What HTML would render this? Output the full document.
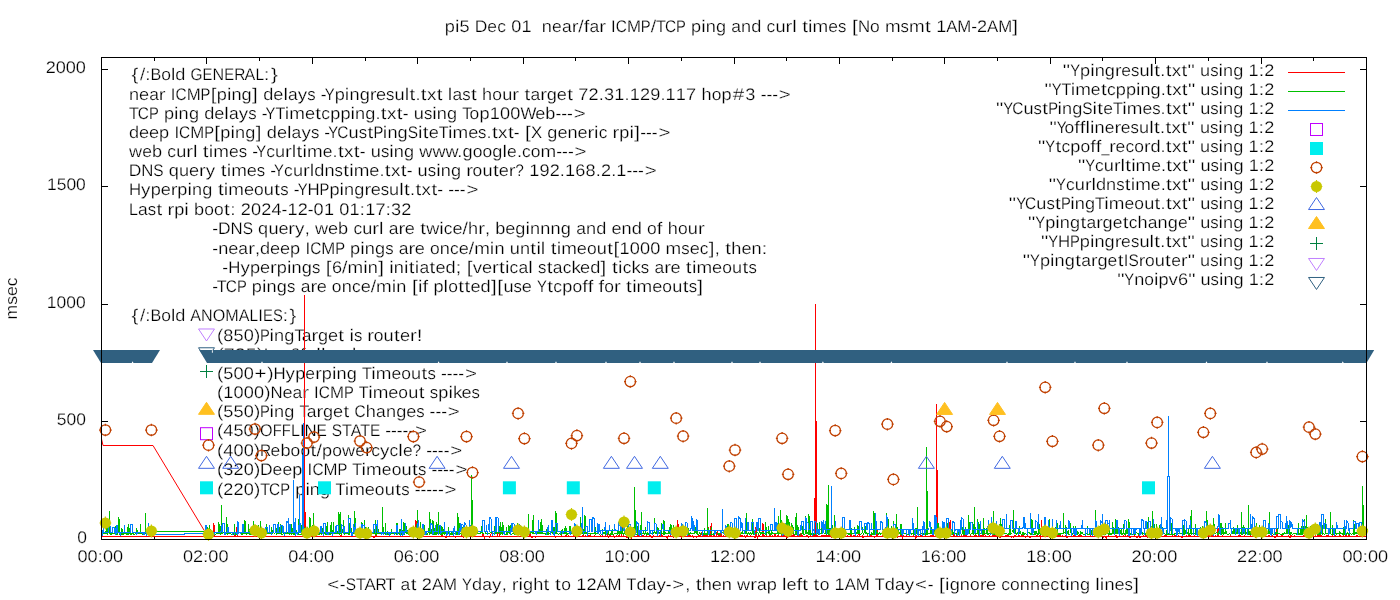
<!DOCTYPE html>
<html><head><meta charset="utf-8"><title>plot</title><style>
html,body{margin:0;padding:0;background:#fff;overflow:hidden}svg{display:block}
text{font-family:"Liberation Sans",sans-serif;font-size:16.8px;fill:#000;stroke:#fff;stroke-width:.24px;paint-order:fill stroke;text-rendering:geometricPrecision}
</style></head><body><div style="will-change:transform;width:1400px;height:600px">
<svg width="1400" height="600" viewBox="0 0 1400 600">
<rect width="1400" height="600" fill="#fff"/>
<text transform="scale(1.08,1)" x="411.9" y="32.0">p</text>
<text transform="scale(1.2,1)" x="379.2" y="32.0">i</text>
<text transform="scale(1.08,1)" x="425.5" y="32.0">5</text>
<text transform="scale(1.04,1)" x="456.5 468.6 478.1" y="32.0">Dec</text>
<text transform="scale(1.08,1)" x="473.3 482.8" y="32.0">01</text>
<text transform="scale(1.08,1)" x="501.7" y="32.0">n</text>
<text transform="scale(1.04,1)" x="530.8 540.3" y="32.0">ea</text>
<text transform="scale(1.2,1)" x="476.4" y="32.0">r</text>
<text transform="scale(1.16,1)" x="498.6" y="32.0">/</text>
<text transform="scale(1.2,1)" x="486.5" y="32.0">f</text>
<text transform="scale(1.04,1)" x="566.8" y="32.0">a</text>
<text transform="scale(1.2,1)" x="499.4" y="32.0">r</text>
<text transform="scale(1.0,1)" x="611.1" y="32.0">I</text>
<text transform="scale(0.92,1)" x="669.4" y="32.0">C</text>
<text transform="scale(1.0,1)" x="627.0" y="32.0">M</text>
<text transform="scale(0.88,1)" x="728.2" y="32.0">P</text>
<text transform="scale(1.16,1)" x="560.9" y="32.0">/</text>
<text transform="scale(0.96,1)" x="683.3" y="32.0">T</text>
<text transform="scale(0.92,1)" x="722.8" y="32.0">C</text>
<text transform="scale(0.88,1)" x="768.2" y="32.0">P</text>
<text transform="scale(1.08,1)" x="639.8" y="32.0">p</text>
<text transform="scale(1.2,1)" x="584.3" y="32.0">i</text>
<text transform="scale(1.08,1)" x="653.4 662.9" y="32.0">ng</text>
<text transform="scale(1.04,1)" x="703.1" y="32.0">a</text>
<text transform="scale(1.08,1)" x="686.2 695.6" y="32.0">nd</text>
<text transform="scale(1.04,1)" x="737.1" y="32.0">c</text>
<text transform="scale(1.08,1)" x="718.0" y="32.0">u</text>
<text transform="scale(1.2,1)" x="654.6 660.2" y="32.0">rl</text>
<text transform="scale(1.22,1)" x="657.5" y="32.0">t</text>
<text transform="scale(1.2,1)" x="673.4" y="32.0">i</text>
<text transform="scale(1.12,1)" x="725.5" y="32.0">m</text>
<text transform="scale(1.04,1)" x="796.5" y="32.0">e</text>
<text transform="scale(1.0,1)" x="838.1" y="32.0">s</text>
<text transform="scale(1.22,1)" x="698.3" y="32.0">[</text>
<text transform="scale(1.0,1)" x="857.9" y="32.0">N</text>
<text transform="scale(1.04,1)" x="836.6" y="32.0">o</text>
<text transform="scale(1.12,1)" x="790.1" y="32.0">m</text>
<text transform="scale(1.0,1)" x="900.6" y="32.0">s</text>
<text transform="scale(1.12,1)" x="811.6" y="32.0">m</text>
<text transform="scale(1.22,1)" x="758.2" y="32.0">t</text>
<text transform="scale(1.08,1)" x="866.8" y="32.0">1</text>
<text transform="scale(1.0,1)" x="946.2 957.3" y="32.0">AM</text>
<text transform="scale(1.04,1)" x="933.8" y="32.0">-</text>
<text transform="scale(1.08,1)" x="904.7" y="32.0">2</text>
<text transform="scale(1.0,1)" x="987.1 998.2" y="32.0">AM</text>
<text transform="scale(1.22,1)" x="829.8" y="32.0">]</text>
<text transform="scale(1.22,1)" x="268.2" y="590.0">&lt;</text>
<text transform="scale(1.04,1)" x="326.8" y="590.0">-</text>
<text transform="scale(0.92,1)" x="375.7" y="590.0">S</text>
<text transform="scale(0.96,1)" x="370.8" y="590.0">T</text>
<text transform="scale(1.0,1)" x="364.4" y="590.0">A</text>
<text transform="scale(0.92,1)" x="408.2" y="590.0">R</text>
<text transform="scale(0.96,1)" x="401.6" y="590.0">T</text>
<text transform="scale(1.04,1)" x="385.2" y="590.0">a</text>
<text transform="scale(1.22,1)" x="336.6" y="590.0">t</text>
<text transform="scale(1.08,1)" x="390.6" y="590.0">2</text>
<text transform="scale(1.0,1)" x="432.0 443.0" y="590.0">AM</text>
<text transform="scale(0.88,1)" x="525.1" y="590.0">Y</text>
<text transform="scale(1.08,1)" x="437.0" y="590.0">d</text>
<text transform="scale(1.04,1)" x="463.7" y="590.0">a</text>
<text transform="scale(1.12,1)" x="439.4" y="590.0">y</text>
<text transform="scale(1.08,1)" x="464.5" y="590.0">,</text>
<text transform="scale(1.2,1)" x="426.5 432.0" y="590.0">ri</text>
<text transform="scale(1.08,1)" x="484.2 493.7" y="590.0">gh</text>
<text transform="scale(1.22,1)" x="445.6" y="590.0">t</text>
<text transform="scale(1.22,1)" x="455.0" y="590.0">t</text>
<text transform="scale(1.04,1)" x="539.6" y="590.0">o</text>
<text transform="scale(1.08,1)" x="533.5 543.0" y="590.0">12</text>
<text transform="scale(1.0,1)" x="596.5 607.5" y="590.0">AM</text>
<text transform="scale(0.96,1)" x="652.7" y="590.0">T</text>
<text transform="scale(1.08,1)" x="589.4" y="590.0">d</text>
<text transform="scale(1.04,1)" x="621.9" y="590.0">a</text>
<text transform="scale(1.12,1)" x="586.2" y="590.0">y</text>
<text transform="scale(1.04,1)" x="640.2" y="590.0">-</text>
<text transform="scale(1.22,1)" x="551.1" y="590.0">&gt;</text>
<text transform="scale(1.08,1)" x="634.4" y="590.0">,</text>
<text transform="scale(1.22,1)" x="570.2" y="590.0">t</text>
<text transform="scale(1.08,1)" x="649.7 659.0 668.4" y="590.0">hen</text>
<text transform="scale(1.08,1)" x="682.5" y="590.0">w</text>
<text transform="scale(1.2,1)" x="625.2" y="590.0">r</text>
<text transform="scale(1.04,1)" x="727.8" y="590.0">a</text>
<text transform="scale(1.08,1)" x="710.0" y="590.0">p</text>
<text transform="scale(1.2,1)" x="651.7" y="590.0">l</text>
<text transform="scale(1.08,1)" x="728.2" y="590.0">e</text>
<text transform="scale(1.2,1)" x="663.8" y="590.0">f</text>
<text transform="scale(1.22,1)" x="657.5" y="590.0">t</text>
<text transform="scale(1.22,1)" x="666.9" y="590.0">t</text>
<text transform="scale(1.04,1)" x="788.2" y="590.0">o</text>
<text transform="scale(1.08,1)" x="772.8" y="590.0">1</text>
<text transform="scale(1.0,1)" x="844.8 855.8" y="590.0">AM</text>
<text transform="scale(0.96,1)" x="911.3" y="590.0">T</text>
<text transform="scale(1.08,1)" x="819.2" y="590.0">d</text>
<text transform="scale(1.04,1)" x="860.6" y="590.0">a</text>
<text transform="scale(1.12,1)" x="807.9" y="590.0">y</text>
<text transform="scale(1.22,1)" x="750.1" y="590.0">&lt;</text>
<text transform="scale(1.04,1)" x="892.2" y="590.0">-</text>
<text transform="scale(1.22,1)" x="769.7" y="590.0">[</text>
<text transform="scale(1.2,1)" x="787.5" y="590.0">i</text>
<text transform="scale(1.08,1)" x="879.3 888.7" y="590.0">gn</text>
<text transform="scale(1.04,1)" x="932.7" y="590.0">o</text>
<text transform="scale(1.2,1)" x="816.5" y="590.0">r</text>
<text transform="scale(1.08,1)" x="913.0" y="590.0">e</text>
<text transform="scale(1.04,1)" x="962.7 971.2" y="590.0">co</text>
<text transform="scale(1.08,1)" x="944.3 953.8 963.1" y="590.0">nne</text>
<text transform="scale(1.04,1)" x="1009.8" y="590.0">c</text>
<text transform="scale(1.22,1)" x="868.3" y="590.0">t</text>
<text transform="scale(1.2,1)" x="887.8" y="590.0">i</text>
<text transform="scale(1.08,1)" x="990.6 1000.1" y="590.0">ng</text>
<text transform="scale(1.2,1)" x="912.8 916.5" y="590.0">li</text>
<text transform="scale(1.08,1)" x="1022.6 1031.9" y="590.0">ne</text>
<text transform="scale(1.0,1)" x="1124.4" y="590.0">s</text>
<text transform="scale(1.22,1)" x="928.8" y="590.0">]</text>
<text transform="translate(16.7,319.4) rotate(-90)" x="0" y="0" textLength="42" lengthAdjust="spacingAndGlyphs">msec</text>
<text transform="scale(1.08,1)" x="42.4 51.7 60.9 70.2" y="72.8">2000</text>
<text transform="scale(1.04,1)" x="45.2 54.5 63.9 73.2" y="190.3">1500</text>
<text transform="scale(1.04,1)" x="45.0 54.4 63.8 73.2" y="307.8">1000</text>
<text transform="scale(1.04,1)" x="54.7 64.0 73.3" y="425.3">500</text>
<text transform="scale(1.04,1)" x="74.4" y="542.8">0</text>
<text transform="scale(1.08,1)" x="71.7 81.1" y="561.5">00</text>
<text transform="scale(1.16,1)" x="84.1" y="561.5">:</text>
<text transform="scale(1.08,1)" x="95.3 104.6" y="561.5">00</text>
<text transform="scale(1.08,1)" x="169.4 178.7" y="561.5">02</text>
<text transform="scale(1.16,1)" x="175.0" y="561.5">:</text>
<text transform="scale(1.08,1)" x="192.9 202.3" y="561.5">00</text>
<text transform="scale(1.08,1)" x="267.0 276.3" y="561.5">04</text>
<text transform="scale(1.16,1)" x="265.9" y="561.5">:</text>
<text transform="scale(1.08,1)" x="290.5 299.9" y="561.5">00</text>
<text transform="scale(1.08,1)" x="364.6 373.9" y="561.5">06</text>
<text transform="scale(1.16,1)" x="356.8" y="561.5">:</text>
<text transform="scale(1.08,1)" x="388.2 397.5" y="561.5">00</text>
<text transform="scale(1.08,1)" x="462.2 471.5" y="561.5">08</text>
<text transform="scale(1.16,1)" x="447.6" y="561.5">:</text>
<text transform="scale(1.08,1)" x="485.8 495.1" y="561.5">00</text>
<text transform="scale(1.08,1)" x="559.8 569.1" y="561.5">10</text>
<text transform="scale(1.16,1)" x="538.5" y="561.5">:</text>
<text transform="scale(1.08,1)" x="583.4 592.7" y="561.5">00</text>
<text transform="scale(1.08,1)" x="657.4 666.7" y="561.5">12</text>
<text transform="scale(1.16,1)" x="629.4" y="561.5">:</text>
<text transform="scale(1.08,1)" x="681.0 690.3" y="561.5">00</text>
<text transform="scale(1.08,1)" x="755.0 764.3" y="561.5">14</text>
<text transform="scale(1.16,1)" x="720.3" y="561.5">:</text>
<text transform="scale(1.08,1)" x="778.6 787.9" y="561.5">00</text>
<text transform="scale(1.08,1)" x="852.6 861.9" y="561.5">16</text>
<text transform="scale(1.16,1)" x="811.1" y="561.5">:</text>
<text transform="scale(1.08,1)" x="876.2 885.5" y="561.5">00</text>
<text transform="scale(1.08,1)" x="950.2 959.5" y="561.5">18</text>
<text transform="scale(1.16,1)" x="902.0" y="561.5">:</text>
<text transform="scale(1.08,1)" x="973.8 983.1" y="561.5">00</text>
<text transform="scale(1.08,1)" x="1047.8 1057.1" y="561.5">20</text>
<text transform="scale(1.16,1)" x="992.9" y="561.5">:</text>
<text transform="scale(1.08,1)" x="1071.4 1080.7" y="561.5">00</text>
<text transform="scale(1.08,1)" x="1145.4 1154.8" y="561.5">22</text>
<text transform="scale(1.16,1)" x="1083.8" y="561.5">:</text>
<text transform="scale(1.08,1)" x="1169.0 1178.3" y="561.5">00</text>
<text transform="scale(1.08,1)" x="1243.0 1252.4" y="561.5">00</text>
<text transform="scale(1.16,1)" x="1174.6" y="561.5">:</text>
<text transform="scale(1.08,1)" x="1266.6 1275.9" y="561.5">00</text>
<text transform="scale(1.22,1)" x="107.8" y="80.0">{</text>
<text transform="scale(1.12,1)" x="125.0 129.7" y="80.0">/:</text>
<text transform="scale(0.96,1)" x="156.8" y="80.0">B</text>
<text transform="scale(1.04,1)" x="155.1" y="80.0">o</text>
<text transform="scale(1.16,1)" x="147.4" y="80.0">l</text>
<text transform="scale(1.08,1)" x="162.3" y="80.0">d</text>
<text transform="scale(0.92,1)" x="207.0" y="80.0">G</text>
<text transform="scale(0.88,1)" x="230.2" y="80.0">E</text>
<text transform="scale(0.96,1)" x="221.4" y="80.0">N</text>
<text transform="scale(0.88,1)" x="254.9" y="80.0">E</text>
<text transform="scale(0.92,1)" x="254.5" y="80.0">R</text>
<text transform="scale(0.96,1)" x="254.7" y="80.0">A</text>
<text transform="scale(0.92,1)" x="277.6" y="80.0">L</text>
<text transform="scale(1.12,1)" x="235.8" y="80.0">:</text>
<text transform="scale(1.22,1)" x="222.1" y="80.0">}</text>
<text transform="scale(1.08,1)" x="119.4 128.7" y="99.5">ne</text>
<text transform="scale(1.04,1)" x="143.4" y="99.5">a</text>
<text transform="scale(1.2,1)" x="132.4" y="99.5">r</text>
<text transform="scale(1.0,1)" x="170.7" y="99.5">I</text>
<text transform="scale(0.92,1)" x="190.8" y="99.5">C</text>
<text transform="scale(1.0,1)" x="186.7" y="99.5">M</text>
<text transform="scale(0.88,1)" x="227.9" y="99.5">P</text>
<text transform="scale(1.22,1)" x="172.7" y="99.5">[</text>
<text transform="scale(1.08,1)" x="200.7" y="99.5">p</text>
<text transform="scale(1.2,1)" x="189.1" y="99.5">i</text>
<text transform="scale(1.08,1)" x="214.3 223.7" y="99.5">ng</text>
<text transform="scale(1.22,1)" x="206.6" y="99.5">]</text>
<text transform="scale(1.08,1)" x="243.8 253.1" y="99.5">de</text>
<text transform="scale(1.2,1)" x="236.2" y="99.5">l</text>
<text transform="scale(1.04,1)" x="276.9" y="99.5">a</text>
<text transform="scale(1.12,1)" x="265.9" y="99.5">y</text>
<text transform="scale(1.0,1)" x="307.3" y="99.5">s</text>
<text transform="scale(1.04,1)" x="308.5" y="99.5">-</text>
<text transform="scale(0.88,1)" x="369.0" y="99.5">Y</text>
<text transform="scale(1.08,1)" x="309.9" y="99.5">p</text>
<text transform="scale(1.2,1)" x="287.4" y="99.5">i</text>
<text transform="scale(1.08,1)" x="323.5 333.0" y="99.5">ng</text>
<text transform="scale(1.2,1)" x="308.1" y="99.5">r</text>
<text transform="scale(1.08,1)" x="348.1" y="99.5">e</text>
<text transform="scale(1.0,1)" x="386.0" y="99.5">s</text>
<text transform="scale(1.08,1)" x="365.2" y="99.5">u</text>
<text transform="scale(1.2,1)" x="337.2" y="99.5">l</text>
<text transform="scale(1.22,1)" x="335.6" y="99.5">t</text>
<text transform="scale(1.08,1)" x="384.7" y="99.5">.</text>
<text transform="scale(1.22,1)" x="344.9" y="99.5">t</text>
<text transform="scale(1.12,1)" x="381.2" y="99.5">x</text>
<text transform="scale(1.22,1)" x="358.0" y="99.5">t</text>
<text transform="scale(1.2,1)" x="373.2" y="99.5">l</text>
<text transform="scale(1.04,1)" x="435.0" y="99.5">a</text>
<text transform="scale(1.0,1)" x="462.2" y="99.5">s</text>
<text transform="scale(1.22,1)" x="386.0" y="99.5">t</text>
<text transform="scale(1.08,1)" x="446.4" y="99.5">h</text>
<text transform="scale(1.04,1)" x="473.4" y="99.5">o</text>
<text transform="scale(1.08,1)" x="465.0" y="99.5">u</text>
<text transform="scale(1.2,1)" x="426.9" y="99.5">r</text>
<text transform="scale(1.22,1)" x="429.9" y="99.5">t</text>
<text transform="scale(1.04,1)" x="510.1" y="99.5">a</text>
<text transform="scale(1.2,1)" x="450.2" y="99.5">r</text>
<text transform="scale(1.08,1)" x="506.2 515.6" y="99.5">ge</text>
<text transform="scale(1.22,1)" x="464.9" y="99.5">t</text>
<text transform="scale(1.08,1)" x="535.5 545.0 554.5 559.3 568.8 578.2 583.0 592.5 602.0 611.5 616.3 625.8 635.3" y="99.5">72.31.129.117</text>
<text transform="scale(1.08,1)" x="649.5" y="99.5">h</text>
<text transform="scale(1.04,1)" x="684.3" y="99.5">o</text>
<text transform="scale(1.08,1)" x="668.1" y="99.5">p</text>
<text transform="scale(1.22,1)" x="600.6" y="99.5">#</text>
<text transform="scale(1.08,1)" x="690.1" y="99.5">3</text>
<text transform="scale(1.04,1)" x="731.4 737.0 742.6" y="99.5">---</text>
<text transform="scale(1.22,1)" x="638.4" y="99.5">&gt;</text>
<text transform="scale(0.96,1)" x="134.3" y="118.7">T</text>
<text transform="scale(0.92,1)" x="149.8" y="118.7">C</text>
<text transform="scale(0.88,1)" x="169.3" y="118.7">P</text>
<text transform="scale(1.08,1)" x="151.8" y="118.7">p</text>
<text transform="scale(1.2,1)" x="145.1" y="118.7">i</text>
<text transform="scale(1.08,1)" x="165.4 174.9" y="118.7">ng</text>
<text transform="scale(1.08,1)" x="189.1 198.4" y="118.7">de</text>
<text transform="scale(1.2,1)" x="186.9" y="118.7">l</text>
<text transform="scale(1.04,1)" x="220.1" y="118.7">a</text>
<text transform="scale(1.12,1)" x="213.2" y="118.7">y</text>
<text transform="scale(1.0,1)" x="248.2" y="118.7">s</text>
<text transform="scale(1.04,1)" x="251.7" y="118.7">-</text>
<text transform="scale(0.88,1)" x="301.8" y="118.7">Y</text>
<text transform="scale(0.96,1)" x="286.9" y="118.7">T</text>
<text transform="scale(1.2,1)" x="237.3" y="118.7">i</text>
<text transform="scale(1.12,1)" x="258.3" y="118.7">m</text>
<text transform="scale(1.08,1)" x="282.3" y="118.7">e</text>
<text transform="scale(1.22,1)" x="258.4" y="118.7">t</text>
<text transform="scale(1.04,1)" x="308.9" y="118.7">c</text>
<text transform="scale(1.08,1)" x="305.7 315.2" y="118.7">pp</text>
<text transform="scale(1.2,1)" x="292.1" y="118.7">i</text>
<text transform="scale(1.08,1)" x="328.8 338.2 347.7" y="118.7">ng.</text>
<text transform="scale(1.22,1)" x="312.2" y="118.7">t</text>
<text transform="scale(1.12,1)" x="345.5" y="118.7">x</text>
<text transform="scale(1.22,1)" x="325.2" y="118.7">t</text>
<text transform="scale(1.04,1)" x="387.3" y="118.7">-</text>
<text transform="scale(1.08,1)" x="383.1" y="118.7">u</text>
<text transform="scale(1.0,1)" x="423.9" y="118.7">s</text>
<text transform="scale(1.2,1)" x="360.3" y="118.7">i</text>
<text transform="scale(1.08,1)" x="404.5 414.0" y="118.7">ng</text>
<text transform="scale(0.96,1)" x="481.6" y="118.7">T</text>
<text transform="scale(1.04,1)" x="451.5" y="118.7">o</text>
<text transform="scale(1.08,1)" x="443.9 453.4 462.9 472.4" y="118.7">p100</text>
<text transform="scale(1.0,1)" x="520.4" y="118.7">W</text>
<text transform="scale(1.08,1)" x="495.6 504.9" y="118.7">eb</text>
<text transform="scale(1.04,1)" x="534.1 539.7 545.3" y="118.7">---</text>
<text transform="scale(1.22,1)" x="470.2" y="118.7">&gt;</text>
<text transform="scale(1.08,1)" x="119.4 128.7 137.9 147.3" y="138.0">deep</text>
<text transform="scale(1.0,1)" x="174.4" y="138.0">I</text>
<text transform="scale(0.92,1)" x="194.7" y="138.0">C</text>
<text transform="scale(1.0,1)" x="190.3" y="138.0">M</text>
<text transform="scale(0.88,1)" x="232.0" y="138.0">P</text>
<text transform="scale(1.22,1)" x="175.6" y="138.0">[</text>
<text transform="scale(1.08,1)" x="204.0" y="138.0">p</text>
<text transform="scale(1.2,1)" x="192.1" y="138.0">i</text>
<text transform="scale(1.08,1)" x="217.6 227.1" y="138.0">ng</text>
<text transform="scale(1.22,1)" x="209.6" y="138.0">]</text>
<text transform="scale(1.08,1)" x="247.1 256.5" y="138.0">de</text>
<text transform="scale(1.2,1)" x="239.1" y="138.0">l</text>
<text transform="scale(1.04,1)" x="280.3" y="138.0">a</text>
<text transform="scale(1.12,1)" x="269.1" y="138.0">y</text>
<text transform="scale(1.0,1)" x="310.9" y="138.0">s</text>
<text transform="scale(1.04,1)" x="311.9" y="138.0">-</text>
<text transform="scale(0.88,1)" x="373.1" y="138.0">Y</text>
<text transform="scale(0.92,1)" x="366.6" y="138.0">C</text>
<text transform="scale(1.08,1)" x="322.8" y="138.0">u</text>
<text transform="scale(1.0,1)" x="358.7" y="138.0">s</text>
<text transform="scale(1.22,1)" x="301.2" y="138.0">t</text>
<text transform="scale(0.88,1)" x="424.3" y="138.0">P</text>
<text transform="scale(1.2,1)" x="319.0" y="138.0">i</text>
<text transform="scale(1.08,1)" x="358.7 368.1" y="138.0">ng</text>
<text transform="scale(0.92,1)" x="443.2" y="138.0">S</text>
<text transform="scale(1.2,1)" x="348.3" y="138.0">i</text>
<text transform="scale(1.22,1)" x="346.5" y="138.0">t</text>
<text transform="scale(1.08,1)" x="396.9" y="138.0">e</text>
<text transform="scale(0.96,1)" x="457.0" y="138.0">T</text>
<text transform="scale(1.2,1)" x="373.4" y="138.0">i</text>
<text transform="scale(1.12,1)" x="404.0" y="138.0">m</text>
<text transform="scale(1.08,1)" x="433.5" y="138.0">e</text>
<text transform="scale(1.0,1)" x="478.1" y="138.0">s</text>
<text transform="scale(1.08,1)" x="450.5" y="138.0">.</text>
<text transform="scale(1.22,1)" x="403.3" y="138.0">t</text>
<text transform="scale(1.12,1)" x="444.7" y="138.0">x</text>
<text transform="scale(1.22,1)" x="416.3" y="138.0">t</text>
<text transform="scale(1.04,1)" x="494.1" y="138.0">-</text>
<text transform="scale(1.22,1)" x="430.4" y="138.0">[</text>
<text transform="scale(1.0,1)" x="531.0" y="138.0">X</text>
<text transform="scale(1.08,1)" x="506.8 516.1 525.4 534.7" y="138.0">gene</text>
<text transform="scale(1.2,1)" x="489.6 495.1" y="138.0">ri</text>
<text transform="scale(1.04,1)" x="575.7" y="138.0">c</text>
<text transform="scale(1.2,1)" x="510.5" y="138.0">r</text>
<text transform="scale(1.08,1)" x="573.4" y="138.0">p</text>
<text transform="scale(1.2,1)" x="524.6" y="138.0">i</text>
<text transform="scale(1.22,1)" x="519.9" y="138.0">]</text>
<text transform="scale(1.04,1)" x="615.6 621.2 626.8" y="138.0">---</text>
<text transform="scale(1.22,1)" x="539.7" y="138.0">&gt;</text>
<text transform="scale(1.08,1)" x="119.4" y="157.0">w</text>
<text transform="scale(1.04,1)" x="136.7" y="157.0">e</text>
<text transform="scale(1.08,1)" x="140.8" y="157.0">b</text>
<text transform="scale(1.04,1)" x="160.9" y="157.0">c</text>
<text transform="scale(1.08,1)" x="163.1" y="157.0">u</text>
<text transform="scale(1.2,1)" x="155.2 160.8" y="157.0">rl</text>
<text transform="scale(1.22,1)" x="166.2" y="157.0">t</text>
<text transform="scale(1.2,1)" x="174.0" y="157.0">i</text>
<text transform="scale(1.12,1)" x="190.4" y="157.0">m</text>
<text transform="scale(1.04,1)" x="220.2" y="157.0">e</text>
<text transform="scale(1.0,1)" x="238.8" y="157.0">s</text>
<text transform="scale(1.04,1)" x="242.6" y="157.0">-</text>
<text transform="scale(0.88,1)" x="291.2" y="157.0">Y</text>
<text transform="scale(1.04,1)" x="255.9" y="157.0">c</text>
<text transform="scale(1.08,1)" x="254.6" y="157.0">u</text>
<text transform="scale(1.2,1)" x="237.5 243.1" y="157.0">rl</text>
<text transform="scale(1.22,1)" x="243.0" y="157.0">t</text>
<text transform="scale(1.2,1)" x="252.1" y="157.0">i</text>
<text transform="scale(1.12,1)" x="274.1" y="157.0">m</text>
<text transform="scale(1.04,1)" x="310.3" y="157.0">e</text>
<text transform="scale(1.08,1)" x="307.9" y="157.0">.</text>
<text transform="scale(1.22,1)" x="277.0" y="157.0">t</text>
<text transform="scale(1.12,1)" x="307.2" y="157.0">x</text>
<text transform="scale(1.22,1)" x="290.0" y="157.0">t</text>
<text transform="scale(1.04,1)" x="345.9" y="157.0">-</text>
<text transform="scale(1.08,1)" x="343.3" y="157.0">u</text>
<text transform="scale(1.0,1)" x="380.9" y="157.0">s</text>
<text transform="scale(1.2,1)" x="324.4" y="157.0">i</text>
<text transform="scale(1.08,1)" x="364.6 374.1" y="157.0">ng</text>
<text transform="scale(1.08,1)" x="388.2 400.4 412.6 423.4 428.2" y="157.0">www.g</text>
<text transform="scale(1.04,1)" x="454.5 463.9" y="157.0">oo</text>
<text transform="scale(1.08,1)" x="455.9" y="157.0">g</text>
<text transform="scale(1.2,1)" x="418.7" y="157.0">l</text>
<text transform="scale(1.04,1)" x="487.5" y="157.0">e</text>
<text transform="scale(1.08,1)" x="478.6" y="157.0">.</text>
<text transform="scale(1.04,1)" x="501.9 510.4" y="157.0">co</text>
<text transform="scale(1.12,1)" x="482.7" y="157.0">m</text>
<text transform="scale(1.04,1)" x="534.9 540.5 546.1" y="157.0">---</text>
<text transform="scale(1.22,1)" x="470.9" y="157.0">&gt;</text>
<text transform="scale(1.04,1)" x="123.8" y="176.2">D</text>
<text transform="scale(1.0,1)" x="141.3" y="176.2">N</text>
<text transform="scale(0.92,1)" x="166.6" y="176.2">S</text>
<text transform="scale(1.08,1)" x="156.3 165.7 175.0" y="176.2">que</text>
<text transform="scale(1.2,1)" x="165.8" y="176.2">r</text>
<text transform="scale(1.12,1)" x="183.7" y="176.2">y</text>
<text transform="scale(1.22,1)" x="180.9" y="176.2">t</text>
<text transform="scale(1.2,1)" x="188.9" y="176.2">i</text>
<text transform="scale(1.12,1)" x="206.4" y="176.2">m</text>
<text transform="scale(1.08,1)" x="228.5" y="176.2">e</text>
<text transform="scale(1.0,1)" x="256.7" y="176.2">s</text>
<text transform="scale(1.04,1)" x="259.8" y="176.2">-</text>
<text transform="scale(0.88,1)" x="311.5" y="176.2">Y</text>
<text transform="scale(1.04,1)" x="273.1" y="176.2">c</text>
<text transform="scale(1.08,1)" x="271.2" y="176.2">u</text>
<text transform="scale(1.2,1)" x="252.5 258.1" y="176.2">rl</text>
<text transform="scale(1.08,1)" x="290.9 300.4" y="176.2">dn</text>
<text transform="scale(1.0,1)" x="334.6" y="176.2">s</text>
<text transform="scale(1.22,1)" x="281.4" y="176.2">t</text>
<text transform="scale(1.2,1)" x="291.1" y="176.2">i</text>
<text transform="scale(1.12,1)" x="315.9" y="176.2">m</text>
<text transform="scale(1.08,1)" x="342.0 351.3" y="176.2">e.</text>
<text transform="scale(1.22,1)" x="315.4" y="176.2">t</text>
<text transform="scale(1.12,1)" x="349.0" y="176.2">x</text>
<text transform="scale(1.22,1)" x="328.4" y="176.2">t</text>
<text transform="scale(1.04,1)" x="391.0" y="176.2">-</text>
<text transform="scale(1.08,1)" x="386.7" y="176.2">u</text>
<text transform="scale(1.0,1)" x="427.8" y="176.2">s</text>
<text transform="scale(1.2,1)" x="363.5" y="176.2">i</text>
<text transform="scale(1.08,1)" x="408.1 417.6" y="176.2">ng</text>
<text transform="scale(1.2,1)" x="388.5" y="176.2">r</text>
<text transform="scale(1.04,1)" x="454.4" y="176.2">o</text>
<text transform="scale(1.08,1)" x="446.7" y="176.2">u</text>
<text transform="scale(1.22,1)" x="404.0" y="176.2">t</text>
<text transform="scale(1.08,1)" x="461.9" y="176.2">e</text>
<text transform="scale(1.2,1)" x="424.0" y="176.2">r</text>
<text transform="scale(0.92,1)" x="560.2" y="176.2">?</text>
<text transform="scale(1.08,1)" x="490.0 499.5 509.0 518.4 523.2 532.7 542.2 551.6 556.4 565.9 570.6" y="176.2">192.168.2.1</text>
<text transform="scale(1.04,1)" x="602.4 608.0 613.5" y="176.2">---</text>
<text transform="scale(1.22,1)" x="528.4" y="176.2">&gt;</text>
<text transform="scale(1.0,1)" x="128.9" y="195.3">H</text>
<text transform="scale(1.12,1)" x="126.0" y="195.3">y</text>
<text transform="scale(1.08,1)" x="139.5 148.8" y="195.3">pe</text>
<text transform="scale(1.2,1)" x="142.2" y="195.3">r</text>
<text transform="scale(1.08,1)" x="164.2" y="195.3">p</text>
<text transform="scale(1.2,1)" x="156.3" y="195.3">i</text>
<text transform="scale(1.08,1)" x="177.8 187.3" y="195.3">ng</text>
<text transform="scale(1.22,1)" x="178.6" y="195.3">t</text>
<text transform="scale(1.2,1)" x="186.5" y="195.3">i</text>
<text transform="scale(1.12,1)" x="203.9" y="195.3">m</text>
<text transform="scale(1.08,1)" x="225.9" y="195.3">e</text>
<text transform="scale(1.04,1)" x="244.2" y="195.3">o</text>
<text transform="scale(1.08,1)" x="244.3" y="195.3">u</text>
<text transform="scale(1.22,1)" x="224.8" y="195.3">t</text>
<text transform="scale(1.0,1)" x="280.3" y="195.3">s</text>
<text transform="scale(1.04,1)" x="282.5" y="195.3">-</text>
<text transform="scale(0.88,1)" x="338.3" y="195.3">Y</text>
<text transform="scale(1.0,1)" x="307.5" y="195.3">H</text>
<text transform="scale(0.88,1)" x="363.2" y="195.3">P</text>
<text transform="scale(1.08,1)" x="305.0" y="195.3">p</text>
<text transform="scale(1.2,1)" x="283.0" y="195.3">i</text>
<text transform="scale(1.08,1)" x="318.6 328.1" y="195.3">ng</text>
<text transform="scale(1.2,1)" x="303.7" y="195.3">r</text>
<text transform="scale(1.08,1)" x="343.2" y="195.3">e</text>
<text transform="scale(1.0,1)" x="380.7" y="195.3">s</text>
<text transform="scale(1.08,1)" x="360.3" y="195.3">u</text>
<text transform="scale(1.2,1)" x="332.7" y="195.3">l</text>
<text transform="scale(1.22,1)" x="331.2" y="195.3">t</text>
<text transform="scale(1.08,1)" x="379.7" y="195.3">.</text>
<text transform="scale(1.22,1)" x="340.6" y="195.3">t</text>
<text transform="scale(1.12,1)" x="376.4" y="195.3">x</text>
<text transform="scale(1.22,1)" x="353.6" y="195.3">t</text>
<text transform="scale(1.04,1)" x="420.5" y="195.3">-</text>
<text transform="scale(1.04,1)" x="431.0 436.6 442.2" y="195.3">---</text>
<text transform="scale(1.22,1)" x="382.4" y="195.3">&gt;</text>
<text transform="scale(0.96,1)" x="134.3" y="214.5">L</text>
<text transform="scale(1.04,1)" x="132.6" y="214.5">a</text>
<text transform="scale(1.0,1)" x="147.7" y="214.5">s</text>
<text transform="scale(1.22,1)" x="128.2" y="214.5">t</text>
<text transform="scale(1.2,1)" x="139.5" y="214.5">r</text>
<text transform="scale(1.08,1)" x="161.3" y="214.5">p</text>
<text transform="scale(1.2,1)" x="153.6" y="214.5">i</text>
<text transform="scale(1.08,1)" x="179.6" y="214.5">b</text>
<text transform="scale(1.04,1)" x="196.3 205.8" y="214.5">oo</text>
<text transform="scale(1.22,1)" x="183.7" y="214.5">t</text>
<text transform="scale(1.16,1)" x="198.4" y="214.5">:</text>
<text transform="scale(1.08,1)" x="222.9 232.3 241.8 251.3" y="214.5">2024</text>
<text transform="scale(1.04,1)" x="270.7" y="214.5">-</text>
<text transform="scale(1.08,1)" x="266.1 275.6" y="214.5">12</text>
<text transform="scale(1.04,1)" x="296.0" y="214.5">-</text>
<text transform="scale(1.08,1)" x="290.4 299.9" y="214.5">01</text>
<text transform="scale(1.08,1)" x="314.1 323.6" y="214.5">01</text>
<text transform="scale(1.16,1)" x="310.0" y="214.5">:</text>
<text transform="scale(1.08,1)" x="338.1 347.6" y="214.5">17</text>
<text transform="scale(1.16,1)" x="332.3" y="214.5">:</text>
<text transform="scale(1.08,1)" x="362.0 371.5" y="214.5">32</text>
<text transform="scale(1.04,1)" x="204.2 209.7" y="234.2">-D</text>
<text transform="scale(1.0,1)" x="230.6" y="234.2">N</text>
<text transform="scale(0.92,1)" x="263.8" y="234.2">S</text>
<text transform="scale(1.08,1)" x="239.0 248.5 257.8" y="234.2">que</text>
<text transform="scale(1.2,1)" x="240.3" y="234.2">r</text>
<text transform="scale(1.12,1)" x="263.5" y="234.2">y</text>
<text transform="scale(1.08,1)" x="282.1" y="234.2">,</text>
<text transform="scale(1.08,1)" x="291.6 303.7 313.0" y="234.2">web</text>
<text transform="scale(1.04,1)" x="339.8" y="234.2">c</text>
<text transform="scale(1.08,1)" x="335.4" y="234.2">u</text>
<text transform="scale(1.2,1)" x="310.3 315.9" y="234.2">rl</text>
<text transform="scale(1.04,1)" x="373.8" y="234.2">a</text>
<text transform="scale(1.2,1)" x="332.1" y="234.2">r</text>
<text transform="scale(1.08,1)" x="374.7" y="234.2">e</text>
<text transform="scale(1.22,1)" x="344.4" y="234.2">t</text>
<text transform="scale(1.08,1)" x="394.6" y="234.2">w</text>
<text transform="scale(1.2,1)" x="366.1" y="234.2">i</text>
<text transform="scale(1.04,1)" x="426.8" y="234.2">c</text>
<text transform="scale(1.08,1)" x="419.1" y="234.2">e</text>
<text transform="scale(1.16,1)" x="398.8" y="234.2">/</text>
<text transform="scale(1.08,1)" x="433.4" y="234.2">h</text>
<text transform="scale(1.2,1)" x="398.5" y="234.2">r</text>
<text transform="scale(1.08,1)" x="449.0" y="234.2">,</text>
<text transform="scale(1.08,1)" x="458.5 467.9 477.2" y="234.2">beg</text>
<text transform="scale(1.2,1)" x="438.0" y="234.2">i</text>
<text transform="scale(1.08,1)" x="490.8 500.3 509.7 519.2" y="234.2">nnng</text>
<text transform="scale(1.04,1)" x="554.0" y="234.2">a</text>
<text transform="scale(1.08,1)" x="542.6 552.0" y="234.2">nd</text>
<text transform="scale(1.08,1)" x="566.1 575.4 584.9" y="234.2">end</text>
<text transform="scale(1.04,1)" x="622.2" y="234.2">o</text>
<text transform="scale(1.2,1)" x="547.4" y="234.2">f</text>
<text transform="scale(1.08,1)" x="618.3" y="234.2">h</text>
<text transform="scale(1.04,1)" x="651.9" y="234.2">o</text>
<text transform="scale(1.08,1)" x="636.9" y="234.2">u</text>
<text transform="scale(1.2,1)" x="581.6" y="234.2">r</text>
<text transform="scale(1.04,1)" x="204.2" y="253.5">-</text>
<text transform="scale(1.08,1)" x="202.1 211.4" y="253.5">ne</text>
<text transform="scale(1.04,1)" x="229.2" y="253.5">a</text>
<text transform="scale(1.2,1)" x="206.8" y="253.5">r</text>
<text transform="scale(1.08,1)" x="236.0 240.8 250.1 259.3 268.6" y="253.5">,deep</text>
<text transform="scale(1.0,1)" x="305.4" y="253.5">I</text>
<text transform="scale(0.92,1)" x="337.1" y="253.5">C</text>
<text transform="scale(1.0,1)" x="321.3" y="253.5">M</text>
<text transform="scale(0.88,1)" x="380.9" y="253.5">P</text>
<text transform="scale(1.08,1)" x="324.2" y="253.5">p</text>
<text transform="scale(1.2,1)" x="300.2" y="253.5">i</text>
<text transform="scale(1.08,1)" x="337.8 347.3" y="253.5">ng</text>
<text transform="scale(1.0,1)" x="385.2" y="253.5">s</text>
<text transform="scale(1.04,1)" x="383.5" y="253.5">a</text>
<text transform="scale(1.2,1)" x="340.5" y="253.5">r</text>
<text transform="scale(1.08,1)" x="384.1" y="253.5">e</text>
<text transform="scale(1.04,1)" x="413.4" y="253.5">o</text>
<text transform="scale(1.08,1)" x="407.2" y="253.5">n</text>
<text transform="scale(1.04,1)" x="432.7" y="253.5">c</text>
<text transform="scale(1.08,1)" x="424.8" y="253.5">e</text>
<text transform="scale(1.16,1)" x="404.1" y="253.5">/</text>
<text transform="scale(1.12,1)" x="423.4" y="253.5">m</text>
<text transform="scale(1.2,1)" x="408.2" y="253.5">i</text>
<text transform="scale(1.08,1)" x="457.8" y="253.5">n</text>
<text transform="scale(1.08,1)" x="472.0 481.4" y="253.5">un</text>
<text transform="scale(1.22,1)" x="434.7" y="253.5">t</text>
<text transform="scale(1.2,1)" x="447.0 450.7" y="253.5">il</text>
<text transform="scale(1.22,1)" x="451.5" y="253.5">t</text>
<text transform="scale(1.2,1)" x="464.0" y="253.5">i</text>
<text transform="scale(1.12,1)" x="501.1" y="253.5">m</text>
<text transform="scale(1.08,1)" x="534.1" y="253.5">e</text>
<text transform="scale(1.04,1)" x="564.4" y="253.5">o</text>
<text transform="scale(1.08,1)" x="552.6" y="253.5">u</text>
<text transform="scale(1.22,1)" x="497.7 502.9" y="253.5">t[</text>
<text transform="scale(1.08,1)" x="573.7 583.2 592.7 602.2" y="253.5">1000</text>
<text transform="scale(1.12,1)" x="594.3" y="253.5">m</text>
<text transform="scale(1.0,1)" x="681.3" y="253.5">s</text>
<text transform="scale(1.08,1)" x="638.6" y="253.5">e</text>
<text transform="scale(1.04,1)" x="672.8" y="253.5">c</text>
<text transform="scale(1.22,1)" x="581.0" y="253.5">]</text>
<text transform="scale(1.08,1)" x="661.9" y="253.5">,</text>
<text transform="scale(1.22,1)" x="594.5" y="253.5">t</text>
<text transform="scale(1.08,1)" x="677.2 686.5 695.9" y="253.5">hen</text>
<text transform="scale(1.16,1)" x="656.6" y="253.5">:</text>
<text transform="scale(1.04,1)" x="213.8" y="272.8">-</text>
<text transform="scale(1.0,1)" x="228.2" y="272.8">H</text>
<text transform="scale(1.12,1)" x="214.7" y="272.8">y</text>
<text transform="scale(1.08,1)" x="231.5 240.8" y="272.8">pe</text>
<text transform="scale(1.2,1)" x="225.0" y="272.8">r</text>
<text transform="scale(1.08,1)" x="256.3" y="272.8">p</text>
<text transform="scale(1.2,1)" x="239.1" y="272.8">i</text>
<text transform="scale(1.08,1)" x="269.9 279.4" y="272.8">ng</text>
<text transform="scale(1.0,1)" x="311.9" y="272.8">s</text>
<text transform="scale(1.22,1)" x="267.0" y="272.8">[</text>
<text transform="scale(1.08,1)" x="307.3" y="272.8">6</text>
<text transform="scale(1.16,1)" x="294.9" y="272.8">/</text>
<text transform="scale(1.12,1)" x="310.3" y="272.8">m</text>
<text transform="scale(1.2,1)" x="302.7" y="272.8">i</text>
<text transform="scale(1.08,1)" x="340.5" y="272.8">n</text>
<text transform="scale(1.22,1)" x="310.0" y="272.8">]</text>
<text transform="scale(1.2,1)" x="324.4" y="272.8">i</text>
<text transform="scale(1.08,1)" x="364.7" y="272.8">n</text>
<text transform="scale(1.2,1)" x="336.7" y="272.8">i</text>
<text transform="scale(1.22,1)" x="335.1" y="272.8">t</text>
<text transform="scale(1.2,1)" x="345.7" y="272.8">i</text>
<text transform="scale(1.04,1)" x="403.3" y="272.8">a</text>
<text transform="scale(1.22,1)" x="352.1" y="272.8">t</text>
<text transform="scale(1.08,1)" x="403.2 412.6" y="272.8">ed</text>
<text transform="scale(1.16,1)" x="392.9" y="272.8">;</text>
<text transform="scale(1.22,1)" x="382.5" y="272.8">[</text>
<text transform="scale(1.12,1)" x="422.0" y="272.8">v</text>
<text transform="scale(1.08,1)" x="446.4" y="272.8">e</text>
<text transform="scale(1.2,1)" x="410.0" y="272.8">r</text>
<text transform="scale(1.22,1)" x="409.0" y="272.8">t</text>
<text transform="scale(1.2,1)" x="420.9" y="272.8">i</text>
<text transform="scale(1.04,1)" x="490.0 498.6" y="272.8">ca</text>
<text transform="scale(1.2,1)" x="440.3" y="272.8">l</text>
<text transform="scale(1.0,1)" x="537.9" y="272.8">s</text>
<text transform="scale(1.22,1)" x="448.1" y="272.8">t</text>
<text transform="scale(1.04,1)" x="531.5 541.0" y="272.8">ac</text>
<text transform="scale(1.12,1)" x="510.2" y="272.8">k</text>
<text transform="scale(1.08,1)" x="537.1 546.5" y="272.8">ed</text>
<text transform="scale(1.22,1)" x="492.3" y="272.8">]</text>
<text transform="scale(1.22,1)" x="501.7" y="272.8">t</text>
<text transform="scale(1.2,1)" x="515.1" y="272.8">i</text>
<text transform="scale(1.04,1)" x="598.7" y="272.8">c</text>
<text transform="scale(1.12,1)" x="563.8" y="272.8">k</text>
<text transform="scale(1.0,1)" x="640.8" y="272.8">s</text>
<text transform="scale(1.04,1)" x="629.3" y="272.8">a</text>
<text transform="scale(1.2,1)" x="553.5" y="272.8">r</text>
<text transform="scale(1.08,1)" x="620.8" y="272.8">e</text>
<text transform="scale(1.22,1)" x="562.2" y="272.8">t</text>
<text transform="scale(1.2,1)" x="576.6" y="272.8">i</text>
<text transform="scale(1.12,1)" x="621.8" y="272.8">m</text>
<text transform="scale(1.08,1)" x="659.3" y="272.8">e</text>
<text transform="scale(1.04,1)" x="694.4" y="272.8">o</text>
<text transform="scale(1.08,1)" x="677.8" y="272.8">u</text>
<text transform="scale(1.22,1)" x="608.6" y="272.8">t</text>
<text transform="scale(1.0,1)" x="748.5" y="272.8">s</text>
<text transform="scale(1.04,1)" x="204.2" y="292.0">-</text>
<text transform="scale(0.96,1)" x="225.8" y="292.0">T</text>
<text transform="scale(0.92,1)" x="245.3" y="292.0">C</text>
<text transform="scale(0.88,1)" x="269.2" y="292.0">P</text>
<text transform="scale(1.08,1)" x="233.2" y="292.0">p</text>
<text transform="scale(1.2,1)" x="218.4" y="292.0">i</text>
<text transform="scale(1.08,1)" x="246.8 256.3" y="292.0">ng</text>
<text transform="scale(1.0,1)" x="287.0" y="292.0">s</text>
<text transform="scale(1.04,1)" x="289.1" y="292.0">a</text>
<text transform="scale(1.2,1)" x="258.7" y="292.0">r</text>
<text transform="scale(1.08,1)" x="293.2" y="292.0">e</text>
<text transform="scale(1.04,1)" x="319.1" y="292.0">o</text>
<text transform="scale(1.08,1)" x="316.4" y="292.0">n</text>
<text transform="scale(1.04,1)" x="338.4" y="292.0">c</text>
<text transform="scale(1.08,1)" x="334.0" y="292.0">e</text>
<text transform="scale(1.16,1)" x="319.6" y="292.0">/</text>
<text transform="scale(1.12,1)" x="335.8" y="292.0">m</text>
<text transform="scale(1.2,1)" x="326.5" y="292.0">i</text>
<text transform="scale(1.08,1)" x="367.0" y="292.0">n</text>
<text transform="scale(1.22,1)" x="337.7" y="292.0">[</text>
<text transform="scale(1.2,1)" x="348.3 352.1" y="292.0">if</text>
<text transform="scale(1.08,1)" x="401.3" y="292.0">p</text>
<text transform="scale(1.2,1)" x="369.6" y="292.0">l</text>
<text transform="scale(1.04,1)" x="430.9" y="292.0">o</text>
<text transform="scale(1.22,1)" x="375.6 380.8" y="292.0">tt</text>
<text transform="scale(1.08,1)" x="435.6 445.0" y="292.0">ed</text>
<text transform="scale(1.22,1)" x="402.5 407.6" y="292.0">][</text>
<text transform="scale(1.08,1)" x="466.1" y="292.0">u</text>
<text transform="scale(1.0,1)" x="513.6" y="292.0">s</text>
<text transform="scale(1.08,1)" x="483.2" y="292.0">e</text>
<text transform="scale(0.88,1)" x="610.3" y="292.0">Y</text>
<text transform="scale(1.22,1)" x="448.5" y="292.0">t</text>
<text transform="scale(1.04,1)" x="532.0" y="292.0">c</text>
<text transform="scale(1.08,1)" x="520.5" y="292.0">p</text>
<text transform="scale(1.04,1)" x="550.4" y="292.0">o</text>
<text transform="scale(1.2,1)" x="485.2 489.7" y="292.0">ff</text>
<text transform="scale(1.2,1)" x="498.8" y="292.0">f</text>
<text transform="scale(1.04,1)" x="581.0" y="292.0">o</text>
<text transform="scale(1.2,1)" x="511.7" y="292.0">r</text>
<text transform="scale(1.22,1)" x="513.2" y="292.0">t</text>
<text transform="scale(1.2,1)" x="526.8" y="292.0">i</text>
<text transform="scale(1.12,1)" x="568.4" y="292.0">m</text>
<text transform="scale(1.08,1)" x="603.9" y="292.0">e</text>
<text transform="scale(1.04,1)" x="636.9" y="292.0">o</text>
<text transform="scale(1.08,1)" x="622.4" y="292.0">u</text>
<text transform="scale(1.22,1)" x="559.6" y="292.0">t</text>
<text transform="scale(1.0,1)" x="688.7" y="292.0">s</text>
<text transform="scale(1.22,1)" x="571.6" y="292.0">]</text>
<text transform="scale(1.22,1)" x="107.8" y="320.5">{</text>
<text transform="scale(1.12,1)" x="124.9 129.7" y="320.5">/:</text>
<text transform="scale(0.96,1)" x="156.8" y="320.5">B</text>
<text transform="scale(1.04,1)" x="155.0" y="320.5">o</text>
<text transform="scale(1.16,1)" x="147.4" y="320.5">l</text>
<text transform="scale(1.08,1)" x="162.2" y="320.5">d</text>
<text transform="scale(0.96,1)" x="198.2 209.5 221.6 234.6 248.7" y="320.5">ANOMA</text>
<text transform="scale(0.92,1)" x="271.3" y="320.5">L</text>
<text transform="scale(1.0,1)" x="258.2" y="320.5">I</text>
<text transform="scale(0.88,1)" x="298.8 310.1" y="320.5">ES</text>
<text transform="scale(1.12,1)" x="252.5" y="320.5">:</text>
<text transform="scale(1.22,1)" x="237.4" y="320.5">}</text>
<text transform="scale(1.12,1)" x="193.7" y="340.8">(</text>
<text transform="scale(1.08,1)" x="206.7 216.2 225.7" y="340.8">850</text>
<text transform="scale(1.12,1)" x="226.7" y="340.8">)</text>
<text transform="scale(0.88,1)" x="295.6" y="340.8">P</text>
<text transform="scale(1.2,1)" x="224.6" y="340.8">i</text>
<text transform="scale(1.08,1)" x="253.8 263.2" y="340.8">ng</text>
<text transform="scale(0.96,1)" x="306.7" y="340.8">T</text>
<text transform="scale(1.04,1)" x="290.1" y="340.8">a</text>
<text transform="scale(1.2,1)" x="259.5" y="340.8">r</text>
<text transform="scale(1.08,1)" x="294.4 303.7" y="340.8">ge</text>
<text transform="scale(1.22,1)" x="277.3" y="340.8">t</text>
<text transform="scale(1.2,1)" x="291.2" y="340.8">i</text>
<text transform="scale(1.0,1)" x="353.9" y="340.8">s</text>
<text transform="scale(1.2,1)" x="306.1" y="340.8">r</text>
<text transform="scale(1.04,1)" x="359.3" y="340.8">o</text>
<text transform="scale(1.08,1)" x="355.1" y="340.8">u</text>
<text transform="scale(1.22,1)" x="323.0" y="340.8">t</text>
<text transform="scale(1.08,1)" x="370.3" y="340.8">e</text>
<text transform="scale(1.2,1)" x="341.6" y="340.8">r</text>
<text transform="scale(1.22,1)" x="341.7" y="340.8">!</text>
<text transform="scale(1.12,1)" x="193.7" y="378.8">(</text>
<text transform="scale(1.08,1)" x="206.7 216.2 225.6" y="378.8">500</text>
<text transform="scale(1.22,1)" x="208.7" y="378.8">+</text>
<text transform="scale(1.12,1)" x="238.6" y="378.8">)</text>
<text transform="scale(1.0,1)" x="273.5" y="378.8">H</text>
<text transform="scale(1.12,1)" x="255.0" y="378.8">y</text>
<text transform="scale(1.08,1)" x="273.3" y="378.8">p</text>
<text transform="scale(1.04,1)" x="293.6" y="378.8">e</text>
<text transform="scale(1.16,1)" x="271.8" y="378.8">r</text>
<text transform="scale(1.08,1)" x="298.0" y="378.8">p</text>
<text transform="scale(1.2,1)" x="276.6" y="378.8">i</text>
<text transform="scale(1.08,1)" x="311.6 321.0" y="378.8">ng</text>
<text transform="scale(0.96,1)" x="377.0" y="378.8">T</text>
<text transform="scale(1.2,1)" x="309.3" y="378.8">i</text>
<text transform="scale(1.12,1)" x="335.4" y="378.8">m</text>
<text transform="scale(1.04,1)" x="376.4 385.8" y="378.8">eo</text>
<text transform="scale(1.08,1)" x="380.6" y="378.8">u</text>
<text transform="scale(1.22,1)" x="345.5" y="378.8">t</text>
<text transform="scale(1.0,1)" x="427.5" y="378.8">s</text>
<text transform="scale(1.04,1)" x="424.0 429.6 435.1 440.7" y="378.8">----</text>
<text transform="scale(1.22,1)" x="381.1" y="378.8">&gt;</text>
<text transform="scale(1.12,1)" x="193.7" y="398.0">(</text>
<text transform="scale(1.08,1)" x="206.7 216.2 225.7 235.2" y="398.0">1000</text>
<text transform="scale(1.12,1)" x="235.9" y="398.0">)</text>
<text transform="scale(1.0,1)" x="270.5" y="398.0">N</text>
<text transform="scale(1.08,1)" x="261.5" y="398.0">e</text>
<text transform="scale(1.04,1)" x="281.3" y="398.0">a</text>
<text transform="scale(1.2,1)" x="251.9" y="398.0">r</text>
<text transform="scale(1.0,1)" x="314.1" y="398.0">I</text>
<text transform="scale(0.92,1)" x="346.6" y="398.0">C</text>
<text transform="scale(1.0,1)" x="330.1" y="398.0">M</text>
<text transform="scale(0.88,1)" x="390.8" y="398.0">P</text>
<text transform="scale(0.96,1)" x="373.8" y="398.0">T</text>
<text transform="scale(1.2,1)" x="306.8" y="398.0">i</text>
<text transform="scale(1.12,1)" x="332.8" y="398.0">m</text>
<text transform="scale(1.08,1)" x="359.5" y="398.0">e</text>
<text transform="scale(1.04,1)" x="383.0" y="398.0">o</text>
<text transform="scale(1.08,1)" x="378.0" y="398.0">u</text>
<text transform="scale(1.22,1)" x="343.2" y="398.0">t</text>
<text transform="scale(1.0,1)" x="429.8" y="398.0">s</text>
<text transform="scale(1.08,1)" x="405.8" y="398.0">p</text>
<text transform="scale(1.2,1)" x="373.7" y="398.0">i</text>
<text transform="scale(1.12,1)" x="404.4" y="398.0">k</text>
<text transform="scale(1.08,1)" x="427.4" y="398.0">e</text>
<text transform="scale(1.0,1)" x="471.6" y="398.0">s</text>
<text transform="scale(1.12,1)" x="193.7" y="417.2">(</text>
<text transform="scale(1.08,1)" x="206.7 216.2 225.7" y="417.2">550</text>
<text transform="scale(1.12,1)" x="226.7" y="417.2">)</text>
<text transform="scale(0.88,1)" x="295.6" y="417.2">P</text>
<text transform="scale(1.2,1)" x="224.6" y="417.2">i</text>
<text transform="scale(1.08,1)" x="253.8 263.2" y="417.2">ng</text>
<text transform="scale(0.96,1)" x="312.1" y="417.2">T</text>
<text transform="scale(1.04,1)" x="295.0" y="417.2">a</text>
<text transform="scale(1.2,1)" x="263.8" y="417.2">r</text>
<text transform="scale(1.08,1)" x="299.1 308.4" y="417.2">ge</text>
<text transform="scale(1.22,1)" x="281.5" y="417.2">t</text>
<text transform="scale(0.92,1)" x="385.4" y="417.2">C</text>
<text transform="scale(1.08,1)" x="338.7" y="417.2">h</text>
<text transform="scale(1.04,1)" x="361.6" y="417.2">a</text>
<text transform="scale(1.08,1)" x="357.3 366.8 376.1" y="417.2">nge</text>
<text transform="scale(1.0,1)" x="416.2" y="417.2">s</text>
<text transform="scale(1.04,1)" x="413.1 418.7 424.3" y="417.2">---</text>
<text transform="scale(1.22,1)" x="367.1" y="417.2">&gt;</text>
<text transform="scale(1.12,1)" x="193.7" y="436.4">(</text>
<text transform="scale(1.08,1)" x="206.7 216.1 225.5" y="436.4">450</text>
<text transform="scale(1.12,1)" x="226.5" y="436.4">)</text>
<text transform="scale(0.96,1)" x="270.8" y="436.4">O</text>
<text transform="scale(0.88,1)" x="309.9 320.3" y="436.4">FF</text>
<text transform="scale(0.96,1)" x="303.1" y="436.4">L</text>
<text transform="scale(1.0,1)" x="300.0 304.6" y="436.4">IN</text>
<text transform="scale(0.92,1)" x="344.1" y="436.4">E</text>
<text transform="scale(0.92,1)" x="360.6" y="436.4">S</text>
<text transform="scale(0.96,1)" x="356.2 365.3 375.3" y="436.4">TAT</text>
<text transform="scale(0.92,1)" x="402.1" y="436.4">E</text>
<text transform="scale(1.04,1)" x="370.4 376.0 381.6 387.1 392.7" y="436.4">-----</text>
<text transform="scale(1.22,1)" x="340.1" y="436.4">&gt;</text>
<text transform="scale(1.12,1)" x="193.7" y="455.6">(</text>
<text transform="scale(1.08,1)" x="206.7 216.1 225.6" y="455.6">400</text>
<text transform="scale(1.12,1)" x="226.6" y="455.6">)</text>
<text transform="scale(0.92,1)" x="282.7" y="455.6">R</text>
<text transform="scale(1.04,1)" x="260.2" y="455.6">e</text>
<text transform="scale(1.08,1)" x="259.7" y="455.6">b</text>
<text transform="scale(1.04,1)" x="279.4 288.9" y="455.6">oo</text>
<text transform="scale(1.22,1)" x="254.5" y="455.6">t</text>
<text transform="scale(1.16,1)" x="272.8" y="455.6">/</text>
<text transform="scale(1.08,1)" x="298.1" y="455.6">p</text>
<text transform="scale(1.04,1)" x="319.4" y="455.6">o</text>
<text transform="scale(1.08,1)" x="316.6" y="455.6">w</text>
<text transform="scale(1.04,1)" x="341.5" y="455.6">e</text>
<text transform="scale(1.16,1)" x="314.6" y="455.6">r</text>
<text transform="scale(1.04,1)" x="356.9" y="455.6">c</text>
<text transform="scale(1.12,1)" x="339.3" y="455.6">y</text>
<text transform="scale(1.04,1)" x="374.6" y="455.6">c</text>
<text transform="scale(1.2,1)" x="331.9" y="455.6">l</text>
<text transform="scale(1.04,1)" x="387.4" y="455.6">e</text>
<text transform="scale(0.92,1)" x="448.5" y="455.6">?</text>
<text transform="scale(1.04,1)" x="409.9 415.4 421.0 426.6" y="455.6">----</text>
<text transform="scale(1.22,1)" x="369.0" y="455.6">&gt;</text>
<text transform="scale(1.12,1)" x="193.7" y="475.0">(</text>
<text transform="scale(1.08,1)" x="206.7 216.2 225.6" y="475.0">320</text>
<text transform="scale(1.12,1)" x="226.7" y="475.0">)</text>
<text transform="scale(1.04,1)" x="250.0 262.1 271.6" y="475.0">Dee</text>
<text transform="scale(1.08,1)" x="270.7" y="475.0">p</text>
<text transform="scale(1.0,1)" x="307.6" y="475.0">I</text>
<text transform="scale(0.92,1)" x="339.6" y="475.0">C</text>
<text transform="scale(1.0,1)" x="323.5" y="475.0">M</text>
<text transform="scale(0.88,1)" x="383.4" y="475.0">P</text>
<text transform="scale(0.96,1)" x="366.9" y="475.0">T</text>
<text transform="scale(1.2,1)" x="301.3" y="475.0">i</text>
<text transform="scale(1.12,1)" x="326.8" y="475.0">m</text>
<text transform="scale(1.04,1)" x="367.1 376.6" y="475.0">eo</text>
<text transform="scale(1.08,1)" x="371.8" y="475.0">u</text>
<text transform="scale(1.22,1)" x="337.7" y="475.0">t</text>
<text transform="scale(1.0,1)" x="417.9" y="475.0">s</text>
<text transform="scale(1.04,1)" x="414.8 420.4 426.0 431.6" y="475.0">----</text>
<text transform="scale(1.22,1)" x="373.3" y="475.0">&gt;</text>
<text transform="scale(1.12,1)" x="193.7" y="494.6">(</text>
<text transform="scale(1.08,1)" x="206.7 216.2 225.7" y="494.6">220</text>
<text transform="scale(1.12,1)" x="226.7" y="494.6">)</text>
<text transform="scale(0.96,1)" x="271.0" y="494.6">T</text>
<text transform="scale(0.92,1)" x="292.5" y="494.6">C</text>
<text transform="scale(0.88,1)" x="318.5" y="494.6">P</text>
<text transform="scale(1.08,1)" x="273.3" y="494.6">p</text>
<text transform="scale(1.2,1)" x="254.5" y="494.6">i</text>
<text transform="scale(1.08,1)" x="286.9 296.4" y="494.6">ng</text>
<text transform="scale(0.96,1)" x="349.4" y="494.6">T</text>
<text transform="scale(1.2,1)" x="287.3" y="494.6">i</text>
<text transform="scale(1.12,1)" x="311.8" y="494.6">m</text>
<text transform="scale(1.08,1)" x="337.8" y="494.6">e</text>
<text transform="scale(1.04,1)" x="360.4" y="494.6">o</text>
<text transform="scale(1.08,1)" x="356.2" y="494.6">u</text>
<text transform="scale(1.22,1)" x="323.9" y="494.6">t</text>
<text transform="scale(1.0,1)" x="401.2" y="494.6">s</text>
<text transform="scale(1.04,1)" x="398.7 404.3 409.9 415.5 421.1" y="494.6">-----</text>
<text transform="scale(1.22,1)" x="364.3" y="494.6">&gt;</text>
<clipPath id="c725"><rect x="200" y="340" width="200" height="11"/></clipPath><g clip-path="url(#c725)">
<text transform="scale(1.2,1)" x="180.8" y="360.0">(</text>
<text transform="scale(1.16,1)" x="192.9 202.4 211.9" y="360.0">725</text>
<text transform="scale(1.2,1)" x="213.9" y="360.0">)</text>
<text transform="scale(1.08,1)" x="244.0" y="360.0">I</text>
<text transform="scale(1.16,1)" x="231.6" y="360.0">p</text>
<text transform="scale(1.2,1)" x="233.0" y="360.0">v</text>
<text transform="scale(1.16,1)" x="249.9" y="360.0">6</text>
<text transform="scale(1.22,1)" x="246.0" y="360.0">f</text>
<text transform="scale(1.12,1)" x="273.1" y="360.0">a</text>
<text transform="scale(1.22,1)" x="259.3 263.1" y="360.0">ll</text>
<text transform="scale(1.16,1)" x="303.4" y="360.0">k</text>
</g>
<path d="M206.50,340.98L198.52,328.98L214.48,328.98Z" fill="none" stroke="#c080ff" stroke-width="1"/>
<path d="M206.50,359.78L198.52,347.78L214.48,347.78Z" fill="none" stroke="#306080" stroke-width="1"/>
<path d="M200.00,371.50h13.00M206.50,365.00v13.00" stroke="#008040" stroke-width="1" fill="none"/>
<path d="M206.50,402.32L198.52,414.32L214.48,414.32Z" fill="#ffc020" stroke="#ffc020" stroke-width="1"/>
<rect x="200.50" y="427.70" width="12.00" height="12.00" fill="none" stroke="#c000ff" stroke-width="1"/>
<path d="M206.50,456.32L198.52,468.32L214.48,468.32Z" fill="none" stroke="#4169e1" stroke-width="1"/>
<rect x="200.00" y="481.30" width="13.00" height="13.00" fill="#00eeee"/>
<text transform="scale(1.22,1)" x="871.2" y="75.6">"</text>
<text transform="scale(0.88,1)" x="1216.1" y="75.6">Y</text>
<text transform="scale(1.08,1)" x="1000.0" y="75.6">p</text>
<text transform="scale(1.2,1)" x="908.5" y="75.6">i</text>
<text transform="scale(1.08,1)" x="1013.6 1023.0" y="75.6">ng</text>
<text transform="scale(1.16,1)" x="961.2" y="75.6">r</text>
<text transform="scale(1.04,1)" x="1078.2" y="75.6">e</text>
<text transform="scale(1.0,1)" x="1131.1" y="75.6">s</text>
<text transform="scale(1.08,1)" x="1055.1" y="75.6">u</text>
<text transform="scale(1.2,1)" x="958.0" y="75.6">l</text>
<text transform="scale(1.22,1)" x="946.2" y="75.6">t</text>
<text transform="scale(1.08,1)" x="1074.4" y="75.6">.</text>
<text transform="scale(1.22,1)" x="955.6" y="75.6">t</text>
<text transform="scale(1.12,1)" x="1046.3" y="75.6">x</text>
<text transform="scale(1.22,1)" x="968.5 973.4" y="75.6">t"</text>
<text transform="scale(1.08,1)" x="1111.2" y="75.6">u</text>
<text transform="scale(1.0,1)" x="1210.2" y="75.6">s</text>
<text transform="scale(1.2,1)" x="1015.5" y="75.6">i</text>
<text transform="scale(1.08,1)" x="1132.5 1141.9" y="75.6">ng</text>
<text transform="scale(1.08,1)" x="1156.1" y="75.6">1</text>
<text transform="scale(1.16,1)" x="1085.1" y="75.6">:</text>
<text transform="scale(1.08,1)" x="1170.5" y="75.6">2</text>
<text transform="scale(1.22,1)" x="856.1" y="94.6">"</text>
<text transform="scale(0.88,1)" x="1195.1" y="94.6">Y</text>
<text transform="scale(0.96,1)" x="1105.7" y="94.6">T</text>
<text transform="scale(1.2,1)" x="892.3" y="94.6">i</text>
<text transform="scale(1.12,1)" x="960.0" y="94.6">m</text>
<text transform="scale(1.04,1)" x="1048.9" y="94.6">e</text>
<text transform="scale(1.22,1)" x="902.4" y="94.6">t</text>
<text transform="scale(1.04,1)" x="1064.4" y="94.6">c</text>
<text transform="scale(1.08,1)" x="1033.1 1042.5" y="94.6">pp</text>
<text transform="scale(1.2,1)" x="946.7" y="94.6">i</text>
<text transform="scale(1.08,1)" x="1056.0 1065.4 1074.8" y="94.6">ng.</text>
<text transform="scale(1.22,1)" x="955.8" y="94.6">t</text>
<text transform="scale(1.12,1)" x="1046.6" y="94.6">x</text>
<text transform="scale(1.22,1)" x="968.7 973.7" y="94.6">t"</text>
<text transform="scale(1.08,1)" x="1111.4" y="94.6">u</text>
<text transform="scale(1.0,1)" x="1210.4" y="94.6">s</text>
<text transform="scale(1.2,1)" x="1015.6" y="94.6">i</text>
<text transform="scale(1.08,1)" x="1132.6 1142.0" y="94.6">ng</text>
<text transform="scale(1.08,1)" x="1156.1" y="94.6">1</text>
<text transform="scale(1.16,1)" x="1085.1" y="94.6">:</text>
<text transform="scale(1.08,1)" x="1170.5" y="94.6">2</text>
<text transform="scale(1.22,1)" x="816.4" y="113.6">"</text>
<text transform="scale(0.88,1)" x="1140.1" y="113.6">Y</text>
<text transform="scale(0.92,1)" x="1100.3" y="113.6">C</text>
<text transform="scale(1.08,1)" x="947.7" y="113.6">u</text>
<text transform="scale(1.0,1)" x="1033.6" y="113.6">s</text>
<text transform="scale(1.22,1)" x="854.3" y="113.6">t</text>
<text transform="scale(0.88,1)" x="1191.1" y="113.6">P</text>
<text transform="scale(1.2,1)" x="881.3" y="113.6">i</text>
<text transform="scale(1.08,1)" x="983.3 992.8" y="113.6">ng</text>
<text transform="scale(0.92,1)" x="1176.3" y="113.6">S</text>
<text transform="scale(1.2,1)" x="910.4" y="113.6">i</text>
<text transform="scale(1.22,1)" x="899.4" y="113.6">t</text>
<text transform="scale(1.04,1)" x="1060.8" y="113.6">e</text>
<text transform="scale(0.96,1)" x="1159.4" y="113.6">T</text>
<text transform="scale(1.2,1)" x="935.3" y="113.6">i</text>
<text transform="scale(1.12,1)" x="1006.0" y="113.6">m</text>
<text transform="scale(1.04,1)" x="1098.5" y="113.6">e</text>
<text transform="scale(1.0,1)" x="1152.2" y="113.6">s</text>
<text transform="scale(1.08,1)" x="1074.6" y="113.6">.</text>
<text transform="scale(1.22,1)" x="955.7" y="113.6">t</text>
<text transform="scale(1.12,1)" x="1046.4" y="113.6">x</text>
<text transform="scale(1.22,1)" x="968.6 973.6" y="113.6">t"</text>
<text transform="scale(1.08,1)" x="1111.3" y="113.6">u</text>
<text transform="scale(1.0,1)" x="1210.3" y="113.6">s</text>
<text transform="scale(1.2,1)" x="1015.5" y="113.6">i</text>
<text transform="scale(1.08,1)" x="1132.5 1141.9" y="113.6">ng</text>
<text transform="scale(1.08,1)" x="1156.1" y="113.6">1</text>
<text transform="scale(1.16,1)" x="1085.1" y="113.6">:</text>
<text transform="scale(1.08,1)" x="1170.5" y="113.6">2</text>
<text transform="scale(1.22,1)" x="860.2" y="132.6">"</text>
<text transform="scale(0.88,1)" x="1200.9" y="132.6">Y</text>
<text transform="scale(1.04,1)" x="1023.6" y="132.6">o</text>
<text transform="scale(1.2,1)" x="895.3 899.8 904.5 908.3" y="132.6">ffli</text>
<text transform="scale(1.08,1)" x="1013.4" y="132.6">n</text>
<text transform="scale(1.04,1)" x="1062.2" y="132.6">e</text>
<text transform="scale(1.2,1)" x="928.7" y="132.6">r</text>
<text transform="scale(1.04,1)" x="1077.7" y="132.6">e</text>
<text transform="scale(1.0,1)" x="1130.6" y="132.6">s</text>
<text transform="scale(1.08,1)" x="1054.7" y="132.6">u</text>
<text transform="scale(1.2,1)" x="957.7" y="132.6">l</text>
<text transform="scale(1.22,1)" x="945.9" y="132.6">t</text>
<text transform="scale(1.08,1)" x="1074.1" y="132.6">.</text>
<text transform="scale(1.22,1)" x="955.3" y="132.6">t</text>
<text transform="scale(1.12,1)" x="1046.0" y="132.6">x</text>
<text transform="scale(1.22,1)" x="968.3 973.2" y="132.6">t"</text>
<text transform="scale(1.08,1)" x="1111.0" y="132.6">u</text>
<text transform="scale(1.0,1)" x="1210.0" y="132.6">s</text>
<text transform="scale(1.2,1)" x="1015.3" y="132.6">i</text>
<text transform="scale(1.08,1)" x="1132.3 1141.8" y="132.6">ng</text>
<text transform="scale(1.08,1)" x="1156.0" y="132.6">1</text>
<text transform="scale(1.16,1)" x="1085.0" y="132.6">:</text>
<text transform="scale(1.08,1)" x="1170.5" y="132.6">2</text>
<text transform="scale(1.22,1)" x="850.9" y="151.6">"</text>
<text transform="scale(0.88,1)" x="1187.9" y="151.6">Y</text>
<text transform="scale(1.22,1)" x="865.1" y="151.6">t</text>
<text transform="scale(1.04,1)" x="1020.7" y="151.6">c</text>
<text transform="scale(1.08,1)" x="991.0" y="151.6">p</text>
<text transform="scale(1.04,1)" x="1038.9" y="151.6">o</text>
<text transform="scale(1.2,1)" x="908.6 913.1" y="151.6">ff</text>
<text transform="scale(0.84,1)" x="1311.2" y="151.6">_</text>
<text transform="scale(1.16,1)" x="956.3" y="151.6">r</text>
<text transform="scale(1.04,1)" x="1072.7 1082.1 1090.6" y="151.6">eco</text>
<text transform="scale(1.16,1)" x="986.3" y="151.6">r</text>
<text transform="scale(1.08,1)" x="1065.2 1074.6" y="151.6">d.</text>
<text transform="scale(1.22,1)" x="955.6" y="151.6">t</text>
<text transform="scale(1.12,1)" x="1046.4" y="151.6">x</text>
<text transform="scale(1.22,1)" x="968.6 973.5" y="151.6">t"</text>
<text transform="scale(1.08,1)" x="1111.2" y="151.6">u</text>
<text transform="scale(1.0,1)" x="1210.2" y="151.6">s</text>
<text transform="scale(1.2,1)" x="1015.5" y="151.6">i</text>
<text transform="scale(1.08,1)" x="1132.5 1141.9" y="151.6">ng</text>
<text transform="scale(1.08,1)" x="1156.1" y="151.6">1</text>
<text transform="scale(1.16,1)" x="1085.1" y="151.6">:</text>
<text transform="scale(1.08,1)" x="1170.5" y="151.6">2</text>
<text transform="scale(1.22,1)" x="883.6" y="170.6">"</text>
<text transform="scale(0.88,1)" x="1233.3" y="170.6">Y</text>
<text transform="scale(1.04,1)" x="1053.0" y="170.6">c</text>
<text transform="scale(1.08,1)" x="1022.1" y="170.6">u</text>
<text transform="scale(1.16,1)" x="960.3" y="170.6">r</text>
<text transform="scale(1.2,1)" x="933.8" y="170.6">l</text>
<text transform="scale(1.22,1)" x="922.3" y="170.6">t</text>
<text transform="scale(1.2,1)" x="942.7" y="170.6">i</text>
<text transform="scale(1.12,1)" x="1013.9" y="170.6">m</text>
<text transform="scale(1.04,1)" x="1107.0" y="170.6">e</text>
<text transform="scale(1.08,1)" x="1075.0" y="170.6">.</text>
<text transform="scale(1.22,1)" x="956.0" y="170.6">t</text>
<text transform="scale(1.12,1)" x="1046.7" y="170.6">x</text>
<text transform="scale(1.22,1)" x="968.9 973.8" y="170.6">t"</text>
<text transform="scale(1.08,1)" x="1111.5" y="170.6">u</text>
<text transform="scale(1.0,1)" x="1210.5" y="170.6">s</text>
<text transform="scale(1.2,1)" x="1015.7" y="170.6">i</text>
<text transform="scale(1.08,1)" x="1132.7 1142.1" y="170.6">ng</text>
<text transform="scale(1.08,1)" x="1156.2" y="170.6">1</text>
<text transform="scale(1.16,1)" x="1085.1" y="170.6">:</text>
<text transform="scale(1.08,1)" x="1170.5" y="170.6">2</text>
<text transform="scale(1.22,1)" x="859.7" y="189.6">"</text>
<text transform="scale(0.88,1)" x="1200.1" y="189.6">Y</text>
<text transform="scale(1.04,1)" x="1025.0" y="189.6">c</text>
<text transform="scale(1.08,1)" x="995.1" y="189.6">u</text>
<text transform="scale(1.16,1)" x="935.3" y="189.6">r</text>
<text transform="scale(1.2,1)" x="909.5" y="189.6">l</text>
<text transform="scale(1.08,1)" x="1014.8 1024.1" y="189.6">dn</text>
<text transform="scale(1.0,1)" x="1116.2" y="189.6">s</text>
<text transform="scale(1.22,1)" x="922.0" y="189.6">t</text>
<text transform="scale(1.2,1)" x="942.3" y="189.6">i</text>
<text transform="scale(1.12,1)" x="1013.6" y="189.6">m</text>
<text transform="scale(1.04,1)" x="1106.6" y="189.6">e</text>
<text transform="scale(1.08,1)" x="1074.7" y="189.6">.</text>
<text transform="scale(1.22,1)" x="955.8" y="189.6">t</text>
<text transform="scale(1.12,1)" x="1046.5" y="189.6">x</text>
<text transform="scale(1.22,1)" x="968.7 973.6" y="189.6">t"</text>
<text transform="scale(1.08,1)" x="1111.4" y="189.6">u</text>
<text transform="scale(1.0,1)" x="1210.3" y="189.6">s</text>
<text transform="scale(1.2,1)" x="1015.6" y="189.6">i</text>
<text transform="scale(1.08,1)" x="1132.6 1142.0" y="189.6">ng</text>
<text transform="scale(1.08,1)" x="1156.1" y="189.6">1</text>
<text transform="scale(1.16,1)" x="1085.1" y="189.6">:</text>
<text transform="scale(1.08,1)" x="1170.5" y="189.6">2</text>
<text transform="scale(1.22,1)" x="826.9" y="208.6">"</text>
<text transform="scale(0.88,1)" x="1154.7" y="208.6">Y</text>
<text transform="scale(0.92,1)" x="1114.2" y="208.6">C</text>
<text transform="scale(1.08,1)" x="959.5" y="208.6">u</text>
<text transform="scale(1.0,1)" x="1046.4" y="208.6">s</text>
<text transform="scale(1.22,1)" x="864.8" y="208.6">t</text>
<text transform="scale(0.88,1)" x="1205.6" y="208.6">P</text>
<text transform="scale(1.2,1)" x="891.9" y="208.6">i</text>
<text transform="scale(1.08,1)" x="995.2 1004.6" y="208.6">ng</text>
<text transform="scale(0.96,1)" x="1140.7" y="208.6">T</text>
<text transform="scale(1.2,1)" x="920.3" y="208.6">i</text>
<text transform="scale(1.12,1)" x="990.0" y="208.6">m</text>
<text transform="scale(1.04,1)" x="1081.3 1090.7" y="208.6">eo</text>
<text transform="scale(1.08,1)" x="1059.4" y="208.6">u</text>
<text transform="scale(1.22,1)" x="946.4" y="208.6">t</text>
<text transform="scale(1.08,1)" x="1074.6" y="208.6">.</text>
<text transform="scale(1.22,1)" x="955.7" y="208.6">t</text>
<text transform="scale(1.12,1)" x="1046.4" y="208.6">x</text>
<text transform="scale(1.22,1)" x="968.6 973.6" y="208.6">t"</text>
<text transform="scale(1.08,1)" x="1111.3" y="208.6">u</text>
<text transform="scale(1.0,1)" x="1210.3" y="208.6">s</text>
<text transform="scale(1.2,1)" x="1015.5" y="208.6">i</text>
<text transform="scale(1.08,1)" x="1132.5 1141.9" y="208.6">ng</text>
<text transform="scale(1.08,1)" x="1156.1" y="208.6">1</text>
<text transform="scale(1.16,1)" x="1085.1" y="208.6">:</text>
<text transform="scale(1.08,1)" x="1170.5" y="208.6">2</text>
<text transform="scale(1.22,1)" x="842.7" y="227.6">"</text>
<text transform="scale(0.88,1)" x="1176.5" y="227.6">Y</text>
<text transform="scale(1.08,1)" x="967.8" y="227.6">p</text>
<text transform="scale(1.2,1)" x="879.4" y="227.6">i</text>
<text transform="scale(1.08,1)" x="981.3 990.7" y="227.6">ng</text>
<text transform="scale(1.22,1)" x="885.6" y="227.6">t</text>
<text transform="scale(1.04,1)" x="1044.6" y="227.6">a</text>
<text transform="scale(1.16,1)" x="945.0" y="227.6">r</text>
<text transform="scale(1.08,1)" x="1020.8" y="227.6">g</text>
<text transform="scale(1.04,1)" x="1069.9" y="227.6">e</text>
<text transform="scale(1.22,1)" x="920.3" y="227.6">t</text>
<text transform="scale(1.04,1)" x="1085.4" y="227.6">c</text>
<text transform="scale(1.08,1)" x="1053.3" y="227.6">h</text>
<text transform="scale(1.04,1)" x="1103.6" y="227.6">a</text>
<text transform="scale(1.08,1)" x="1071.8 1081.2" y="227.6">ng</text>
<text transform="scale(1.04,1)" x="1132.6" y="227.6">e</text>
<text transform="scale(1.22,1)" x="973.6" y="227.6">"</text>
<text transform="scale(1.08,1)" x="1111.3" y="227.6">u</text>
<text transform="scale(1.0,1)" x="1210.3" y="227.6">s</text>
<text transform="scale(1.2,1)" x="1015.5" y="227.6">i</text>
<text transform="scale(1.08,1)" x="1132.5 1141.9" y="227.6">ng</text>
<text transform="scale(1.08,1)" x="1156.1" y="227.6">1</text>
<text transform="scale(1.16,1)" x="1085.1" y="227.6">:</text>
<text transform="scale(1.08,1)" x="1170.5" y="227.6">2</text>
<text transform="scale(1.22,1)" x="853.2" y="246.6">"</text>
<text transform="scale(0.88,1)" x="1191.1" y="246.6">Y</text>
<text transform="scale(1.0,1)" x="1058.0" y="246.6">H</text>
<text transform="scale(0.88,1)" x="1215.9" y="246.6">P</text>
<text transform="scale(1.08,1)" x="999.8" y="246.6">p</text>
<text transform="scale(1.2,1)" x="908.3" y="246.6">i</text>
<text transform="scale(1.08,1)" x="1013.4 1022.8" y="246.6">ng</text>
<text transform="scale(1.2,1)" x="929.0" y="246.6">r</text>
<text transform="scale(1.04,1)" x="1078.0" y="246.6">e</text>
<text transform="scale(1.0,1)" x="1130.9" y="246.6">s</text>
<text transform="scale(1.08,1)" x="1055.0" y="246.6">u</text>
<text transform="scale(1.2,1)" x="957.9" y="246.6">l</text>
<text transform="scale(1.22,1)" x="946.1" y="246.6">t</text>
<text transform="scale(1.08,1)" x="1074.3" y="246.6">.</text>
<text transform="scale(1.22,1)" x="955.5" y="246.6">t</text>
<text transform="scale(1.12,1)" x="1046.2" y="246.6">x</text>
<text transform="scale(1.22,1)" x="968.4 973.4" y="246.6">t"</text>
<text transform="scale(1.08,1)" x="1111.1" y="246.6">u</text>
<text transform="scale(1.0,1)" x="1210.1" y="246.6">s</text>
<text transform="scale(1.2,1)" x="1015.4" y="246.6">i</text>
<text transform="scale(1.08,1)" x="1132.4 1141.8" y="246.6">ng</text>
<text transform="scale(1.08,1)" x="1156.0" y="246.6">1</text>
<text transform="scale(1.16,1)" x="1085.1" y="246.6">:</text>
<text transform="scale(1.08,1)" x="1170.5" y="246.6">2</text>
<text transform="scale(1.22,1)" x="838.4" y="265.6">"</text>
<text transform="scale(0.88,1)" x="1170.6" y="265.6">Y</text>
<text transform="scale(1.08,1)" x="963.0" y="265.6">p</text>
<text transform="scale(1.2,1)" x="875.1" y="265.6">i</text>
<text transform="scale(1.08,1)" x="976.5 985.9" y="265.6">ng</text>
<text transform="scale(1.22,1)" x="881.4" y="265.6">t</text>
<text transform="scale(1.04,1)" x="1039.7" y="265.6">a</text>
<text transform="scale(1.16,1)" x="940.6" y="265.6">r</text>
<text transform="scale(1.08,1)" x="1016.1" y="265.6">g</text>
<text transform="scale(1.04,1)" x="1065.0" y="265.6">e</text>
<text transform="scale(1.22,1)" x="916.2" y="265.6">t</text>
<text transform="scale(1.0,1)" x="1123.7" y="265.6">I</text>
<text transform="scale(0.92,1)" x="1226.5" y="265.6">S</text>
<text transform="scale(1.16,1)" x="981.6" y="265.6">r</text>
<text transform="scale(1.04,1)" x="1100.9" y="265.6">o</text>
<text transform="scale(1.08,1)" x="1069.2" y="265.6">u</text>
<text transform="scale(1.22,1)" x="955.0" y="265.6">t</text>
<text transform="scale(1.04,1)" x="1126.2" y="265.6">e</text>
<text transform="scale(1.16,1)" x="1018.1" y="265.6">r</text>
<text transform="scale(1.22,1)" x="973.5" y="265.6">"</text>
<text transform="scale(1.08,1)" x="1111.2" y="265.6">u</text>
<text transform="scale(1.0,1)" x="1210.2" y="265.6">s</text>
<text transform="scale(1.2,1)" x="1015.5" y="265.6">i</text>
<text transform="scale(1.08,1)" x="1132.5 1141.9" y="265.6">ng</text>
<text transform="scale(1.08,1)" x="1156.1" y="265.6">1</text>
<text transform="scale(1.16,1)" x="1085.1" y="265.6">:</text>
<text transform="scale(1.08,1)" x="1170.5" y="265.6">2</text>
<text transform="scale(1.22,1)" x="915.7" y="284.6">"</text>
<text transform="scale(0.88,1)" x="1277.7" y="284.6">Y</text>
<text transform="scale(1.08,1)" x="1050.2" y="284.6">n</text>
<text transform="scale(1.04,1)" x="1100.3" y="284.6">o</text>
<text transform="scale(1.2,1)" x="961.7" y="284.6">i</text>
<text transform="scale(1.08,1)" x="1072.6" y="284.6">p</text>
<text transform="scale(1.12,1)" x="1043.4" y="284.6">v</text>
<text transform="scale(1.08,1)" x="1090.8" y="284.6">6</text>
<text transform="scale(1.22,1)" x="973.9" y="284.6">"</text>
<text transform="scale(1.08,1)" x="1111.6" y="284.6">u</text>
<text transform="scale(1.0,1)" x="1210.6" y="284.6">s</text>
<text transform="scale(1.2,1)" x="1015.8" y="284.6">i</text>
<text transform="scale(1.08,1)" x="1132.8 1142.1" y="284.6">ng</text>
<text transform="scale(1.08,1)" x="1156.2" y="284.6">1</text>
<text transform="scale(1.16,1)" x="1085.1" y="284.6">:</text>
<text transform="scale(1.08,1)" x="1170.5" y="284.6">2</text>
<path d="M1288,72.5H1345" stroke="#ff0000" stroke-width="1" fill="none"/>
<path d="M1288,91.5H1345" stroke="#00c000" stroke-width="1" fill="none"/>
<path d="M1288,110.5H1345" stroke="#0080ff" stroke-width="1" fill="none"/>
<rect x="1310.50" y="123.50" width="12.00" height="12.00" fill="none" stroke="#c000ff" stroke-width="1"/>
<rect x="1310.00" y="142.00" width="13.00" height="13.00" fill="#00eeee"/>
<circle cx="1316.50" cy="167.50" r="5.25" fill="none" stroke="#c04000" stroke-width="1.25"/>
<path d="M1310.25,167.50h2.0M1320.75,167.50h2.0M1316.50,161.25v2.0M1316.50,171.75v2.0" stroke="#c04000" stroke-width="1.25" fill="none"/>
<circle cx="1316.50" cy="186.50" r="5.55" fill="#c8c800"/>
<path d="M1316.50,180.05v12.90M1310.65,186.50h11.70" stroke="#c8c800" stroke-width="1.2" fill="none"/>
<path d="M1316.50,197.52L1308.52,209.52L1324.48,209.52Z" fill="none" stroke="#4169e1" stroke-width="1"/>
<path d="M1316.50,216.52L1308.52,228.52L1324.48,228.52Z" fill="#ffc020" stroke="#ffc020" stroke-width="1"/>
<path d="M1310.00,243.50h13.00M1316.50,237.00v13.00" stroke="#008040" stroke-width="1" fill="none"/>
<path d="M1316.50,270.48L1308.52,258.48L1324.48,258.48Z" fill="none" stroke="#c080ff" stroke-width="1"/>
<path d="M1316.50,289.48L1308.52,277.48L1324.48,277.48Z" fill="none" stroke="#306080" stroke-width="1"/>
<path d="M101.50,57.5v6.5M101.50,539.5v-6.5M154.50,57.5v3.5M154.50,539.5v-3.5M206.50,57.5v6.5M206.50,539.5v-6.5M259.50,57.5v3.5M259.50,539.5v-3.5M312.50,57.5v6.5M312.50,539.5v-6.5M365.50,57.5v3.5M365.50,539.5v-3.5M417.50,57.5v6.5M417.50,539.5v-6.5M470.50,57.5v3.5M470.50,539.5v-3.5M523.50,57.5v6.5M523.50,539.5v-6.5M575.50,57.5v3.5M575.50,539.5v-3.5M628.50,57.5v6.5M628.50,539.5v-6.5M681.50,57.5v3.5M681.50,539.5v-3.5M734.50,57.5v6.5M734.50,539.5v-6.5M786.50,57.5v3.5M786.50,539.5v-3.5M839.50,57.5v6.5M839.50,539.5v-6.5M892.50,57.5v3.5M892.50,539.5v-3.5M944.50,57.5v6.5M944.50,539.5v-6.5M997.50,57.5v3.5M997.50,539.5v-3.5M1050.50,57.5v6.5M1050.50,539.5v-6.5M1102.50,57.5v3.5M1102.50,539.5v-3.5M1155.50,57.5v6.5M1155.50,539.5v-6.5M1208.50,57.5v3.5M1208.50,539.5v-3.5M1261.50,57.5v6.5M1261.50,539.5v-6.5M1313.50,57.5v3.5M1313.50,539.5v-3.5M1366.50,57.5v6.5M1366.50,539.5v-6.5M101.5,539.50h6.5M1366.5,539.50h-6.5M101.5,421.50h6.5M1366.5,421.50h-6.5M101.5,304.50h6.5M1366.5,304.50h-6.5M101.5,186.50h6.5M1366.5,186.50h-6.5M101.5,69.50h6.5M1366.5,69.50h-6.5" stroke="#000" stroke-width="1" fill="none"/>
<path d="M101.5,439L103,445.5H153L204.3,530.6" fill="none" stroke="#ff0000" stroke-width="1"/>
<path d="M204.3,530.6L204.3,536.5L204.3,536.5L205.2,536.5L206.0,536.5L206.9,536.5L207.8,538.0L208.7,536.5L209.6,536.5L210.4,536.5L211.3,536.5L212.2,536.5L213.1,536.5L213.9,523.5L214.8,536.5L215.7,536.5L216.6,536.5L217.5,536.5L218.3,536.5L219.2,536.5L220.1,536.5L221.0,536.5L221.9,536.5L222.7,536.5L223.6,536.5L224.5,536.5L225.4,536.5L226.2,536.5L227.1,536.5L228.0,536.5L228.9,536.5L229.8,536.5L230.6,536.5L231.5,536.5L232.4,536.5L233.3,536.5L234.1,536.5L235.0,534.5L235.9,536.5L236.8,527.5L237.7,536.5L238.5,536.5L239.4,536.5L240.3,536.5L241.2,536.5L242.1,536.5L242.9,536.5L243.8,536.5L244.7,536.5L245.6,536.5L246.4,536.5L247.3,536.5L248.2,536.5L249.1,536.5L250.0,536.5L250.8,536.5L251.7,536.5L252.6,536.5L253.5,536.5L254.4,536.5L255.2,536.5L256.1,536.5L257.0,536.5L257.9,536.5L258.7,536.5L259.6,536.5L260.5,536.5L261.4,536.5L262.3,536.5L263.1,536.5L264.0,536.5L264.9,536.5L265.8,536.5L266.7,536.5L267.5,536.5L268.4,536.5L269.3,536.5L270.2,536.5L271.0,536.5L271.9,536.5L272.8,536.5L273.7,536.5L274.6,536.5L275.4,536.5L276.3,536.5L277.2,536.5L278.1,536.5L279.0,536.5L279.8,536.5L280.7,536.5L281.6,536.5L282.5,536.5L283.3,536.5L284.2,536.5L285.1,536.5L286.0,536.5L286.9,536.5L287.7,536.5L288.6,536.5L289.5,536.5L290.4,536.5L291.2,536.5L292.1,536.5L293.0,536.5L293.9,536.5L294.8,536.5L295.6,536.5L296.5,536.5L297.4,536.5L298.3,536.5L299.2,536.5L300.0,536.5L300.9,536.5L301.8,536.5L302.7,536.5L303.5,536.5L304.1,536.5L304.5,295.1L304.9,536.5L305.3,536.5L306.2,536.5L307.1,536.5L307.9,536.5L308.8,536.5L309.7,536.5L310.6,536.5L311.5,536.5L312.3,536.5L313.2,536.5L314.1,536.5L315.0,536.5L315.8,530.5L316.7,536.5L317.6,536.5L318.5,536.5L319.4,536.5L320.2,536.5L321.1,536.5L322.0,536.5L322.9,536.5L323.8,536.5L324.6,536.5L325.5,536.5L326.4,536.5L327.3,536.5L328.1,536.5L329.0,536.5L329.9,536.5L330.8,536.5L331.7,536.5L332.5,536.5L333.4,536.5L334.3,536.5L335.2,536.5L336.1,536.5L336.9,536.5L337.8,536.5L338.7,536.5L339.6,536.5L340.4,536.5L341.3,534.5L342.2,536.5L343.1,536.5L344.0,536.5L344.8,536.5L345.7,536.5L346.6,536.5L347.5,536.5L348.4,536.5L349.2,536.5L350.1,536.5L351.0,536.5L351.9,536.5L352.7,536.5L353.6,536.5L354.5,536.5L355.4,536.5L356.3,536.5L357.1,536.5L358.0,536.5L358.9,536.5L359.8,536.5L360.6,536.5L361.5,536.5L362.4,523.5L363.3,536.5L364.2,536.5L365.0,536.5L365.9,536.5L366.8,536.5L367.7,536.5L368.6,536.5L369.4,538.0L370.3,536.5L371.2,536.5L372.1,536.5L372.9,536.5L373.8,537.5L374.7,537.4L375.6,536.5L376.5,534.5L377.3,536.5L378.2,536.5L379.1,536.5L380.0,536.5L380.9,536.5L381.7,536.5L382.6,536.5L383.5,536.5L384.4,536.5L385.2,536.5L386.1,536.5L387.0,536.5L387.9,536.5L388.8,536.5L389.6,536.5L390.5,536.5L391.4,536.5L392.3,536.5L393.2,536.5L394.0,536.5L394.9,536.5L395.8,536.5L396.7,536.5L397.5,536.5L398.4,536.5L399.3,536.5L400.2,536.5L401.1,536.5L401.9,536.5L402.8,536.5L403.7,536.5L404.6,536.5L405.5,536.5L406.3,536.5L407.2,536.5L408.1,536.5L409.0,536.5L409.8,536.5L410.7,536.5L411.6,536.5L412.5,536.5L413.4,536.5L414.2,536.5L415.1,536.5L416.0,520.5L416.9,536.5L417.8,536.5L418.6,536.5L419.5,536.5L420.4,536.5L421.3,536.5L422.1,536.5L423.0,536.5L423.9,536.5L424.8,536.5L425.7,536.5L426.5,536.5L427.4,536.5L428.3,536.5L429.2,536.5L430.0,536.5L430.9,536.5L431.8,536.5L432.7,536.5L433.6,536.5L434.4,536.5L435.3,536.5L436.2,536.5L437.1,536.5L438.0,536.5L438.8,536.5L439.7,536.5L440.6,536.5L441.5,536.5L442.3,534.5L443.2,536.5L444.1,536.5L445.0,536.5L445.9,538.2L446.7,536.5L447.6,536.5L448.5,536.5L449.4,536.5L450.3,536.5L451.1,536.5L452.0,536.5L452.9,536.5L453.8,536.5L454.6,536.5L455.5,537.5L456.4,536.5L457.3,536.5L458.2,536.5L459.0,536.5L459.9,536.5L460.8,536.5L461.7,536.5L462.6,532.5L463.4,537.3L464.3,536.5L465.2,536.5L466.1,536.5L466.9,536.5L467.8,536.5L468.7,536.5L469.6,536.5L470.5,536.5L471.3,536.5L472.2,536.5L473.1,536.5L474.0,536.5L474.9,536.5L475.7,536.5L476.6,536.5L477.5,536.5L478.4,536.5L479.2,536.5L480.1,536.5L481.0,536.5L481.9,536.5L482.8,532.5L483.6,536.5L484.5,538.0L485.4,536.5L486.3,536.5L487.1,536.5L488.0,536.5L488.9,536.5L489.8,537.5L490.7,536.5L491.5,530.5L492.4,536.5L493.3,536.5L494.2,536.5L495.1,536.5L495.9,536.5L496.8,536.5L497.7,536.5L498.6,527.5L499.4,536.5L500.3,536.5L501.2,536.5L502.1,536.5L503.0,536.5L503.8,536.5L504.7,536.5L505.6,536.5L506.5,536.5L507.4,536.5L508.2,536.5L509.1,536.5L510.0,536.5L510.9,536.5L511.7,536.5L512.6,536.5L513.5,536.5L514.4,536.5L515.3,536.5L516.1,536.5L517.0,536.5L517.9,536.5L518.8,536.5L519.7,536.5L520.5,536.5L521.4,536.5L522.3,536.5L523.2,536.5L524.0,536.5L524.9,536.5L525.8,536.5L526.7,536.5L527.6,536.5L528.4,536.5L529.3,536.5L530.2,533.5L531.1,536.5L532.0,537.9L532.8,536.5L533.7,536.5L534.6,536.5L535.5,537.3L536.3,536.5L537.2,536.5L538.1,536.5L539.0,536.5L539.9,536.5L540.7,536.5L541.6,536.5L542.5,536.5L543.4,536.5L544.2,536.5L545.1,536.5L546.0,536.5L546.9,536.5L547.8,536.5L548.6,536.5L549.5,536.5L550.4,536.5L551.3,536.5L552.2,536.5L553.0,536.5L553.9,536.5L554.8,536.5L555.7,537.9L556.5,536.5L557.4,536.5L558.3,536.5L559.2,536.5L560.1,536.5L560.9,536.5L561.8,535.5L562.7,536.5L563.6,536.5L564.5,536.5L565.3,535.5L566.2,535.5L567.1,536.5L568.0,536.5L568.8,535.5L569.7,536.5L570.6,536.5L571.5,536.5L572.4,536.5L573.2,535.5L574.1,535.5L575.0,536.5L575.9,535.5L576.8,535.5L577.6,536.5L578.5,536.5L579.4,536.5L580.3,536.5L581.1,536.5L582.0,536.5L582.9,535.5L583.8,535.5L584.7,536.5L585.5,535.5L586.4,536.5L587.3,536.5L588.2,536.5L589.1,535.5L589.9,535.5L590.8,536.5L591.7,536.5L592.6,536.5L593.4,536.5L594.3,535.5L595.2,536.5L596.1,536.5L597.0,536.5L597.8,536.5L598.7,536.5L599.6,536.5L600.5,535.5L601.4,536.5L602.2,535.5L603.1,536.5L604.0,536.5L604.9,536.5L605.7,535.5L606.6,532.5L607.5,535.5L608.4,537.7L609.3,536.5L610.1,535.5L611.0,536.5L611.9,536.5L612.8,536.5L613.6,535.5L614.5,538.0L615.4,536.5L616.3,535.5L617.2,536.5L618.0,536.5L618.9,535.5L619.8,536.5L620.7,536.5L621.6,536.5L622.4,527.5L623.3,536.5L624.2,536.5L625.1,536.5L625.9,536.5L626.8,538.0L627.7,536.5L628.6,536.5L629.5,536.5L630.3,535.5L631.2,538.2L632.1,535.5L633.0,536.5L633.9,536.5L634.7,535.5L635.6,536.5L636.5,536.5L637.4,535.5L638.2,536.5L639.1,535.5L640.0,536.5L640.9,536.5L641.8,535.5L642.6,535.5L643.5,535.5L644.4,536.5L645.3,536.5L646.2,535.5L647.0,536.5L647.9,536.5L648.8,536.5L649.7,535.5L650.5,535.5L651.4,537.6L652.3,537.5L653.2,535.5L654.1,536.5L654.9,536.5L655.8,536.5L656.7,536.5L657.6,536.5L658.5,536.5L659.3,535.5L660.2,535.5L661.1,532.5L662.0,536.5L662.8,535.5L663.7,536.5L664.6,536.5L665.5,536.5L666.4,536.5L667.2,538.2L668.1,535.5L669.0,536.5L669.9,536.5L670.8,535.5L671.6,536.5L672.5,536.5L673.4,537.7L674.3,536.5L675.1,536.5L676.0,536.5L676.9,536.5L677.8,520.5L678.7,536.5L679.5,536.5L680.4,535.5L681.3,537.5L682.2,536.5L683.0,536.5L683.9,536.5L684.8,536.5L685.7,536.5L686.6,536.5L687.4,536.5L688.3,536.5L689.2,534.5L690.1,535.5L691.0,536.5L691.8,536.5L692.7,535.5L693.6,537.6L694.5,536.5L695.3,536.5L696.2,537.4L697.1,536.5L698.0,536.5L698.9,535.5L699.7,535.5L700.6,536.5L701.5,532.5L702.4,536.5L703.3,535.5L704.1,535.5L705.0,536.5L705.9,535.5L706.8,536.5L707.6,536.5L708.5,527.5L709.4,536.5L710.3,535.5L711.2,523.5L712.0,536.5L712.9,536.5L713.8,533.5L714.7,536.5L715.6,536.5L716.4,535.5L717.3,530.5L718.2,536.5L719.1,535.5L719.9,536.5L720.8,532.5L721.7,536.5L722.6,536.5L723.5,535.5L724.3,536.5L725.2,535.5L726.1,536.5L727.0,535.5L727.9,535.5L728.7,536.5L729.6,535.5L730.5,536.5L731.4,536.5L732.2,535.5L733.1,535.5L734.0,536.5L734.9,536.5L735.8,536.5L736.6,535.5L737.5,536.5L738.4,535.5L739.3,536.5L740.1,535.5L741.0,535.5L741.9,535.5L742.8,536.5L743.7,536.5L744.5,535.5L745.4,537.4L746.3,535.5L747.2,535.5L748.1,536.5L748.9,536.5L749.8,536.5L750.7,535.5L751.6,536.5L752.4,536.5L753.3,536.5L754.2,536.5L755.1,537.4L756.0,527.5L756.8,536.5L757.7,538.3L758.6,535.5L759.5,535.5L760.4,536.5L761.2,536.5L762.1,536.5L763.0,523.5L763.9,535.5L764.7,536.5L765.6,536.5L766.5,535.5L767.4,536.5L768.3,536.5L769.1,536.5L770.0,535.5L770.9,536.5L771.8,536.5L772.7,535.5L773.5,536.5L774.4,536.5L775.3,533.5L776.2,536.5L777.0,536.5L777.9,535.5L778.8,535.5L779.7,536.5L780.6,536.5L781.4,535.5L782.3,536.5L783.2,535.5L784.1,535.5L785.0,534.5L785.8,533.5L786.7,538.0L787.6,536.5L788.5,536.5L789.3,536.5L790.2,536.5L791.1,536.5L792.0,535.5L792.9,536.5L793.7,532.5L794.6,536.5L795.5,536.5L796.4,536.5L797.2,535.5L798.1,535.5L799.0,535.5L799.9,536.5L800.8,533.5L801.6,536.5L802.5,535.5L803.4,536.5L804.3,536.5L805.2,536.5L806.0,536.5L806.9,535.5L807.8,536.5L808.7,537.4L809.5,536.5L810.4,535.5L811.3,536.5L812.2,536.5L813.1,536.5L813.9,535.5L814.8,535.5L815.1,536.5L815.5,304.5L815.9,536.5L816.6,536.5L817.5,535.5L818.3,536.5L819.2,536.5L820.1,536.5L821.0,536.5L821.8,535.5L822.7,535.5L823.6,535.5L824.5,535.5L825.4,535.5L826.2,536.5L827.1,535.5L828.0,535.5L828.9,535.5L829.8,536.5L830.6,535.5L831.5,537.6L832.4,535.5L833.3,536.5L834.1,536.5L835.0,535.5L835.9,536.5L836.8,537.3L837.7,536.5L838.5,535.5L839.4,536.5L840.3,536.5L841.2,536.5L842.1,535.5L842.9,537.9L843.8,536.5L844.7,535.5L845.6,535.5L846.4,536.5L847.3,535.5L848.2,536.5L849.1,536.5L850.0,536.5L850.8,530.5L851.7,535.5L852.6,536.5L853.5,535.5L854.4,535.5L855.2,535.5L856.1,536.5L857.0,536.5L857.9,535.5L858.7,530.5L859.6,536.5L860.5,536.5L861.4,536.5L862.3,535.5L863.1,537.8L864.0,536.5L864.9,536.5L865.8,536.5L866.6,536.5L867.5,535.5L868.4,536.5L869.3,536.5L870.2,536.5L871.0,535.5L871.9,536.5L872.8,536.5L873.7,536.5L874.6,538.0L875.4,536.5L876.3,536.5L877.2,530.5L878.1,536.5L878.9,536.5L879.8,536.5L880.7,536.5L881.6,536.5L882.5,535.5L883.3,535.5L884.2,535.5L885.1,536.5L886.0,536.5L886.9,536.5L887.7,535.5L888.6,537.4L889.5,536.5L890.4,536.5L891.2,536.5L892.1,536.5L893.0,536.5L893.9,535.5L894.8,536.5L895.6,535.5L896.5,535.5L897.4,537.7L898.3,536.5L899.2,536.5L900.0,536.5L900.9,535.5L901.8,536.5L902.7,538.2L903.5,535.5L904.4,536.5L905.3,536.5L906.2,535.5L907.1,536.5L907.9,536.5L908.8,536.5L909.7,536.5L910.6,536.5L911.5,536.5L912.3,536.5L913.2,535.5L914.1,536.5L915.0,536.5L915.8,538.2L916.7,535.5L917.6,536.5L918.5,535.5L919.4,536.5L920.2,536.5L921.1,535.5L922.0,536.5L922.9,536.5L923.8,536.5L924.6,536.5L925.5,535.5L926.4,536.5L927.3,536.5L928.1,536.5L929.0,536.5L929.9,536.5L930.8,535.5L931.7,535.5L932.5,535.5L933.4,535.5L934.3,536.5L935.2,535.5L936.0,523.5L936.1,536.5L936.5,404.0L936.9,536.5L937.8,536.5L938.7,536.5L939.6,536.5L940.4,536.5L941.3,536.5L942.2,536.5L943.1,530.5L944.0,536.5L944.8,537.7L945.7,536.5L946.6,534.5L947.5,530.5L948.3,536.5L949.2,536.5L950.1,520.5L951.0,536.5L951.9,536.5L952.7,536.5L953.6,534.5L954.5,536.5L955.4,536.5L956.3,536.5L957.1,535.5L958.0,536.5L958.9,536.5L959.8,536.5L960.6,536.5L961.5,535.5L962.4,536.5L963.3,536.5L964.2,530.5L965.0,536.5L965.9,535.5L966.8,535.5L967.7,536.5L968.6,536.5L969.4,536.5L970.3,535.5L971.2,536.5L972.1,536.5L972.9,536.5L973.8,536.5L974.7,535.5L975.6,535.5L976.5,535.5L977.3,536.5L978.2,536.5L979.1,535.5L980.0,535.5L980.9,535.5L981.7,536.5L982.6,535.5L983.5,536.5L984.4,530.5L985.2,536.5L986.1,536.5L987.0,536.5L987.9,536.5L988.8,536.5L989.6,535.5L990.5,536.5L991.4,536.5L992.3,536.5L993.1,535.5L994.0,535.5L994.9,535.5L995.8,535.5L996.7,535.5L997.5,533.5L998.4,535.5L999.3,536.5L1000.2,538.1L1001.1,535.5L1001.9,536.5L1002.8,536.5L1003.7,536.5L1004.6,536.5L1005.4,535.5L1006.3,535.5L1007.2,535.5L1008.1,535.5L1009.0,536.5L1009.8,536.5L1010.7,536.5L1011.6,537.8L1012.5,536.5L1013.4,537.4L1014.2,536.5L1015.1,535.5L1016.0,536.5L1016.9,536.5L1017.7,536.5L1018.6,535.5L1019.5,535.5L1020.4,536.5L1021.3,536.5L1022.1,535.5L1023.0,533.5L1023.9,536.5L1024.8,536.5L1025.7,537.4L1026.5,536.5L1027.4,535.5L1028.3,536.5L1029.2,536.5L1030.0,538.1L1030.9,536.5L1031.8,536.5L1032.7,536.5L1033.6,536.5L1034.4,536.5L1035.3,536.5L1036.2,535.5L1037.1,535.5L1038.0,536.5L1038.8,536.5L1039.7,535.5L1040.6,538.1L1041.5,520.5L1042.3,536.5L1043.2,535.5L1044.1,536.5L1045.0,536.5L1045.9,536.5L1046.7,536.5L1047.6,536.5L1048.5,536.5L1049.4,536.5L1050.2,537.9L1051.1,536.5L1052.0,536.5L1052.9,536.5L1053.8,536.5L1054.6,536.5L1055.5,536.5L1056.4,536.5L1057.3,535.5L1058.2,536.5L1059.0,535.5L1059.9,536.5L1060.8,535.5L1061.7,536.5L1062.5,535.5L1063.4,536.5L1064.3,536.5L1065.2,536.5L1066.1,535.5L1066.9,537.9L1067.8,536.5L1068.7,536.5L1069.6,536.5L1070.5,536.5L1071.3,535.5L1072.2,536.5L1073.1,536.5L1074.0,535.5L1074.8,536.5L1075.7,535.5L1076.6,536.5L1077.5,536.5L1078.4,535.5L1079.2,535.5L1080.1,536.5L1081.0,535.5L1081.9,536.5L1082.8,536.5L1083.6,536.5L1084.5,536.5L1085.4,536.5L1086.3,536.5L1087.1,536.5L1088.0,536.5L1088.9,536.5L1089.8,536.5L1090.7,535.5L1091.5,536.5L1092.4,536.5L1093.3,536.5L1094.2,535.5L1095.1,535.5L1095.9,536.5L1096.8,535.5L1097.7,536.5L1098.6,535.5L1099.4,534.5L1100.3,536.5L1101.2,535.5L1102.1,536.5L1103.0,536.5L1103.8,537.4L1104.7,536.5L1105.6,537.4L1106.5,538.2L1107.4,536.5L1108.2,535.5L1109.1,536.5L1110.0,536.5L1110.9,536.5L1111.7,536.5L1112.6,536.5L1113.5,536.5L1114.4,536.5L1115.3,535.5L1116.1,535.5L1117.0,538.2L1117.9,536.5L1118.8,536.5L1119.6,535.5L1120.5,536.5L1121.4,536.5L1122.3,536.5L1123.2,535.5L1124.0,536.5L1124.9,536.5L1125.8,535.5L1126.7,536.5L1127.6,535.5L1128.4,536.5L1129.3,536.5L1130.2,538.1L1131.1,536.5L1131.9,536.5L1132.8,536.5L1133.7,536.5L1134.6,535.5L1135.5,536.5L1136.3,536.5L1137.2,537.8L1138.1,535.5L1139.0,536.5L1139.9,537.9L1140.7,536.5L1141.6,536.5L1142.5,536.5L1143.4,535.5L1144.2,536.5L1145.1,536.5L1146.0,535.5L1146.9,536.5L1147.8,537.6L1148.6,535.5L1149.5,536.5L1150.4,536.5L1151.3,536.5L1152.2,536.5L1153.0,536.5L1153.9,536.5L1154.8,536.5L1155.7,535.5L1156.5,536.5L1157.4,536.5L1158.3,535.5L1159.2,535.5L1160.1,536.5L1160.9,536.5L1161.8,536.5L1162.7,536.5L1163.6,536.5L1164.5,535.5L1165.3,535.5L1166.2,535.5L1167.1,536.5L1168.0,536.5L1168.8,536.5L1169.7,536.5L1170.6,536.5L1171.5,536.5L1172.4,535.5L1173.2,536.5L1174.1,536.5L1175.0,535.5L1175.9,536.5L1176.8,536.5L1177.6,536.5L1178.5,535.5L1179.4,536.5L1180.3,536.5L1181.1,536.5L1182.0,537.9L1182.9,536.5L1183.8,536.5L1184.7,536.5L1185.5,536.5L1186.4,535.5L1187.3,536.5L1188.2,536.5L1189.0,535.5L1189.9,535.5L1190.8,536.5L1191.7,536.5L1192.6,536.5L1193.4,536.5L1194.3,535.5L1195.2,536.5L1196.1,536.5L1197.0,536.5L1197.8,536.5L1198.7,536.5L1199.6,536.5L1200.5,536.5L1201.3,536.5L1202.2,535.5L1203.1,536.5L1204.0,535.5L1204.9,536.5L1205.7,536.5L1206.6,535.5L1207.5,536.5L1208.4,535.5L1209.3,535.5L1210.1,535.5L1211.0,535.5L1211.9,535.5L1212.8,535.5L1213.6,535.5L1214.5,536.5L1215.4,535.5L1216.3,536.5L1217.2,536.5L1218.0,527.5L1218.9,536.5L1219.8,536.5L1220.7,536.5L1221.6,536.5L1222.4,535.5L1223.3,536.5L1224.2,536.5L1225.1,536.5L1225.9,536.5L1226.8,536.5L1227.7,536.5L1228.6,536.5L1229.5,536.5L1230.3,535.5L1231.2,536.5L1232.1,536.5L1233.0,536.5L1233.9,536.5L1234.7,536.5L1235.6,536.5L1236.5,536.5L1237.4,536.5L1238.2,535.5L1239.1,536.5L1240.0,535.5L1240.9,536.5L1241.8,536.5L1242.6,536.5L1243.5,536.5L1244.4,535.5L1245.3,536.5L1246.1,536.5L1247.0,536.5L1247.9,536.5L1248.8,536.5L1249.7,536.5L1250.5,535.5L1251.4,536.5L1252.3,536.5L1253.2,536.5L1254.1,536.5L1254.9,536.5L1255.8,537.8L1256.7,535.5L1257.6,536.5L1258.4,536.5L1259.3,536.5L1260.2,535.5L1261.1,536.5L1262.0,536.5L1262.8,536.5L1263.7,536.5L1264.6,536.5L1265.5,536.5L1266.4,536.5L1267.2,536.5L1268.1,536.5L1269.0,535.5L1269.9,536.5L1270.7,536.5L1271.6,536.5L1272.5,535.5L1273.4,536.5L1274.3,536.5L1275.1,537.6L1276.0,536.5L1276.9,527.5L1277.8,536.5L1278.7,536.5L1279.5,536.5L1280.4,536.5L1281.3,535.5L1282.2,535.5L1283.0,536.5L1283.9,536.5L1284.8,536.5L1285.7,536.5L1286.6,536.5L1287.4,536.5L1288.3,535.5L1289.2,536.5L1290.1,538.1L1291.0,535.5L1291.8,536.5L1292.7,536.5L1293.6,536.5L1294.5,535.5L1295.3,536.5L1296.2,536.5L1297.1,536.5L1298.0,536.5L1298.9,536.5L1299.7,536.5L1300.6,536.5L1301.5,536.5L1302.4,536.5L1303.2,536.5L1304.1,535.5L1305.0,536.5L1305.9,536.5L1306.8,536.5L1307.6,536.5L1308.5,536.5L1309.4,536.5L1310.3,536.5L1311.2,536.5L1312.0,536.5L1312.9,535.5L1313.8,536.5L1314.7,536.5L1315.5,535.5L1316.4,536.5L1317.3,535.5L1318.2,535.5L1319.1,536.5L1319.9,535.5L1320.8,536.5L1321.7,535.5L1322.6,536.5L1323.5,536.5L1324.3,536.5L1325.2,536.5L1326.1,536.5L1327.0,535.5L1327.8,535.5L1328.7,535.5L1329.6,536.5L1330.5,536.5L1331.4,536.5L1332.2,535.5L1333.1,536.5L1334.0,536.5L1334.9,535.5L1335.8,536.5L1336.6,536.5L1337.5,536.5L1338.4,536.5L1339.3,536.5L1340.1,535.5L1341.0,536.5L1341.9,536.5L1342.8,536.5L1343.7,535.5L1344.5,536.5L1345.4,535.5L1346.3,535.5L1347.2,536.5L1348.1,536.5L1348.9,535.5L1349.8,535.5L1350.7,536.5L1351.6,536.5L1352.4,536.5L1353.3,536.5L1354.2,536.5L1355.1,536.5L1356.0,536.5L1356.8,535.5L1357.7,535.5L1358.6,536.5L1359.5,536.5L1360.4,535.5L1361.2,535.5L1362.1,536.5L1363.0,536.5L1363.9,535.5L1364.7,536.5L1365.6,536.5L1366.5,536.5L1366.5,536.5L101.5,536.5" fill="none" stroke="#ff0000" stroke-width="1" stroke-linejoin="round" shape-rendering="crispEdges"/>
<path d="M305,512V537M816,420.5V537M937,470V537" stroke="#ff0000" stroke-width="2" fill="none" shape-rendering="crispEdges"/>
<path d="M815.5,498V537" stroke="#ff0000" stroke-width="3" fill="none" shape-rendering="crispEdges"/>
<path d="M101.5,534.5L101.8,528.7L102.1,534.5L102.4,533.5L102.7,531.2L103.0,533.5L103.3,533.5L104.1,533.5L105.0,532.5L105.9,533.5L106.2,527.2L106.5,533.5L106.8,533.5L107.1,527.5L107.4,533.5L107.6,534.5L108.5,533.5L108.6,523.1L109.4,529.1L109.4,533.5L109.7,511.1L110.0,533.5L110.3,534.5L111.2,534.5L112.0,533.5L112.9,533.5L113.8,533.5L114.7,533.5L115.6,534.5L115.9,526.5L116.2,534.5L116.4,534.5L117.3,534.5L118.2,532.5L118.3,517.4L119.1,519.5L119.1,534.5L119.9,533.5L120.8,534.5L121.7,534.5L122.0,528.5L122.3,534.5L122.6,534.5L122.9,532.3L123.2,534.5L123.5,534.5L124.3,533.5L125.2,533.5L126.1,533.5L127.0,534.5L127.1,527.3L127.9,530.5L127.9,534.5L128.2,524.4L128.5,534.5L128.7,533.5L129.0,528.1L129.3,533.5L129.6,533.5L130.5,534.5L130.8,531.8L131.1,534.5L131.4,534.5L132.2,532.5L133.1,533.5L134.0,534.5L134.9,534.5L135.8,532.5L136.6,534.5L136.7,528.6L137.5,531.7L137.5,533.5L138.4,533.5L139.3,533.5L140.2,533.5L140.5,524.7L140.8,533.5L141.0,533.5L141.9,533.5L142.8,534.5L143.1,532.2L143.4,534.5L143.7,534.5L144.5,533.5L145.4,533.5L145.7,513.5L146.0,533.5L146.3,534.5L147.2,533.5L148.1,533.5L148.9,533.5L149.2,526.2L149.5,533.5L149.8,534.5L150.1,530.6L150.4,534.5L150.7,533.5L151.6,532.5L152.5,533.5L153.3,534.5L153.5,531.5L204.3,531.5L204.3,532.5L205.2,533.5L206.0,533.5L206.9,534.5L207.2,527.7L207.5,534.5L207.8,532.5L208.7,534.5L209.6,533.5L209.9,525.7L210.2,533.5L210.4,534.5L211.3,534.5L212.2,533.5L213.1,534.5L213.9,534.5L214.8,533.5L215.7,534.5L216.6,533.5L217.5,533.5L218.3,533.5L218.6,522.5L218.9,533.5L219.2,533.5L219.5,524.5L219.8,533.5L220.1,534.5L220.4,526.6L220.7,534.5L221.0,534.5L221.2,532.5L221.5,506.0L221.8,532.5L222.7,533.5L223.6,532.5L224.5,533.5L225.4,534.5L226.2,533.5L226.5,518.0L226.8,533.5L227.1,534.5L227.4,524.7L227.7,534.5L228.0,532.5L228.9,533.5L229.8,533.5L230.6,533.5L231.5,534.5L232.4,534.5L233.3,534.5L234.1,533.5L234.4,524.9L234.7,533.5L235.0,533.5L235.9,534.5L236.8,534.5L237.7,533.5L238.0,525.5L238.3,533.5L238.5,533.5L239.4,532.5L240.3,533.5L241.2,533.5L242.1,534.5L242.9,533.5L243.2,525.6L243.5,533.5L243.8,532.5L244.7,533.5L245.0,520.0L245.3,533.5L245.6,532.5L246.4,534.5L247.3,533.5L248.2,533.5L248.3,524.2L249.1,529.6L249.1,534.5L250.0,534.5L250.8,533.5L251.7,534.5L252.6,533.5L253.5,533.5L253.8,521.5L254.1,533.5L254.4,534.5L255.2,533.5L256.1,533.5L257.0,533.5L257.9,533.5L258.2,525.8L258.5,533.5L258.7,533.5L259.6,533.5L260.5,533.5L260.8,521.9L261.1,533.5L261.4,532.5L261.7,529.6L262.0,532.5L262.3,533.5L263.1,533.5L264.0,532.5L264.9,533.5L265.8,533.5L266.1,524.6L266.4,533.5L266.7,533.5L267.5,533.5L268.4,533.5L269.3,533.5L270.2,533.5L271.0,533.5L271.3,527.8L271.6,533.5L271.9,534.5L272.0,529.8L272.8,530.5L272.8,533.5L273.7,532.5L274.6,533.5L275.4,532.5L275.7,528.3L276.0,532.5L276.3,534.5L276.6,528.2L276.9,534.5L277.2,533.5L278.1,533.5L278.2,522.6L279.0,527.7L279.0,533.5L279.8,533.5L280.1,524.7L280.4,533.5L280.7,532.5L280.8,524.6L281.6,525.8L281.6,534.5L282.5,534.5L283.3,533.5L283.6,527.0L283.9,533.5L284.2,532.5L285.1,533.5L286.0,533.5L286.9,532.5L287.7,533.5L288.6,533.5L288.9,527.7L289.2,533.5L289.5,534.5L290.4,533.5L291.2,534.5L291.4,524.0L292.1,528.1L292.1,533.5L293.0,533.5L293.9,534.5L294.8,534.5L295.1,528.9L295.4,534.5L295.6,534.5L296.5,533.5L296.8,530.7L297.1,533.5L297.4,534.5L298.3,534.5L298.6,519.4L298.9,534.5L299.2,534.5L300.0,534.5L300.9,534.5L301.8,533.5L302.1,521.0L302.4,533.5L302.7,533.5L303.0,526.0L303.3,533.5L303.5,534.5L303.8,525.2L304.1,534.5L304.4,533.5L304.7,527.3L305.0,533.5L305.3,533.5L306.2,532.5L307.1,533.5L307.4,527.2L307.7,533.5L307.9,533.5L308.8,532.5L309.7,533.5L310.0,517.5L310.3,533.5L310.6,532.5L311.5,534.5L312.3,533.5L312.4,525.7L313.2,529.7L313.2,533.5L313.5,513.5L313.8,533.5L314.1,533.5L314.2,527.3L315.0,531.0L315.0,534.5L315.8,532.5L316.7,534.5L317.6,533.5L318.5,534.5L318.8,530.9L319.1,534.5L319.4,534.5L320.2,533.5L320.5,530.8L320.8,533.5L321.1,534.5L322.0,533.5L322.3,528.1L322.6,533.5L322.9,533.5L323.8,533.5L324.6,532.5L325.5,534.5L326.4,534.5L326.5,526.7L327.3,529.9L327.3,532.5L327.6,522.2L327.9,532.5L328.1,534.5L329.0,533.5L329.9,534.5L330.2,529.4L330.5,534.5L330.8,533.5L331.1,522.5L331.4,533.5L331.7,533.5L332.0,530.4L332.3,533.5L332.5,533.5L333.4,533.5L333.7,522.6L334.0,533.5L334.3,532.5L335.2,533.5L335.3,527.7L336.1,529.2L336.1,533.5L336.9,533.5L337.8,533.5L337.9,531.4L338.7,532.6L338.7,533.5L338.8,512.7L339.6,519.0L339.6,534.5L340.1,533.5L340.5,513.0L340.9,533.5L341.3,534.5L342.2,532.5L342.3,529.7L343.1,530.8L343.1,533.5L343.4,520.3L343.7,533.5L344.0,533.5L344.8,534.5L345.7,533.5L346.6,533.5L347.5,533.5L348.4,534.5L348.7,515.2L349.0,534.5L349.2,533.5L349.5,523.9L349.8,533.5L350.1,532.5L351.0,532.5L351.3,528.4L351.6,532.5L351.9,533.5L352.7,533.5L353.6,533.5L354.5,533.5L354.6,511.6L355.4,524.0L355.4,533.5L356.3,533.5L357.1,532.5L358.0,533.5L358.9,534.5L359.8,533.5L360.6,534.5L361.5,534.5L361.6,522.2L362.4,524.4L362.4,533.5L363.3,534.5L364.2,532.5L364.5,520.1L364.8,532.5L365.0,534.5L365.1,527.3L365.9,528.8L365.9,534.5L366.2,530.1L366.5,534.5L366.8,533.5L367.7,533.5L368.6,534.5L368.9,527.4L369.2,534.5L369.4,533.5L370.3,533.5L371.2,534.5L372.1,532.5L372.9,533.5L373.8,532.5L374.7,533.5L374.8,529.7L375.6,530.9L375.6,534.5L375.9,520.7L376.2,534.5L376.5,534.5L377.3,533.5L377.6,522.5L377.9,533.5L378.2,533.5L378.5,530.0L378.8,533.5L379.1,533.5L380.0,533.5L380.9,532.5L381.7,534.5L382.1,532.5L382.5,508.0L382.9,532.5L383.5,533.5L383.8,527.4L384.1,533.5L384.4,533.5L385.2,534.5L385.5,523.6L385.8,534.5L386.1,534.5L387.0,534.5L387.3,531.4L387.6,534.5L387.9,532.5L388.8,534.5L389.6,534.5L390.5,534.5L391.4,533.5L391.7,529.6L392.0,533.5L392.3,533.5L393.2,533.5L394.0,533.5L394.9,534.5L395.8,532.5L396.7,534.5L397.0,522.9L397.3,534.5L397.5,533.5L398.4,533.5L399.3,534.5L399.6,529.1L399.9,534.5L400.2,534.5L400.5,530.0L400.8,534.5L401.1,533.5L401.9,534.5L402.2,530.7L402.5,534.5L402.8,534.5L402.9,532.3L403.7,532.8L403.7,534.5L404.0,522.0L404.3,534.5L404.6,533.5L405.5,532.5L406.3,533.5L406.4,526.9L407.2,530.5L407.2,533.5L408.1,532.5L409.0,534.5L409.8,533.5L410.7,534.5L411.6,533.5L411.7,530.1L412.5,532.1L412.5,534.5L412.8,527.1L413.1,534.5L413.4,533.5L413.5,527.8L414.2,530.6L414.2,532.5L415.1,533.5L416.0,534.5L416.1,524.9L416.9,527.9L416.9,533.5L417.2,510.4L417.5,533.5L417.8,533.5L418.6,533.5L419.5,532.5L420.4,533.5L420.7,522.8L421.0,533.5L421.3,533.5L422.1,532.5L423.0,532.5L423.1,525.3L423.9,529.0L423.9,532.5L424.0,524.7L424.8,527.2L424.8,533.5L425.7,532.5L426.5,534.5L426.8,531.8L427.1,534.5L427.4,533.5L428.3,532.5L428.4,528.8L429.2,531.0L429.2,534.5L429.1,527.7L429.5,513.0L429.9,527.7L430.0,531.3L430.0,533.5L430.1,519.7L430.9,524.9L430.9,533.5L431.2,529.4L431.5,533.5L431.8,532.5L432.7,534.5L433.0,519.8L433.3,534.5L433.6,533.5L434.4,534.5L434.5,528.3L435.3,529.2L435.3,534.5L436.2,534.5L436.3,522.2L437.1,524.3L437.1,533.5L438.0,533.5L438.1,533.5L438.5,513.0L438.9,533.5L439.7,532.5L439.8,526.2L440.6,529.9L440.6,534.5L440.9,531.4L441.2,534.5L441.5,533.5L441.6,526.2L442.3,527.2L442.3,534.5L443.2,533.5L443.3,529.6L444.1,531.7L444.1,534.5L445.0,533.5L445.9,532.5L446.7,534.5L447.6,533.5L448.5,533.5L448.8,527.4L449.1,533.5L449.4,533.5L450.3,533.5L451.1,534.5L452.0,532.5L452.9,534.5L453.0,530.8L453.8,531.9L453.8,533.5L454.6,533.5L455.5,534.5L455.8,531.3L456.1,534.5L456.4,532.5L457.3,534.5L457.4,513.8L458.2,517.5L458.2,534.5L459.0,534.5L459.3,523.5L459.6,534.5L459.9,533.5L460.8,533.5L461.7,534.5L462.0,526.2L462.3,534.5L462.6,534.5L463.4,533.5L464.3,533.5L465.2,533.5L466.1,533.5L466.9,533.5L467.8,534.5L468.7,534.5L469.6,533.5L469.9,524.9L470.2,533.5L470.5,532.5L471.1,533.5L471.5,475.5L471.9,533.5L472.2,534.5L473.1,534.5L474.0,534.5L474.3,528.3L474.6,534.5L474.9,534.5L475.7,533.5L476.6,533.5L476.9,527.3L477.2,533.5L477.5,533.5L477.8,530.5L478.1,533.5L478.4,533.5L479.2,533.5L480.1,533.5L481.0,532.5L481.1,526.7L481.9,528.2L481.9,532.5L482.8,533.5L483.6,533.5L484.5,532.5L484.8,526.7L485.1,532.5L485.4,533.5L486.3,533.5L487.1,533.5L488.0,533.5L488.9,533.5L489.8,533.5L490.7,532.5L491.5,532.5L492.4,533.5L493.3,533.5L494.2,533.5L494.5,526.1L494.8,533.5L495.1,533.5L495.9,532.5L496.8,533.5L497.7,532.5L498.6,533.5L498.7,531.1L499.4,531.3L499.4,532.5L499.7,526.2L500.0,532.5L500.3,534.5L500.6,522.0L500.9,534.5L501.2,532.5L501.3,527.2L502.1,528.0L502.1,534.5L502.4,522.2L502.7,534.5L503.0,534.5L503.1,524.8L503.8,530.5L503.8,532.5L504.7,533.5L505.6,534.5L506.5,534.5L506.8,527.8L507.1,534.5L507.4,534.5L508.2,532.5L508.5,525.5L508.8,532.5L509.1,533.5L509.4,526.0L509.7,533.5L510.0,533.5L510.3,525.2L510.6,533.5L510.9,534.5L511.7,534.5L512.6,533.5L513.5,532.5L514.4,534.5L514.7,530.7L515.0,534.5L515.3,533.5L515.4,530.1L516.1,531.1L516.1,532.5L516.4,530.3L516.7,532.5L517.0,533.5L517.1,522.9L517.9,526.0L517.9,534.5L518.8,533.5L519.1,531.2L519.4,533.5L519.7,533.5L520.0,531.4L520.3,533.5L520.5,533.5L521.4,533.5L522.3,533.5L523.2,534.5L524.0,534.5L524.3,532.0L524.6,534.5L524.9,532.5L525.8,534.5L526.7,533.5L527.6,534.5L528.1,533.5L528.5,515.0L528.9,533.5L529.3,533.5L530.2,533.5L531.1,532.5L532.0,532.5L532.8,533.5L533.1,515.4L533.4,533.5L533.7,533.5L534.6,533.5L535.5,532.5L536.3,533.5L537.2,533.5L538.1,532.5L539.0,533.5L539.9,532.5L540.2,522.9L540.5,532.5L540.7,533.5L541.6,533.5L541.9,519.6L542.2,533.5L542.5,533.5L543.4,533.5L544.2,533.5L545.1,533.5L546.0,534.5L546.3,529.4L546.6,534.5L546.9,533.5L547.8,534.5L548.1,529.9L548.4,534.5L548.6,534.5L549.5,533.5L550.4,534.5L551.3,532.5L552.2,532.5L553.0,533.5L553.9,533.5L554.0,526.8L554.8,530.0L554.8,533.5L555.1,527.3L555.4,533.5L555.7,532.5L556.0,511.1L556.3,532.5L556.5,533.5L557.4,533.5L558.3,534.5L559.2,533.5L560.1,533.5L560.9,534.5L561.8,533.5L562.1,529.3L562.4,533.5L562.7,533.5L563.6,533.5L564.5,533.5L564.8,528.2L565.1,533.5L565.3,533.5L565.4,526.0L566.2,529.2L566.2,534.5L567.1,534.5L568.0,533.5L568.8,533.5L569.7,533.5L570.0,525.9L570.3,533.5L570.6,534.5L571.5,533.5L572.4,533.5L573.2,534.5L574.1,533.5L575.0,533.5L575.3,525.5L575.6,533.5L575.9,532.5L576.8,533.5L577.1,527.8L577.4,533.5L577.6,534.5L578.5,532.5L579.4,534.5L580.3,532.5L580.6,517.8L580.9,532.5L581.1,533.5L582.0,533.5L582.3,517.3L582.6,533.5L582.9,533.5L583.2,529.3L583.5,533.5L583.8,534.5L584.7,533.5L585.0,515.5L585.3,533.5L585.5,533.5L585.8,528.7L586.1,533.5L586.4,533.5L587.3,534.5L588.2,533.5L589.1,533.5L589.9,533.5L590.8,534.5L591.7,533.5L592.6,533.5L593.4,533.5L594.3,532.5L595.2,534.5L595.5,527.7L595.8,534.5L596.1,533.5L597.0,533.5L597.8,533.5L598.7,533.5L599.6,534.5L600.5,533.5L601.4,534.5L602.2,533.5L602.5,529.5L602.8,533.5L603.1,532.5L604.0,533.5L604.9,533.5L605.2,530.3L605.5,533.5L605.7,534.5L606.6,532.5L607.5,533.5L608.4,534.5L608.7,530.7L609.0,534.5L609.3,534.5L610.1,534.5L611.0,533.5L611.3,530.4L611.6,533.5L611.9,534.5L612.2,529.0L612.5,534.5L612.8,533.5L613.6,534.5L614.5,533.5L615.4,533.5L616.3,533.5L617.2,534.5L617.3,531.5L618.0,532.3L618.0,533.5L618.3,528.8L618.6,533.5L618.9,533.5L619.8,534.5L619.9,531.0L620.7,532.9L620.7,533.5L621.0,526.6L621.3,533.5L621.6,533.5L622.4,533.5L622.7,528.3L623.0,533.5L623.3,534.5L624.2,533.5L624.5,523.2L624.8,533.5L625.1,534.5L625.9,534.5L626.8,533.5L627.1,526.3L627.4,533.5L627.7,533.5L628.6,533.5L629.5,534.5L630.3,532.5L631.2,533.5L632.1,534.5L633.0,533.5L633.3,527.8L633.6,533.5L633.9,533.5L634.0,531.4L634.1,532.1L634.5,487.5L634.9,532.1L634.7,533.5L635.6,533.5L636.5,534.5L637.4,534.5L637.7,526.6L638.0,534.5L638.2,533.5L639.1,533.5L640.0,532.5L640.9,534.5L641.2,512.5L641.5,534.5L641.8,532.5L642.6,533.5L643.5,533.5L643.8,531.4L644.1,533.5L644.4,534.5L645.3,533.5L645.6,527.7L645.9,533.5L646.2,533.5L647.0,534.5L647.3,532.1L647.6,534.5L647.9,534.5L648.8,533.5L649.7,533.5L650.5,533.5L651.4,533.5L652.3,533.5L653.2,533.5L654.1,532.5L654.4,518.1L654.7,532.5L654.9,532.5L655.8,533.5L656.7,533.5L656.8,527.1L657.6,528.9L657.6,532.5L658.5,533.5L658.8,528.1L659.1,533.5L659.3,532.5L660.2,534.5L661.1,533.5L661.4,523.7L661.7,533.5L662.0,533.5L662.8,533.5L663.7,534.5L664.0,520.3L664.3,534.5L664.6,534.5L665.5,532.5L666.4,533.5L667.2,533.5L668.1,533.5L668.4,531.5L668.7,533.5L669.0,533.5L669.3,527.4L669.6,533.5L669.9,532.5L670.2,524.1L670.5,532.5L670.8,534.5L671.6,532.5L671.9,525.3L672.2,532.5L672.5,533.5L673.4,533.5L673.5,526.0L674.3,529.4L674.3,534.5L675.1,533.5L676.0,532.5L676.9,533.5L677.8,534.5L678.7,534.5L679.5,533.5L680.4,533.5L681.3,533.5L682.2,534.5L682.5,531.7L682.8,534.5L683.0,534.5L683.9,533.5L684.8,533.5L685.7,533.5L686.0,530.8L686.3,533.5L686.6,533.5L687.4,533.5L687.5,527.4L688.3,528.8L688.3,534.5L689.2,534.5L690.1,532.5L691.0,533.5L691.8,533.5L692.7,533.5L693.6,533.5L694.5,533.5L694.6,525.0L695.3,527.9L695.3,532.5L696.2,533.5L696.3,523.2L697.1,527.1L697.1,533.5L698.0,534.5L698.9,534.5L699.7,532.5L700.6,534.5L701.5,533.5L702.4,532.5L703.3,533.5L704.1,534.5L704.4,528.9L704.7,534.5L705.0,533.5L705.9,534.5L706.8,533.5L707.1,534.5L707.5,508.5L707.9,534.5L707.9,527.4L708.2,534.5L708.5,534.5L708.8,528.3L709.1,534.5L709.4,534.5L710.3,534.5L711.2,534.5L711.5,528.0L711.8,534.5L712.0,534.5L712.9,534.5L713.8,533.5L714.7,534.5L715.6,533.5L716.4,532.5L717.3,533.5L718.2,534.5L719.1,533.5L719.9,534.5L720.8,534.5L721.7,533.5L722.6,532.5L723.5,533.5L724.3,532.5L725.2,533.5L725.5,527.0L725.8,533.5L726.1,533.5L727.0,533.5L727.3,524.3L727.6,533.5L727.9,532.5L728.2,524.8L728.5,532.5L728.7,534.5L729.6,533.5L730.5,533.5L731.4,532.5L731.5,529.6L732.2,531.2L732.2,533.5L733.1,534.5L734.0,532.5L734.9,533.5L735.8,532.5L736.6,532.5L737.5,534.5L738.4,534.5L738.7,528.4L739.0,534.5L739.3,534.5L740.1,534.5L741.0,533.5L741.9,533.5L742.2,530.3L742.5,533.5L742.8,533.5L743.7,533.5L744.5,533.5L745.4,533.5L745.5,519.7L746.3,523.6L746.3,533.5L746.1,522.5L746.5,514.0L746.9,522.5L746.9,533.5L747.2,534.5L748.1,533.5L748.9,532.5L749.8,534.5L750.7,532.5L751.6,534.5L752.4,533.5L752.5,519.6L753.3,523.6L753.3,534.5L754.2,533.5L755.1,533.5L756.0,533.5L756.8,532.5L757.7,532.5L758.6,534.5L759.5,533.5L759.8,528.1L760.1,533.5L760.4,534.5L761.2,532.5L762.1,533.5L763.0,532.5L763.9,533.5L764.7,533.5L765.6,534.5L765.9,522.7L766.2,534.5L766.5,533.5L767.4,532.5L768.3,533.5L768.6,526.4L768.9,533.5L769.1,533.5L769.4,531.0L769.7,533.5L770.0,534.5L770.9,534.5L771.2,530.5L771.5,534.5L771.8,534.5L772.7,532.5L773.5,533.5L774.4,533.5L775.3,533.5L776.2,533.5L777.0,533.5L777.3,528.3L777.6,533.5L777.9,533.5L778.2,516.2L778.5,533.5L778.8,534.5L779.7,532.5L780.6,533.5L780.9,510.7L781.2,533.5L781.4,534.5L781.5,525.1L782.3,528.2L782.3,533.5L783.2,534.5L784.1,534.5L784.4,526.9L784.7,534.5L785.0,532.5L785.8,534.5L786.7,534.5L787.0,514.7L787.3,534.5L787.6,534.5L788.5,533.5L788.6,519.9L789.3,523.2L789.3,534.5L790.2,532.5L791.1,532.5L791.2,523.1L792.0,524.7L792.0,533.5L792.1,526.3L792.9,528.5L792.9,533.5L793.2,527.2L793.5,533.5L793.7,533.5L794.6,534.5L795.5,534.5L795.8,517.6L796.1,534.5L796.1,533.5L796.5,514.0L796.9,533.5L797.2,534.5L797.4,525.8L798.1,527.6L798.1,533.5L799.0,534.5L799.9,534.5L800.8,534.5L801.6,533.5L802.5,533.5L802.6,526.5L803.4,529.9L803.4,534.5L804.3,534.5L805.2,533.5L805.5,516.2L805.8,533.5L806.0,533.5L806.3,526.7L806.6,533.5L806.9,532.5L807.8,533.5L808.7,534.5L809.0,513.6L809.3,534.5L809.5,533.5L810.4,534.5L810.7,530.5L811.0,534.5L811.3,533.5L812.2,533.5L813.1,533.5L813.9,534.5L814.8,533.5L815.7,533.5L816.6,532.5L817.5,533.5L817.8,523.5L818.1,533.5L818.3,534.5L819.2,533.5L819.5,522.2L819.8,533.5L820.1,533.5L821.0,533.5L821.3,527.9L821.6,533.5L821.8,533.5L822.1,530.6L822.4,533.5L822.7,533.5L823.6,532.5L824.5,533.5L825.4,533.5L825.7,526.5L826.0,533.5L826.1,534.5L826.5,505.0L826.9,534.5L827.1,533.5L828.0,533.5L828.1,534.5L828.5,485.0L828.9,534.5L829.8,533.5L829.9,528.4L830.6,529.8L830.6,533.5L831.5,533.5L831.8,527.1L832.1,533.5L832.4,533.5L832.7,525.9L833.0,533.5L833.3,534.5L834.1,532.5L834.2,515.1L835.0,523.5L835.0,533.5L835.9,534.5L836.8,533.5L837.7,533.5L838.5,533.5L839.4,533.5L840.3,533.5L841.2,533.5L842.1,533.5L842.9,534.5L843.8,533.5L844.1,525.8L844.4,533.5L844.7,534.5L845.6,534.5L846.4,533.5L847.3,533.5L848.2,533.5L849.1,534.5L850.0,533.5L850.8,533.5L850.9,528.0L851.7,529.7L851.7,534.5L852.6,533.5L853.5,533.5L854.4,533.5L854.7,527.8L855.0,533.5L855.2,533.5L856.1,532.5L857.0,533.5L857.3,525.9L857.6,533.5L857.9,532.5L858.0,525.8L858.7,528.1L858.7,533.5L858.8,529.4L859.6,531.5L859.6,533.5L860.5,534.5L861.4,533.5L862.3,532.5L862.6,527.3L862.9,532.5L863.1,533.5L864.0,534.5L864.1,527.3L864.9,530.3L864.9,532.5L865.2,526.2L865.5,532.5L865.8,533.5L866.6,532.5L867.5,534.5L868.4,533.5L869.3,533.5L870.2,534.5L871.0,534.5L871.9,532.5L872.8,534.5L873.7,534.5L874.0,510.9L874.3,534.5L874.6,534.5L874.9,526.7L875.2,534.5L875.4,533.5L876.3,533.5L876.6,521.4L876.9,533.5L877.2,532.5L878.1,534.5L878.9,533.5L879.8,532.5L880.7,534.5L881.6,533.5L882.5,532.5L883.3,533.5L884.2,533.5L885.1,532.5L886.0,533.5L886.3,513.1L886.6,533.5L886.9,532.5L887.7,534.5L888.0,518.2L888.3,534.5L888.6,533.5L889.5,532.5L890.4,533.5L891.2,533.5L891.5,526.2L891.8,533.5L892.1,534.5L893.0,533.5L893.3,521.1L893.6,533.5L893.9,533.5L894.8,533.5L895.6,533.5L895.9,529.4L896.2,533.5L896.5,532.5L896.8,514.6L897.1,532.5L897.4,534.5L897.5,527.5L898.3,529.9L898.3,533.5L899.2,533.5L900.0,532.5L900.9,534.5L901.0,524.0L901.8,527.4L901.8,534.5L902.7,533.5L903.5,533.5L904.4,533.5L905.3,533.5L906.2,533.5L907.1,534.5L907.9,534.5L908.8,534.5L909.7,533.5L910.6,532.5L911.5,534.5L912.3,533.5L913.2,534.5L913.5,530.2L913.8,534.5L914.1,534.5L915.0,534.5L915.8,532.5L915.9,528.5L916.7,529.0L916.7,533.5L917.0,528.0L917.3,533.5L917.1,533.5L917.5,508.0L917.9,533.5L918.5,533.5L919.4,534.5L920.2,534.5L921.1,533.5L922.0,533.5L922.9,532.5L923.8,534.5L924.6,532.5L925.5,534.5L926.1,533.5L926.5,447.3L926.9,533.5L927.3,534.5L928.1,533.5L929.0,533.5L929.9,533.5L930.8,533.5L930.9,527.1L931.7,529.9L931.7,533.5L932.5,532.5L933.4,533.5L934.3,533.5L934.6,519.3L934.9,533.5L935.2,534.5L936.0,532.5L936.9,534.5L937.2,523.7L937.5,534.5L937.8,532.5L938.1,523.1L938.4,532.5L938.7,532.5L939.6,532.5L940.4,533.5L940.7,529.8L941.0,533.5L941.3,534.5L942.2,534.5L943.1,533.5L943.4,523.0L943.7,533.5L944.0,534.5L944.8,534.5L944.9,529.8L945.7,531.4L945.7,534.5L946.6,533.5L947.5,533.5L947.6,523.8L948.3,527.0L948.3,534.5L949.2,532.5L950.1,534.5L950.4,530.7L950.7,534.5L951.0,534.5L951.9,534.5L952.2,530.1L952.5,534.5L952.7,534.5L953.6,532.5L954.5,533.5L955.4,533.5L956.3,533.5L957.1,534.5L958.0,533.5L958.1,529.5L958.9,531.1L958.9,534.5L959.0,529.1L959.8,531.1L959.8,533.5L960.6,533.5L961.5,534.5L962.4,533.5L962.7,527.5L963.0,533.5L963.3,534.5L963.4,530.8L964.2,531.2L964.2,534.5L965.0,533.5L965.3,527.3L965.6,533.5L965.9,534.5L966.8,534.5L967.1,528.9L967.4,534.5L967.7,533.5L968.6,533.5L968.9,515.3L969.2,533.5L969.4,533.5L970.3,534.5L971.2,533.5L972.1,533.5L972.4,522.3L972.7,533.5L972.9,532.5L973.2,524.1L973.5,532.5L973.8,534.5L974.1,533.5L974.5,508.0L974.9,533.5L974.8,526.5L975.6,529.9L975.6,534.5L976.5,533.5L977.3,533.5L977.4,519.9L978.2,522.4L978.2,534.5L979.1,533.5L979.4,524.3L979.7,533.5L980.0,533.5L980.9,533.5L981.7,533.5L982.6,534.5L982.9,530.2L983.2,534.5L983.5,532.5L983.8,518.4L984.1,532.5L984.4,533.5L985.2,533.5L986.1,533.5L986.2,528.6L987.0,530.4L987.0,534.5L987.9,534.5L988.8,533.5L989.6,533.5L990.5,533.5L991.4,533.5L992.3,534.5L992.6,527.8L992.9,534.5L993.1,534.5L993.1,530.9L993.5,511.5L993.9,530.9L993.7,534.5L994.0,534.5L994.9,533.5L995.8,533.5L996.7,534.5L997.5,533.5L997.6,530.3L998.4,530.8L998.4,534.5L999.3,534.5L999.4,524.0L1000.2,527.0L1000.2,533.5L1000.3,518.1L1001.1,524.6L1001.1,533.5L1001.9,532.5L1002.8,533.5L1003.1,530.6L1003.4,533.5L1003.7,532.5L1004.6,533.5L1005.4,533.5L1006.3,533.5L1007.2,534.5L1008.1,534.5L1009.0,533.5L1009.3,525.4L1009.6,533.5L1009.8,534.5L1010.1,520.8L1010.4,534.5L1010.7,534.5L1011.6,533.5L1012.5,532.5L1012.6,530.4L1013.1,531.1L1013.5,511.0L1013.9,531.1L1013.4,532.5L1013.7,525.6L1014.0,532.5L1014.2,533.5L1015.1,533.5L1015.4,521.5L1015.7,533.5L1016.0,533.5L1016.9,534.5L1017.7,532.5L1018.6,533.5L1018.9,530.3L1019.2,533.5L1019.5,533.5L1019.8,526.2L1020.1,533.5L1020.4,532.5L1021.3,534.5L1022.1,534.5L1023.0,532.5L1023.9,534.5L1024.8,533.5L1025.7,533.5L1026.5,534.5L1027.4,533.5L1028.3,532.5L1029.2,532.5L1030.0,533.5L1030.9,534.5L1031.8,534.5L1031.9,519.6L1032.7,525.6L1032.7,534.5L1033.6,534.5L1034.4,534.5L1034.7,531.9L1035.0,534.5L1035.3,533.5L1035.4,531.2L1036.2,531.5L1036.2,533.5L1037.1,533.5L1038.0,534.5L1038.8,532.5L1038.9,523.4L1039.7,525.4L1039.7,533.5L1040.6,534.5L1040.9,531.6L1041.2,534.5L1041.5,534.5L1042.3,533.5L1043.2,532.5L1044.1,533.5L1044.4,531.3L1044.7,533.5L1045.0,533.5L1045.9,534.5L1046.7,534.5L1047.0,532.2L1047.3,534.5L1047.6,533.5L1048.5,534.5L1048.6,528.0L1049.4,529.2L1049.4,532.5L1049.7,519.5L1050.0,532.5L1050.2,534.5L1051.1,533.5L1052.0,533.5L1052.9,533.5L1053.8,533.5L1054.6,533.5L1054.9,529.9L1055.2,533.5L1055.5,533.5L1055.8,527.9L1056.1,533.5L1056.4,533.5L1056.5,531.1L1057.3,531.7L1057.3,534.5L1057.6,523.8L1057.9,534.5L1058.2,534.5L1059.0,533.5L1059.9,534.5L1060.8,533.5L1061.7,533.5L1062.5,533.5L1063.2,533.5L1063.5,514.0L1063.8,533.5L1064.3,532.5L1065.2,533.5L1065.5,525.8L1065.8,533.5L1066.1,534.5L1066.4,527.8L1066.7,534.5L1066.9,533.5L1067.8,533.5L1068.1,530.5L1068.4,533.5L1068.7,534.5L1069.6,534.5L1070.5,533.5L1070.8,523.8L1071.1,533.5L1071.3,533.5L1072.2,534.5L1073.1,533.5L1073.2,526.9L1074.0,529.7L1074.0,533.5L1074.8,533.5L1075.1,526.4L1075.4,533.5L1075.7,533.5L1076.6,534.5L1076.7,529.8L1077.5,532.5L1077.5,534.5L1078.4,532.5L1079.2,534.5L1080.1,534.5L1080.2,531.2L1081.0,531.7L1081.0,533.5L1081.9,532.5L1082.8,533.5L1083.6,534.5L1084.5,534.5L1085.4,533.5L1086.3,533.5L1087.1,533.5L1087.4,526.3L1087.7,533.5L1088.0,534.5L1088.9,534.5L1089.8,533.5L1090.7,534.5L1090.8,530.2L1091.5,531.2L1091.5,534.5L1091.6,530.3L1092.4,532.6L1092.4,532.5L1093.3,534.5L1094.2,533.5L1095.1,532.5L1095.2,529.9L1095.5,511.0L1095.8,529.9L1095.7,532.5L1095.9,532.5L1096.8,533.5L1097.7,534.5L1098.6,532.5L1099.4,533.5L1099.5,526.5L1100.3,527.7L1100.3,533.5L1101.2,533.5L1102.1,533.5L1102.4,531.0L1102.7,533.5L1103.0,534.5L1103.8,534.5L1104.1,526.2L1104.4,534.5L1104.7,533.5L1105.6,534.5L1105.7,529.0L1106.5,531.5L1106.5,533.5L1107.4,533.5L1108.2,533.5L1109.1,534.5L1109.4,530.3L1109.7,534.5L1110.0,533.5L1110.9,534.5L1111.7,533.5L1112.6,533.5L1112.9,522.8L1113.2,533.5L1113.5,533.5L1114.4,533.5L1115.3,533.5L1115.4,519.2L1116.1,527.7L1116.1,533.5L1117.0,533.5L1117.3,525.3L1117.6,533.5L1117.9,533.5L1118.2,528.2L1118.5,533.5L1118.8,532.5L1118.9,527.6L1119.6,530.0L1119.6,532.5L1119.7,529.4L1120.5,530.5L1120.5,533.5L1121.4,534.5L1121.7,529.4L1122.0,534.5L1122.3,533.5L1123.2,532.5L1123.5,524.8L1123.8,532.5L1124.0,533.5L1124.9,534.5L1125.8,533.5L1126.1,528.6L1126.4,533.5L1126.7,532.5L1127.6,533.5L1127.9,528.8L1128.2,533.5L1128.4,533.5L1128.5,520.0L1129.3,523.3L1129.3,532.5L1130.2,533.5L1131.1,534.5L1131.9,534.5L1132.8,534.5L1133.7,534.5L1134.0,528.6L1134.3,534.5L1134.6,534.5L1135.5,534.5L1136.3,532.5L1137.2,533.5L1138.1,533.5L1139.0,534.5L1139.3,531.1L1139.6,534.5L1139.9,534.5L1140.0,531.2L1140.7,532.5L1140.7,533.5L1141.6,533.5L1142.5,534.5L1142.6,532.1L1143.4,533.3L1143.4,533.5L1144.2,533.5L1144.5,529.3L1144.8,533.5L1145.1,534.5L1146.0,533.5L1146.9,533.5L1147.2,528.7L1147.5,533.5L1147.8,532.5L1148.1,517.7L1148.4,532.5L1148.6,533.5L1149.5,533.5L1150.4,534.5L1150.5,530.3L1151.3,531.0L1151.3,533.5L1151.6,526.6L1151.9,533.5L1152.2,532.5L1152.5,511.5L1152.8,532.5L1153.0,534.5L1153.9,533.5L1154.2,524.7L1154.5,533.5L1154.8,533.5L1155.7,534.5L1156.0,530.6L1156.3,534.5L1156.5,533.5L1156.8,524.3L1157.1,533.5L1157.4,532.5L1158.3,533.5L1159.2,534.5L1159.5,525.4L1159.8,534.5L1160.1,534.5L1160.9,533.5L1161.8,533.5L1162.7,533.5L1162.8,527.0L1163.6,530.4L1163.6,533.5L1164.5,533.5L1165.3,534.5L1166.2,534.5L1166.5,531.0L1166.8,534.5L1167.1,534.5L1168.0,533.5L1168.8,534.5L1169.1,532.0L1169.4,534.5L1169.7,534.5L1170.6,534.5L1171.5,534.5L1171.8,523.9L1172.1,534.5L1172.4,534.5L1173.2,534.5L1174.1,534.5L1175.0,533.5L1175.9,533.5L1176.8,533.5L1177.6,534.5L1178.5,533.5L1179.4,533.5L1180.3,533.5L1181.1,533.5L1182.0,533.5L1182.9,532.5L1183.8,534.5L1184.1,521.4L1184.4,534.5L1184.7,534.5L1185.5,533.5L1185.6,530.2L1186.4,531.7L1186.4,533.5L1187.3,532.5L1188.2,534.5L1188.5,529.0L1188.8,534.5L1189.0,534.5L1189.9,533.5L1190.8,532.5L1191.1,510.2L1191.4,532.5L1191.7,534.5L1192.6,533.5L1193.4,533.5L1194.3,533.5L1195.2,534.5L1195.5,524.8L1195.8,534.5L1196.1,533.5L1197.0,533.5L1197.8,533.5L1198.7,534.5L1199.6,534.5L1200.5,534.5L1200.8,527.1L1201.1,534.5L1201.3,532.5L1202.2,533.5L1202.5,526.7L1202.8,533.5L1203.1,533.5L1204.0,533.5L1204.3,530.5L1204.6,533.5L1204.9,533.5L1205.2,530.8L1205.5,533.5L1205.7,533.5L1206.0,529.5L1206.3,533.5L1206.6,533.5L1206.9,511.8L1207.2,533.5L1207.5,533.5L1207.6,531.0L1208.4,532.4L1208.4,534.5L1208.5,526.7L1209.3,528.0L1209.3,533.5L1210.1,532.5L1210.4,526.9L1210.7,532.5L1211.0,533.5L1211.9,534.5L1212.8,533.5L1213.6,533.5L1213.9,517.9L1214.2,533.5L1214.5,533.5L1215.4,533.5L1216.3,532.5L1217.2,533.5L1218.0,534.5L1218.9,532.5L1219.2,529.3L1219.5,532.5L1219.8,533.5L1220.7,532.5L1221.0,522.7L1221.3,532.5L1221.6,534.5L1222.4,533.5L1222.5,527.2L1223.3,530.0L1223.3,534.5L1224.2,532.5L1225.1,533.5L1225.4,523.3L1225.7,533.5L1225.9,533.5L1226.2,531.1L1226.5,533.5L1226.8,533.5L1227.7,534.5L1228.6,534.5L1229.5,533.5L1230.3,534.5L1231.2,533.5L1232.1,533.5L1232.4,531.2L1232.7,533.5L1233.0,533.5L1233.1,527.7L1233.9,531.1L1233.9,533.5L1234.2,528.5L1234.5,533.5L1234.7,533.5L1235.6,532.5L1236.5,533.5L1236.8,531.1L1237.1,533.5L1237.4,532.5L1237.7,525.7L1238.0,532.5L1238.2,532.5L1239.1,532.5L1240.0,532.5L1240.9,533.5L1241.2,534.5L1241.5,513.0L1241.8,534.5L1242.6,534.5L1242.7,527.9L1243.5,528.8L1243.5,533.5L1243.8,525.6L1244.1,533.5L1244.4,533.5L1244.5,527.4L1245.3,529.1L1245.3,534.5L1246.1,532.5L1247.0,533.5L1247.9,533.5L1248.2,534.5L1248.5,506.0L1248.8,534.5L1249.1,530.8L1249.4,534.5L1249.7,533.5L1250.5,534.5L1250.8,531.5L1251.1,534.5L1251.4,532.5L1251.7,529.5L1252.0,532.5L1252.3,532.5L1253.2,533.5L1253.5,530.0L1253.8,533.5L1254.1,533.5L1254.4,525.8L1254.7,533.5L1254.9,534.5L1255.8,532.5L1256.1,523.2L1256.4,532.5L1256.7,532.5L1257.6,533.5L1258.4,533.5L1259.3,532.5L1259.6,525.6L1259.9,532.5L1260.2,533.5L1260.5,528.4L1260.8,533.5L1261.1,534.5L1261.4,527.4L1261.7,534.5L1262.0,533.5L1262.8,533.5L1263.7,534.5L1264.6,533.5L1265.5,534.5L1266.4,533.5L1267.2,533.5L1268.1,533.5L1268.4,523.3L1268.7,533.5L1269.0,533.5L1269.3,512.9L1269.6,533.5L1269.9,533.5L1270.2,530.1L1270.5,533.5L1270.7,532.5L1271.6,534.5L1272.5,533.5L1273.4,534.5L1274.3,534.5L1274.6,531.6L1274.9,534.5L1275.1,534.5L1276.0,532.5L1276.9,533.5L1277.2,528.3L1277.5,533.5L1277.8,533.5L1278.7,533.5L1279.5,533.5L1280.4,534.5L1281.3,534.5L1282.2,533.5L1283.0,534.5L1283.9,533.5L1284.8,532.5L1285.7,533.5L1286.6,533.5L1286.9,524.8L1287.2,533.5L1287.4,533.5L1288.3,533.5L1288.4,525.0L1289.2,527.0L1289.2,533.5L1290.1,534.5L1291.0,532.5L1291.8,533.5L1292.7,534.5L1293.6,533.5L1294.5,533.5L1295.3,533.5L1296.2,533.5L1297.1,534.5L1297.2,529.8L1298.0,530.4L1298.0,533.5L1298.3,523.0L1298.6,533.5L1298.9,534.5L1299.7,533.5L1300.6,534.5L1300.9,529.0L1301.2,534.5L1301.5,534.5L1301.6,526.5L1302.4,530.1L1302.4,534.5L1303.2,533.5L1303.5,526.7L1303.8,533.5L1304.1,533.5L1304.4,519.3L1304.7,533.5L1305.0,532.5L1305.1,526.7L1305.9,529.0L1305.9,533.5L1306.2,515.5L1306.5,533.5L1306.8,533.5L1307.6,534.5L1307.9,527.3L1308.2,534.5L1308.5,532.5L1309.4,534.5L1310.3,533.5L1310.6,526.0L1310.9,533.5L1311.2,533.5L1312.0,533.5L1312.3,531.2L1312.6,533.5L1312.9,534.5L1313.8,534.5L1314.7,533.5L1315.5,533.5L1316.4,533.5L1316.5,528.9L1317.3,531.3L1317.3,534.5L1317.6,524.6L1317.9,534.5L1318.2,534.5L1319.1,533.5L1319.4,531.5L1319.7,533.5L1319.9,534.5L1320.2,527.8L1320.5,534.5L1320.8,533.5L1321.7,533.5L1322.0,524.3L1322.3,533.5L1322.6,534.5L1323.5,533.5L1324.3,534.5L1325.2,533.5L1325.5,519.6L1325.8,533.5L1326.1,533.5L1327.0,533.5L1327.8,533.5L1328.7,534.5L1329.6,533.5L1330.2,533.5L1330.5,513.0L1330.8,533.5L1331.4,534.5L1332.2,534.5L1332.3,525.1L1333.1,528.8L1333.1,534.5L1334.0,533.5L1334.1,530.2L1334.9,531.9L1334.9,533.5L1335.2,529.7L1335.5,533.5L1335.8,532.5L1336.6,534.5L1337.5,533.5L1338.4,533.5L1339.3,534.5L1339.4,531.5L1340.1,532.2L1340.1,533.5L1341.0,533.5L1341.9,533.5L1342.8,534.5L1343.7,534.5L1344.0,527.3L1344.3,534.5L1344.5,533.5L1344.8,526.8L1345.1,533.5L1345.4,534.5L1346.3,534.5L1347.2,532.5L1348.1,533.5L1348.9,534.5L1349.8,533.5L1350.7,533.5L1351.6,534.5L1352.4,533.5L1353.3,534.5L1353.4,520.9L1354.2,525.3L1354.2,534.5L1354.5,531.8L1354.8,534.5L1355.1,533.5L1356.0,532.5L1356.8,533.5L1357.7,533.5L1358.6,534.5L1359.5,533.5L1360.4,532.5L1360.7,529.0L1361.0,532.5L1361.2,534.5L1362.1,533.5L1362.2,526.7L1362.5,487.0L1362.8,526.7L1363.0,528.0L1363.0,534.5L1363.9,533.5L1364.7,533.5L1365.6,533.5L1366.5,532.5L1366.6,529.3L1367.4,530.0" fill="none" stroke="#00c000" stroke-width="1" stroke-linejoin="round" shape-rendering="crispEdges"/>
<path d="M927,490.5V535M472,500V533M1363,505V533M828,505V533M635,510V533" stroke="#00c000" stroke-width="2" fill="none" shape-rendering="crispEdges"/>
<path d="M101.5,532.5L101.8,525.0L102.1,532.5L102.4,532.5L102.7,535.5L103.0,532.5L103.3,532.5L103.6,518.5L103.9,532.5L104.1,532.5L105.0,532.5L105.9,532.5L106.8,532.5L107.6,532.5L108.5,532.5L108.6,524.0L110.2,526.0L110.3,532.5L110.3,532.5L111.2,532.5L112.0,532.5L112.9,532.5L113.0,527.5L114.6,527.5L114.7,532.5L114.7,532.5L115.0,527.5L115.3,532.5L115.6,532.5L115.9,534.5L116.2,532.5L116.4,532.5L116.7,525.5L117.0,532.5L117.3,532.5L117.6,525.0L117.9,532.5L118.2,532.5L119.1,532.5L119.9,532.5L120.2,535.5L120.5,532.5L120.8,532.5L121.7,532.5L122.6,532.5L123.5,532.5L124.3,532.5L124.6,525.5L124.9,532.5L125.2,532.5L126.1,532.5L127.0,532.5L127.9,532.5L128.7,532.5L129.6,532.5L130.5,532.5L130.6,524.0L132.1,524.0L132.2,532.5L132.2,532.5L133.1,532.5L134.0,532.5L134.9,532.5L135.8,532.5L136.6,532.5L136.9,534.5L137.2,532.5L137.5,532.5L138.4,532.5L139.3,532.5L140.2,532.5L141.0,532.5L141.9,532.5L142.2,533.5L142.5,532.5L142.8,532.5L143.1,534.5L143.4,532.5L143.7,532.5L144.0,534.5L144.3,532.5L144.5,532.5L144.8,534.5L145.1,532.5L145.4,532.5L146.3,532.5L146.6,535.5L146.9,532.5L147.2,532.5L148.1,532.5L148.4,523.5L148.7,532.5L148.9,532.5L149.8,532.5L150.7,532.5L151.6,532.5L151.9,526.5L152.2,532.5L152.5,532.5L153.3,532.5L153.5,534.5L184.0,534.5L184.5,533.5L204.3,533.5L204.3,532.5L205.2,532.5L205.3,525.5L206.8,525.5L206.9,532.5L206.9,532.5L207.8,532.5L208.7,532.5L209.6,532.5L210.4,532.5L211.3,532.5L211.6,533.5L211.9,532.5L212.2,532.5L213.1,532.5L213.4,535.5L213.7,532.5L213.9,532.5L214.2,534.5L214.5,532.5L214.8,532.5L215.7,532.5L216.6,532.5L217.5,532.5L218.3,532.5L219.2,532.5L220.1,532.5L221.0,532.5L221.1,525.5L222.6,526.5L222.7,532.5L222.7,532.5L222.8,523.5L224.4,523.5L224.5,532.5L224.5,532.5L224.8,534.5L225.1,532.5L225.4,532.5L225.7,534.5L226.0,532.5L226.2,532.5L227.1,532.5L227.2,527.5L228.8,527.5L228.9,532.5L228.9,532.5L229.8,532.5L230.6,532.5L231.5,532.5L232.4,532.5L232.7,534.5L233.0,532.5L233.3,532.5L234.1,532.5L234.4,534.5L234.7,532.5L235.0,532.5L235.9,532.5L236.8,532.5L237.1,534.5L237.4,532.5L237.7,532.5L238.0,521.5L238.3,532.5L238.5,532.5L238.8,533.5L239.1,532.5L239.4,532.5L240.3,532.5L240.6,533.5L240.9,532.5L241.2,532.5L242.1,532.5L242.2,524.3L243.7,524.3L243.8,532.5L243.8,532.5L244.7,532.5L245.6,532.5L246.4,532.5L247.3,532.5L248.2,532.5L249.1,532.5L250.0,532.5L250.8,532.5L251.7,532.5L252.6,532.5L252.9,534.5L253.2,532.5L253.5,532.5L253.8,534.5L254.1,532.5L254.4,532.5L255.2,532.5L256.1,532.5L257.0,532.5L257.3,535.5L257.6,532.5L257.9,532.5L258.2,535.5L258.5,532.5L258.7,532.5L259.6,532.5L260.5,532.5L261.4,532.5L262.3,532.5L262.6,534.5L262.9,532.5L263.1,532.5L263.4,534.5L263.7,532.5L264.0,532.5L264.3,534.5L264.6,532.5L264.9,532.5L265.8,532.5L265.9,527.5L267.4,527.5L267.5,532.5L267.5,532.5L268.4,532.5L269.3,532.5L269.6,525.0L269.9,532.5L270.2,532.5L271.0,532.5L271.3,534.5L271.6,532.5L271.9,532.5L272.8,532.5L273.7,532.5L273.8,524.3L275.3,524.3L275.4,532.5L275.4,532.5L276.3,532.5L277.2,532.5L277.3,524.3L278.9,525.3L279.0,532.5L279.0,532.5L279.8,532.5L280.7,532.5L280.8,525.0L282.4,525.0L282.5,532.5L282.5,532.5L283.3,532.5L283.6,526.5L283.9,532.5L284.2,532.5L284.5,535.5L284.8,532.5L285.1,532.5L286.0,532.5L286.9,532.5L287.0,521.5L288.5,523.5L288.6,532.5L288.6,532.5L288.9,518.5L289.2,532.5L289.5,532.5L290.4,532.5L290.7,524.5L291.0,532.5L291.2,532.5L292.1,532.5L293.0,532.5L293.1,532.5L293.5,481.0L293.9,532.5L294.8,532.5L295.1,518.5L295.4,532.5L295.6,532.5L295.9,535.5L296.2,532.5L296.5,532.5L297.4,532.5L297.7,534.5L298.0,532.5L298.3,532.5L298.6,525.5L298.9,532.5L299.2,532.5L299.1,526.5L299.5,496.0L299.9,526.5L299.8,532.5L300.0,532.5L300.3,523.5L300.6,532.5L300.9,532.5L301.8,532.5L302.7,532.5L303.1,532.5L303.5,423.0L303.9,532.5L304.4,532.5L305.3,532.5L306.2,532.5L306.5,534.5L306.8,532.5L307.1,532.5L307.9,532.5L308.8,532.5L309.1,534.5L309.4,532.5L309.7,532.5L310.6,532.5L311.5,532.5L311.8,534.5L312.1,532.5L312.3,532.5L312.6,534.5L312.9,532.5L313.2,532.5L314.1,532.5L314.4,533.5L314.7,532.5L315.0,532.5L315.8,532.5L316.7,532.5L317.0,534.5L317.3,532.5L317.6,532.5L317.9,534.5L318.2,532.5L318.5,532.5L319.4,532.5L320.2,532.5L320.3,526.5L321.9,526.5L322.0,532.5L322.0,532.5L322.9,532.5L323.2,535.5L323.5,532.5L323.8,532.5L323.9,523.5L325.4,523.5L325.5,532.5L325.5,532.5L326.4,532.5L326.7,533.5L327.0,532.5L327.3,532.5L327.6,534.5L327.9,532.5L328.1,532.5L328.4,534.5L328.7,532.5L329.0,532.5L329.9,532.5L330.8,532.5L331.7,532.5L332.5,532.5L332.8,535.5L333.1,532.5L333.4,532.5L333.7,533.5L334.0,532.5L334.3,532.5L335.2,532.5L335.3,526.5L336.8,526.5L336.9,532.5L336.9,532.5L337.0,525.0L338.6,526.0L338.7,532.5L338.7,532.5L339.6,532.5L340.4,532.5L341.3,532.5L341.4,524.0L343.0,526.0L343.1,532.5L343.1,532.5L343.4,533.5L343.7,532.5L344.0,532.5L344.3,526.5L344.6,532.5L344.8,532.5L345.7,532.5L346.6,532.5L347.5,532.5L348.4,532.5L348.5,518.5L350.0,518.5L350.1,532.5L350.1,532.5L350.4,524.5L350.7,532.5L351.0,532.5L351.3,535.5L351.6,532.5L351.9,532.5L352.2,535.5L352.5,532.5L352.7,532.5L353.6,532.5L353.9,524.0L354.2,532.5L354.5,532.5L355.4,532.5L355.7,523.5L356.0,532.5L356.3,532.5L357.1,532.5L358.0,532.5L358.9,532.5L359.8,532.5L360.6,532.5L361.5,532.5L361.8,524.5L362.1,532.5L362.4,532.5L362.5,524.5L364.1,525.5L364.2,532.5L364.2,532.5L365.0,532.5L365.9,532.5L366.8,532.5L367.7,532.5L368.6,532.5L369.4,532.5L370.3,532.5L371.2,532.5L372.1,532.5L372.9,532.5L373.8,532.5L373.9,524.3L375.5,524.3L375.6,532.5L375.6,532.5L375.7,524.5L377.2,525.5L377.3,532.5L377.3,532.5L377.6,520.5L377.9,532.5L378.2,532.5L379.1,532.5L380.0,532.5L380.9,532.5L381.7,532.5L382.0,534.5L382.3,532.5L382.6,532.5L383.5,532.5L383.8,534.5L384.1,532.5L384.4,532.5L385.2,532.5L386.1,532.5L386.4,534.5L386.7,532.5L387.0,532.5L387.9,532.5L388.8,532.5L389.1,534.5L389.4,532.5L389.6,532.5L389.9,535.5L390.2,532.5L390.5,532.5L390.8,533.5L391.1,532.5L391.4,532.5L392.3,532.5L393.2,532.5L394.0,532.5L394.3,534.5L394.6,532.5L394.9,532.5L395.8,532.5L396.7,532.5L397.0,525.0L397.3,532.5L397.5,532.5L397.8,534.5L398.1,532.5L398.4,532.5L399.3,532.5L400.2,531.5L400.5,535.5L400.8,531.5L401.1,531.5L401.4,519.5L401.7,531.5L401.9,531.5L402.2,535.5L402.5,531.5L402.8,531.5L403.1,534.5L403.4,531.5L403.7,531.5L404.0,534.5L404.3,531.5L404.6,531.5L405.5,531.5L405.8,523.5L406.1,531.5L406.3,531.5L407.2,531.5L408.1,531.5L409.0,531.5L409.8,531.5L410.7,531.5L411.6,531.5L412.5,531.5L413.4,531.5L413.7,526.5L414.0,531.5L414.2,531.5L415.1,531.5L415.4,534.5L415.7,531.5L416.0,531.5L416.3,534.5L416.6,531.5L416.9,531.5L417.2,535.5L417.5,531.5L417.8,531.5L418.1,520.5L418.4,531.5L418.6,531.5L418.9,534.5L419.2,531.5L419.5,531.5L420.4,531.5L420.7,535.5L421.0,531.5L421.3,531.5L422.1,531.5L422.2,524.0L423.8,524.0L423.9,531.5L423.9,531.5L424.2,534.5L424.5,531.5L424.8,531.5L425.7,531.5L426.0,534.5L426.3,531.5L426.5,531.5L427.4,531.5L428.3,531.5L429.2,531.5L430.0,531.5L430.9,531.5L431.0,523.3L432.6,525.3L432.7,531.5L432.7,531.5L433.0,534.5L433.3,531.5L433.6,531.5L434.4,531.5L435.3,531.5L435.6,525.5L435.9,531.5L436.2,531.5L437.1,531.5L438.0,531.5L438.3,534.5L438.6,531.5L438.8,531.5L438.9,525.5L440.5,525.5L440.6,531.5L440.6,531.5L440.9,533.5L441.2,531.5L441.5,531.5L442.3,531.5L443.2,531.5L444.1,531.5L444.4,522.5L444.7,531.5L445.0,531.5L445.9,531.5L446.7,531.5L447.0,535.5L447.3,531.5L447.6,531.5L448.5,531.5L449.4,531.5L449.7,535.5L450.0,531.5L450.3,531.5L451.1,531.5L452.0,531.5L452.9,531.5L453.2,535.5L453.5,531.5L453.8,531.5L454.1,526.5L454.4,531.5L454.6,531.5L455.5,531.5L455.8,534.5L456.1,531.5L456.4,531.5L457.3,531.5L458.2,531.5L458.5,534.5L458.8,531.5L459.0,531.5L459.3,533.5L459.6,531.5L459.9,531.5L460.2,523.5L460.5,531.5L460.8,531.5L461.7,531.5L461.8,524.0L463.3,525.0L463.4,531.5L463.4,531.5L464.3,531.5L464.4,522.5L466.0,524.5L466.1,531.5L466.1,531.5L466.9,531.5L467.2,534.5L467.5,531.5L467.8,531.5L468.7,531.5L469.6,531.5L469.9,520.5L470.2,531.5L470.5,531.5L471.3,531.5L472.2,531.5L472.5,534.5L472.8,531.5L473.1,531.5L474.0,531.5L474.9,531.5L475.2,534.5L475.5,531.5L475.7,531.5L476.6,531.5L477.5,531.5L478.4,531.5L479.2,531.5L480.1,531.5L481.0,531.5L481.9,531.5L482.8,531.5L482.9,520.5L484.4,520.5L484.5,531.5L484.5,531.5L485.4,531.5L486.3,531.5L486.6,525.5L486.9,531.5L487.1,531.5L487.4,534.5L487.7,531.5L488.0,531.5L488.1,524.0L489.7,526.0L489.8,531.5L489.8,531.5L489.9,517.5L491.4,519.5L491.5,531.5L491.5,531.5L492.4,531.5L492.7,535.5L493.0,531.5L493.3,531.5L494.2,531.5L494.5,534.5L494.8,531.5L495.1,531.5L495.2,517.5L496.7,517.5L496.8,531.5L496.8,531.5L496.9,517.5L498.5,518.5L498.6,531.5L498.6,531.5L499.4,531.5L500.3,531.5L501.2,531.5L502.1,531.5L503.0,531.5L503.8,531.5L504.1,534.5L504.4,531.5L504.7,531.5L505.6,531.5L506.5,531.5L507.4,531.5L508.2,531.5L509.1,531.5L510.0,531.5L510.3,534.5L510.6,531.5L510.9,531.5L511.2,523.5L511.5,531.5L511.7,531.5L512.6,531.5L512.7,523.0L514.3,524.0L514.4,531.5L514.4,531.5L515.3,531.5L516.1,531.5L517.0,531.5L517.9,531.5L518.2,534.5L518.5,531.5L518.8,531.5L519.1,533.5L519.4,531.5L519.7,531.5L520.0,524.5L520.3,531.5L520.5,531.5L521.4,531.5L522.3,531.5L522.6,534.5L522.9,531.5L523.2,531.5L523.5,535.5L523.8,531.5L524.0,531.5L524.3,534.5L524.6,531.5L524.9,531.5L525.8,531.5L526.7,531.5L527.0,535.5L527.3,531.5L527.6,531.5L527.9,534.5L528.2,531.5L528.4,531.5L529.3,531.5L529.6,533.5L529.9,531.5L530.2,531.5L531.1,531.5L532.0,531.5L532.8,531.5L533.7,531.5L534.6,531.5L535.5,531.5L535.8,533.5L536.1,531.5L536.3,531.5L536.6,534.5L536.9,531.5L537.2,531.5L538.1,531.5L538.4,520.5L538.7,531.5L539.0,531.5L539.9,531.5L540.7,531.5L541.6,531.5L542.5,531.5L543.4,531.5L544.2,531.5L545.1,531.5L546.0,531.5L546.3,534.5L546.6,531.5L546.9,531.5L547.8,531.5L548.1,525.5L548.4,531.5L548.6,531.5L549.5,531.5L550.4,531.5L550.7,534.5L551.0,531.5L551.3,531.5L551.4,520.5L552.9,520.5L553.0,531.5L553.0,531.5L553.3,534.5L553.6,531.5L553.9,531.5L554.2,535.5L554.5,531.5L554.8,531.5L555.7,531.5L555.8,523.0L557.3,523.0L557.4,531.5L557.4,531.5L558.3,531.5L559.2,531.5L560.1,531.5L560.4,533.5L560.7,531.5L560.9,531.5L561.8,531.5L562.7,531.5L563.0,533.5L563.3,531.5L563.6,531.5L564.5,531.5L565.3,531.5L566.2,531.5L567.1,531.5L568.0,531.5L568.8,531.5L569.7,531.5L570.0,533.5L570.3,531.5L570.6,531.5L570.9,534.5L571.2,531.5L571.5,531.5L572.4,531.5L573.2,531.5L574.1,531.5L574.2,523.5L575.8,525.5L575.9,531.5L575.9,531.5L576.8,531.5L577.1,534.5L577.4,531.5L577.6,531.5L578.5,531.5L579.4,531.5L580.3,531.5L581.1,531.5L581.4,523.3L581.7,531.5L582.0,531.5L582.1,531.5L582.5,508.0L582.9,531.5L583.2,533.5L583.5,531.5L583.8,531.5L584.7,531.5L585.5,531.5L585.6,526.5L587.2,526.5L587.3,531.5L587.3,531.5L587.6,535.5L587.9,531.5L588.2,531.5L589.1,531.5L589.9,531.5L590.0,519.5L591.6,519.5L591.7,531.5L591.7,531.5L592.6,531.5L592.7,517.5L594.2,518.5L594.3,531.5L594.3,531.5L595.2,531.5L596.1,531.5L597.0,531.5L597.3,523.0L597.6,531.5L597.8,531.5L598.1,533.5L598.4,531.5L598.7,531.5L599.0,524.0L599.3,531.5L599.6,531.5L600.5,530.5L600.8,533.5L601.1,530.5L601.4,530.5L602.2,530.5L602.5,534.5L602.8,530.5L603.1,530.5L604.0,530.5L604.9,530.5L605.2,522.3L605.5,530.5L605.7,530.5L606.6,530.5L606.9,534.5L607.2,530.5L607.5,530.5L608.4,530.5L609.3,530.5L609.6,525.5L609.9,530.5L610.1,530.5L611.0,530.5L611.9,530.5L612.8,530.5L613.6,530.5L614.5,530.5L614.8,524.5L615.1,530.5L615.4,530.5L616.3,530.5L617.2,530.5L618.0,530.5L618.3,522.0L618.6,530.5L618.9,530.5L619.0,525.5L620.6,525.5L620.7,530.5L620.7,530.5L621.6,530.5L621.7,524.5L623.2,524.5L623.3,530.5L623.3,530.5L624.2,530.5L624.5,522.3L624.8,530.5L625.1,530.5L625.9,530.5L626.2,534.5L626.5,530.5L626.8,530.5L627.7,530.5L628.6,530.5L628.7,524.5L630.2,524.5L630.3,530.5L630.3,530.5L631.2,530.5L632.1,530.5L633.0,530.5L633.9,530.5L634.2,534.5L634.5,530.5L634.7,530.5L635.0,535.5L635.3,530.5L635.6,530.5L635.9,534.5L636.2,530.5L636.5,530.5L636.6,521.5L638.1,523.5L638.2,530.5L638.2,530.5L638.5,534.5L638.8,530.5L639.1,530.5L639.4,535.5L639.7,530.5L640.0,530.5L640.9,530.5L641.2,535.5L641.5,530.5L641.8,530.5L642.6,530.5L643.5,530.5L644.4,530.5L645.3,530.5L646.2,530.5L647.0,530.5L647.3,521.5L647.6,530.5L647.9,530.5L648.0,522.5L649.6,522.5L649.7,530.5L649.7,530.5L650.0,534.5L650.3,530.5L650.5,530.5L651.4,530.5L652.3,530.5L652.6,534.5L652.9,530.5L653.2,530.5L654.1,530.5L654.9,530.5L655.0,523.0L656.6,525.0L656.7,530.5L656.7,530.5L657.6,530.5L657.9,535.5L658.2,530.5L658.5,530.5L659.3,530.5L660.2,530.5L660.5,535.5L660.8,530.5L661.1,530.5L662.0,530.5L662.1,524.5L663.6,524.5L663.7,530.5L663.7,530.5L664.6,530.5L665.5,530.5L666.4,530.5L667.2,530.5L668.1,530.5L669.0,530.5L669.9,530.5L670.2,534.5L670.5,530.5L670.8,530.5L671.6,530.5L671.9,534.5L672.2,530.5L672.5,530.5L673.4,530.5L674.3,530.5L675.1,530.5L676.0,530.5L676.3,534.5L676.6,530.5L676.9,530.5L677.8,530.5L678.7,530.5L679.5,530.5L680.4,530.5L681.3,530.5L681.4,523.0L682.9,525.0L683.0,530.5L683.0,530.5L683.3,534.5L683.6,530.5L683.9,530.5L684.8,530.5L685.7,530.5L685.8,522.0L687.3,523.0L687.4,530.5L687.4,530.5L687.7,535.5L688.0,530.5L688.3,530.5L689.2,530.5L690.1,530.5L691.0,530.5L691.1,516.5L692.6,518.5L692.7,530.5L692.7,530.5L693.6,530.5L693.9,521.5L694.2,530.5L694.5,530.5L695.3,530.5L696.2,530.5L696.3,519.5L697.9,520.5L698.0,530.5L698.0,530.5L698.9,530.5L699.7,530.5L700.6,530.5L701.5,530.5L702.4,530.5L702.7,535.5L703.0,530.5L703.3,530.5L704.1,530.5L705.0,530.5L705.9,530.5L706.8,530.5L707.6,530.5L708.5,530.5L708.8,534.5L709.1,530.5L709.4,530.5L709.7,533.5L710.0,530.5L710.3,530.5L711.2,530.5L712.0,530.5L712.9,530.5L713.8,530.5L714.7,530.5L715.0,534.5L715.3,530.5L715.6,530.5L716.4,530.5L717.3,530.5L718.2,530.5L719.1,530.5L719.9,530.5L720.8,530.5L721.1,533.5L721.4,530.5L721.7,530.5L722.1,530.5L722.5,510.0L722.9,530.5L723.5,530.5L723.8,533.5L724.1,530.5L724.3,530.5L724.6,534.5L724.9,530.5L725.2,530.5L725.3,525.5L726.9,527.5L727.0,530.5L727.0,530.5L727.9,530.5L728.7,530.5L729.6,530.5L730.5,530.5L730.6,522.3L732.1,523.3L732.2,530.5L732.2,530.5L733.1,530.5L734.0,530.5L734.9,530.5L735.0,518.5L736.5,518.5L736.6,530.5L736.6,530.5L737.5,530.5L738.4,530.5L738.5,516.5L740.0,518.5L740.1,530.5L740.1,530.5L741.0,530.5L741.1,522.3L742.7,523.3L742.8,530.5L742.8,530.5L743.7,530.5L744.5,530.5L744.8,533.5L745.1,530.5L745.4,530.5L745.7,518.5L746.0,530.5L746.3,530.5L747.2,530.5L747.3,522.5L748.8,522.5L748.9,530.5L748.9,530.5L749.8,530.5L750.7,530.5L751.6,530.5L751.7,522.0L753.2,522.0L753.3,530.5L753.3,530.5L754.2,530.5L754.5,534.5L754.8,530.5L755.1,530.5L756.0,530.5L756.1,522.5L757.6,522.5L757.7,530.5L757.7,530.5L758.6,530.5L758.7,518.5L760.3,518.5L760.4,530.5L760.4,530.5L761.2,530.5L762.1,530.5L763.0,530.5L763.9,530.5L764.7,530.5L765.6,530.5L765.9,533.5L766.2,530.5L766.5,530.5L767.4,530.5L768.3,530.5L769.1,530.5L770.0,530.5L770.9,530.5L771.0,524.5L772.6,524.5L772.7,530.5L772.7,530.5L773.5,530.5L774.1,530.5L774.5,509.0L774.9,530.5L775.3,530.5L775.4,522.5L776.9,522.5L777.0,530.5L777.0,530.5L777.3,523.5L777.6,530.5L777.9,530.5L778.8,530.5L779.7,530.5L780.6,530.5L781.4,530.5L782.3,530.5L782.6,535.5L782.9,530.5L783.2,530.5L783.5,534.5L783.8,530.5L784.1,530.5L785.0,530.5L785.1,523.5L786.6,525.5L786.7,530.5L786.7,530.5L787.6,530.5L788.5,530.5L789.3,530.5L790.2,530.5L791.1,530.5L792.0,530.5L792.9,530.5L793.7,530.5L794.6,530.5L795.5,530.5L796.4,530.5L797.2,530.5L797.5,534.5L797.9,530.5L798.1,530.5L798.4,535.5L798.7,530.5L799.0,530.5L799.9,530.5L800.8,529.5L801.1,523.5L801.4,529.5L801.6,529.5L801.7,521.3L803.3,521.3L803.4,529.5L803.4,529.5L803.7,523.5L804.0,529.5L804.3,529.5L805.2,529.5L805.3,517.5L806.8,519.5L806.9,529.5L806.9,529.5L807.0,522.0L808.6,524.0L808.7,529.5L808.7,529.5L809.5,529.5L810.4,529.5L810.5,521.5L812.1,521.5L812.2,529.5L812.2,529.5L812.5,535.5L812.8,529.5L813.1,529.5L813.9,529.5L814.2,533.5L814.5,529.5L814.8,529.5L814.9,521.3L816.5,522.3L816.6,529.5L816.6,529.5L816.9,534.5L817.2,529.5L817.5,529.5L818.3,529.5L818.6,533.5L818.9,529.5L819.2,529.5L819.5,534.5L819.8,529.5L820.1,529.5L821.0,529.5L821.1,521.0L822.6,523.0L822.7,529.5L822.7,529.5L823.0,533.5L823.3,529.5L823.6,529.5L823.9,520.5L824.2,529.5L824.5,529.5L825.4,529.5L825.7,521.3L826.0,529.5L826.2,529.5L826.5,533.5L826.8,529.5L827.1,529.5L828.0,529.5L828.9,529.5L829.8,529.5L830.6,529.5L831.1,529.5L831.5,486.2L831.9,529.5L832.4,529.5L832.7,533.5L833.0,529.5L833.3,529.5L833.6,533.5L833.9,529.5L834.1,529.5L835.0,529.5L835.3,521.5L835.6,529.5L835.9,529.5L836.8,529.5L837.7,529.5L838.0,533.5L838.3,529.5L838.5,529.5L839.4,529.5L840.3,529.5L841.2,529.5L842.1,529.5L842.9,529.5L843.0,517.5L844.6,517.5L844.7,529.5L844.7,529.5L845.0,533.5L845.3,529.5L845.6,529.5L846.4,529.5L847.3,529.5L848.2,529.5L849.1,529.5L849.2,520.5L850.7,520.5L850.8,529.5L850.8,529.5L851.7,529.5L852.6,529.5L853.5,529.5L854.4,529.5L854.7,533.5L855.0,529.5L855.2,529.5L855.5,535.5L855.8,529.5L856.1,529.5L857.0,529.5L857.9,529.5L858.7,529.5L859.6,529.5L859.7,521.5L861.3,521.5L861.4,529.5L861.4,529.5L862.3,529.5L863.1,529.5L864.0,529.5L864.9,529.5L865.0,523.5L866.5,523.5L866.6,529.5L866.6,529.5L867.5,529.5L867.6,522.5L869.2,523.5L869.3,529.5L869.3,529.5L869.6,535.5L869.9,529.5L870.2,529.5L871.0,529.5L871.3,523.5L871.6,529.5L871.9,529.5L872.8,529.5L873.7,529.5L874.6,529.5L875.1,529.5L875.5,514.0L875.9,529.5L875.7,534.5L876.0,529.5L876.3,529.5L876.6,521.0L876.9,529.5L877.2,529.5L878.1,529.5L878.9,529.5L879.8,529.5L880.7,529.5L880.8,521.5L882.4,522.5L882.5,529.5L882.5,529.5L883.3,529.5L883.6,535.5L883.9,529.5L884.2,529.5L885.1,529.5L886.0,529.5L886.1,515.5L887.6,517.5L887.7,529.5L887.7,529.5L888.6,529.5L889.5,529.5L889.8,534.5L890.1,529.5L890.4,529.5L890.7,535.5L891.0,529.5L891.2,529.5L892.1,529.5L893.0,529.5L893.9,529.5L894.0,524.5L895.5,524.5L895.6,529.5L895.6,529.5L896.5,529.5L897.4,529.5L897.7,533.5L898.0,529.5L898.3,529.5L899.2,529.5L900.0,529.5L900.9,529.5L901.8,529.5L902.1,535.5L902.4,529.5L902.7,529.5L903.0,534.5L903.3,529.5L903.5,529.5L904.4,529.5L905.3,529.5L906.2,529.5L906.5,534.5L906.8,529.5L907.1,529.5L907.9,529.5L908.8,529.5L909.1,535.5L909.4,529.5L909.7,529.5L910.0,534.5L910.3,529.5L910.6,529.5L911.5,529.5L912.3,529.5L912.6,518.5L912.9,529.5L913.2,529.5L913.5,523.5L913.8,529.5L914.1,529.5L914.4,533.5L914.7,529.5L915.0,529.5L915.3,535.5L915.6,529.5L915.8,529.5L916.7,529.5L917.6,529.5L917.9,534.5L918.2,529.5L918.5,529.5L918.8,535.5L919.1,529.5L919.4,529.5L920.2,529.5L920.5,534.5L920.8,529.5L921.1,529.5L922.0,529.5L922.3,535.5L922.6,529.5L922.9,529.5L923.2,521.5L923.5,529.5L923.8,529.5L924.0,521.5L924.4,529.5L924.6,529.5L924.9,534.5L925.2,529.5L925.5,529.5L926.4,529.5L927.3,529.5L928.1,529.5L929.0,529.5L929.1,521.3L930.7,522.3L930.8,529.5L930.8,529.5L931.7,529.5L932.5,529.5L932.8,534.5L933.1,529.5L933.4,529.5L933.7,534.5L934.0,529.5L934.3,529.5L934.4,515.5L935.9,515.5L936.0,529.5L936.0,529.5L936.3,517.5L936.6,529.5L936.9,529.5L937.8,529.5L938.7,529.5L939.6,529.5L940.4,529.5L941.3,529.5L941.6,535.5L941.9,529.5L942.2,529.5L942.3,521.5L943.9,522.5L944.0,529.5L944.0,529.5L944.3,522.5L944.6,529.5L944.8,529.5L945.7,529.5L946.6,529.5L946.7,518.5L948.2,518.5L948.3,529.5L948.3,529.5L949.2,529.5L949.5,535.5L949.8,529.5L950.1,529.5L951.0,529.5L951.3,534.5L951.6,529.5L951.9,529.5L952.7,529.5L952.8,521.0L954.4,523.0L954.5,529.5L954.5,529.5L954.8,534.5L955.1,529.5L955.4,529.5L956.3,529.5L957.1,529.5L957.4,535.5L957.7,529.5L958.0,529.5L958.9,529.5L959.2,535.5L959.5,529.5L959.8,529.5L960.1,533.5L960.4,529.5L960.6,529.5L960.9,520.5L961.2,529.5L961.5,529.5L961.6,517.5L963.2,519.5L963.3,529.5L963.3,529.5L964.2,529.5L965.0,529.5L965.3,534.5L965.6,529.5L965.9,529.5L966.2,534.5L966.5,529.5L966.8,529.5L967.1,533.5L967.4,529.5L967.7,529.5L968.0,534.5L968.3,529.5L968.6,529.5L969.4,529.5L970.3,529.5L970.4,522.5L972.0,522.5L972.1,529.5L972.1,529.5L972.9,529.5L973.8,529.5L974.7,529.5L975.0,533.5L975.3,529.5L975.6,529.5L976.5,529.5L977.3,529.5L977.6,522.0L977.9,529.5L978.2,529.5L979.1,529.5L979.4,535.5L979.7,529.5L980.0,529.5L980.3,521.3L980.6,529.5L980.9,529.5L981.2,533.5L981.5,529.5L981.7,529.5L982.6,529.5L983.5,529.5L984.4,529.5L985.2,529.5L986.1,529.5L987.0,529.5L987.9,529.5L988.2,520.5L988.5,529.5L988.8,529.5L989.6,529.5L990.5,529.5L990.8,534.5L991.1,529.5L991.4,529.5L991.7,517.5L992.0,529.5L992.3,529.5L992.6,534.5L992.9,529.5L993.1,529.5L994.0,529.5L994.3,523.5L994.6,529.5L994.9,529.5L995.2,534.5L995.5,529.5L995.8,529.5L996.1,521.3L996.4,529.5L996.7,529.5L997.0,533.5L997.3,529.5L997.5,529.5L998.4,529.5L999.3,529.5L999.6,535.5L999.9,529.5L1000.2,528.5L1001.1,528.5L1001.4,533.5L1001.7,528.5L1001.9,528.5L1002.8,528.5L1002.9,519.5L1004.5,519.5L1004.6,528.5L1004.6,528.5L1005.4,528.5L1006.3,528.5L1006.6,514.5L1006.9,528.5L1007.2,528.5L1008.1,528.5L1009.0,528.5L1009.8,528.5L1010.7,528.5L1010.8,520.5L1012.4,520.5L1012.5,528.5L1012.5,528.5L1013.4,528.5L1014.2,528.5L1014.5,533.5L1014.8,528.5L1015.1,528.5L1015.2,521.0L1016.8,522.0L1016.9,528.5L1016.9,528.5L1017.7,528.5L1018.6,528.5L1018.9,534.5L1019.2,528.5L1019.5,528.5L1020.4,528.5L1021.3,528.5L1022.1,528.5L1023.0,528.5L1023.1,517.5L1024.7,517.5L1024.8,528.5L1024.8,528.5L1025.1,523.5L1025.4,528.5L1025.7,528.5L1026.5,528.5L1027.4,528.5L1027.7,534.5L1028.0,528.5L1028.3,528.5L1029.2,528.5L1030.0,528.5L1030.2,528.5L1030.5,514.0L1030.8,528.5L1031.8,528.5L1032.1,534.5L1032.4,528.5L1032.7,528.5L1033.0,533.5L1033.3,528.5L1033.6,528.5L1034.4,528.5L1035.3,528.5L1035.4,520.0L1037.0,522.0L1037.1,528.5L1037.1,528.5L1038.0,528.5L1038.3,514.5L1038.6,528.5L1038.8,528.5L1039.7,528.5L1040.6,528.5L1041.5,528.5L1042.3,528.5L1042.6,534.5L1042.9,528.5L1043.2,528.5L1044.1,528.5L1044.2,517.5L1045.8,517.5L1045.9,528.5L1045.9,528.5L1046.7,528.5L1047.0,534.5L1047.3,528.5L1047.6,528.5L1047.9,534.5L1048.2,528.5L1048.5,528.5L1048.8,520.3L1049.1,528.5L1049.4,528.5L1050.2,528.5L1051.1,528.5L1052.0,528.5L1052.3,519.5L1052.6,528.5L1052.9,528.5L1053.2,534.5L1053.5,528.5L1053.8,528.5L1054.6,528.5L1054.9,535.5L1055.2,528.5L1055.5,528.5L1056.4,528.5L1056.7,520.5L1057.0,528.5L1057.3,528.5L1058.2,528.5L1059.0,528.5L1059.9,528.5L1060.2,521.0L1060.5,528.5L1060.8,528.5L1061.7,528.5L1062.5,528.5L1063.4,528.5L1064.3,528.5L1065.2,528.5L1066.1,528.5L1066.4,535.5L1066.7,528.5L1066.9,528.5L1067.8,528.5L1068.7,528.5L1069.0,520.5L1069.3,528.5L1069.6,528.5L1070.5,528.5L1071.3,528.5L1071.6,535.5L1071.9,528.5L1072.2,528.5L1073.1,528.5L1073.4,533.5L1073.7,528.5L1074.0,528.5L1074.3,534.5L1074.6,528.5L1074.8,528.5L1075.1,533.5L1075.4,528.5L1075.7,528.5L1076.0,535.5L1076.3,528.5L1076.6,528.5L1077.5,528.5L1078.4,528.5L1079.2,528.5L1080.1,528.5L1081.0,528.5L1081.9,528.5L1082.2,520.5L1082.5,528.5L1082.8,528.5L1083.6,528.5L1084.5,528.5L1085.4,528.5L1085.7,535.5L1086.0,528.5L1086.3,528.5L1087.1,528.5L1087.4,533.5L1087.7,528.5L1088.0,528.5L1088.9,528.5L1089.8,528.5L1090.1,534.5L1090.4,528.5L1090.7,528.5L1091.5,528.5L1092.4,528.5L1092.7,535.5L1093.0,528.5L1093.3,528.5L1094.2,528.5L1095.1,528.5L1095.2,520.3L1096.7,521.3L1096.8,528.5L1096.8,528.5L1097.7,528.5L1098.6,528.5L1098.9,535.5L1099.2,528.5L1099.4,528.5L1099.7,534.5L1100.0,528.5L1100.3,528.5L1100.4,520.5L1102.0,522.5L1102.1,528.5L1102.1,528.5L1102.4,514.5L1102.7,528.5L1103.0,528.5L1103.8,528.5L1104.7,528.5L1105.6,528.5L1105.7,520.5L1107.3,520.5L1107.4,528.5L1107.4,528.5L1107.5,523.5L1109.0,523.5L1109.1,528.5L1109.1,528.5L1109.4,520.5L1109.7,528.5L1110.0,528.5L1110.9,528.5L1111.7,528.5L1112.6,528.5L1113.5,528.5L1114.4,528.5L1114.7,534.5L1115.0,528.5L1115.3,528.5L1116.1,528.5L1116.4,520.3L1116.7,528.5L1117.0,528.5L1117.3,520.5L1117.6,528.5L1117.9,528.5L1118.8,528.5L1119.1,535.5L1119.4,528.5L1119.6,528.5L1120.5,528.5L1121.4,528.5L1122.3,528.5L1123.2,528.5L1124.0,528.5L1124.9,528.5L1125.0,520.5L1126.6,521.5L1126.7,528.5L1126.7,528.5L1127.6,528.5L1128.4,528.5L1128.7,535.5L1129.0,528.5L1129.3,528.5L1129.6,535.5L1129.9,528.5L1130.2,528.5L1131.1,528.5L1131.4,534.5L1131.7,528.5L1131.9,528.5L1132.8,528.5L1133.7,528.5L1134.0,534.5L1134.3,528.5L1134.6,528.5L1135.5,528.5L1135.8,533.5L1136.1,528.5L1136.3,528.5L1137.2,528.5L1138.1,528.5L1139.0,528.5L1139.3,535.5L1139.6,528.5L1139.9,528.5L1140.7,528.5L1141.0,534.5L1141.3,528.5L1141.6,528.5L1141.7,519.5L1143.3,520.5L1143.4,528.5L1143.4,528.5L1144.2,528.5L1144.5,534.5L1144.8,528.5L1145.1,528.5L1145.4,521.0L1145.7,528.5L1146.0,528.5L1146.3,521.5L1146.6,528.5L1146.9,528.5L1147.8,528.5L1148.6,528.5L1148.7,521.0L1150.3,521.0L1150.4,528.5L1150.4,528.5L1150.7,534.5L1151.0,528.5L1151.3,528.5L1152.2,528.5L1153.0,528.5L1153.3,519.5L1153.6,528.5L1153.9,528.5L1154.8,528.5L1155.7,528.5L1156.5,528.5L1157.4,528.5L1158.3,528.5L1159.2,528.5L1160.1,528.5L1160.4,533.5L1160.7,528.5L1160.9,528.5L1161.2,517.5L1161.5,528.5L1161.8,528.5L1162.7,528.5L1163.0,534.5L1163.3,528.5L1163.6,528.5L1164.5,528.5L1165.3,528.5L1166.2,528.5L1166.3,520.0L1167.9,522.0L1168.0,528.5L1167.5,533.5L1167.5,476.0L1168.5,476.0L1168.5,416.0L1168.5,476.0L1169.5,476.0L1169.5,533.5L1170.6,528.5L1170.7,517.5L1172.3,519.5L1172.4,528.5L1172.4,528.5L1172.7,533.5L1173.0,528.5L1173.2,528.5L1174.1,528.5L1175.0,528.5L1175.9,528.5L1176.2,535.5L1176.5,528.5L1176.8,528.5L1177.6,528.5L1177.9,534.5L1178.2,528.5L1178.5,528.5L1179.4,528.5L1179.7,533.5L1180.0,528.5L1180.3,528.5L1181.1,528.5L1182.0,528.5L1182.3,535.5L1182.6,528.5L1182.9,528.5L1183.0,520.5L1184.6,521.5L1184.7,528.5L1184.7,528.5L1184.8,519.5L1186.3,521.5L1186.4,528.5L1186.4,528.5L1186.7,533.5L1187.0,528.5L1187.3,528.5L1188.2,528.5L1189.0,528.5L1189.9,528.5L1190.2,520.0L1190.5,528.5L1190.8,528.5L1191.7,528.5L1192.6,528.5L1193.4,528.5L1193.7,534.5L1194.0,528.5L1194.3,528.5L1195.2,528.5L1196.1,528.5L1196.4,534.5L1196.7,528.5L1197.0,528.5L1197.3,535.5L1197.6,528.5L1197.8,528.5L1198.7,528.5L1199.6,528.5L1200.5,528.5L1200.8,535.5L1201.1,528.5L1201.3,528.5L1202.2,528.5L1202.5,534.5L1202.8,528.5L1203.1,528.5L1204.0,528.5L1204.3,534.5L1204.6,528.5L1204.9,528.5L1205.0,521.0L1206.5,523.0L1206.6,528.5L1206.6,528.5L1207.5,528.5L1207.8,534.5L1208.1,528.5L1208.4,528.5L1209.3,528.5L1210.1,528.5L1210.4,533.5L1210.7,528.5L1211.0,528.5L1211.9,528.5L1212.8,528.5L1213.1,535.5L1213.4,528.5L1213.6,528.5L1213.9,534.5L1214.2,528.5L1214.5,528.5L1215.4,528.5L1216.3,528.5L1217.2,528.5L1218.0,528.5L1218.1,514.5L1219.7,515.5L1219.8,528.5L1219.8,528.5L1220.1,534.5L1220.4,528.5L1220.7,528.5L1221.6,528.5L1222.4,528.5L1223.3,528.5L1224.2,528.5L1225.1,528.5L1225.9,528.5L1226.8,528.5L1227.7,528.5L1228.6,528.5L1228.7,523.5L1230.2,523.5L1230.3,528.5L1230.3,528.5L1230.6,520.0L1230.9,528.5L1231.2,528.5L1231.5,533.5L1231.8,528.5L1232.1,528.5L1233.0,528.5L1233.9,528.5L1234.7,528.5L1235.6,528.5L1235.9,534.5L1236.2,528.5L1236.5,528.5L1237.4,528.5L1238.2,528.5L1238.5,533.5L1238.8,528.5L1239.1,528.5L1239.4,534.5L1239.7,528.5L1240.0,528.5L1240.9,528.5L1241.8,528.5L1242.6,528.5L1242.9,533.5L1243.2,528.5L1243.5,528.5L1244.4,528.5L1244.7,533.5L1245.0,528.5L1245.3,528.5L1246.1,528.5L1247.0,528.5L1247.3,534.5L1247.6,528.5L1247.9,528.5L1248.8,528.5L1249.7,528.5L1250.5,528.5L1250.8,514.5L1251.1,528.5L1251.4,528.5L1251.7,534.5L1252.0,528.5L1252.3,528.5L1252.4,516.5L1254.0,518.5L1254.1,528.5L1254.1,528.5L1254.9,528.5L1255.8,528.5L1256.7,528.5L1257.6,528.5L1257.9,534.5L1258.2,528.5L1258.4,528.5L1258.7,534.5L1259.0,528.5L1259.3,528.5L1259.6,533.5L1259.9,528.5L1260.2,528.5L1261.1,528.5L1262.0,528.5L1262.8,528.5L1263.1,535.5L1263.4,528.5L1263.7,528.5L1263.8,520.5L1265.4,520.5L1265.5,528.5L1265.5,528.5L1266.4,528.5L1267.2,528.5L1268.1,528.5L1268.2,523.5L1269.8,525.5L1269.9,528.5L1269.9,528.5L1270.2,534.5L1270.5,528.5L1270.7,528.5L1271.0,533.5L1271.3,528.5L1271.6,528.5L1271.9,535.5L1272.2,528.5L1272.5,528.5L1273.4,528.5L1274.3,528.5L1274.6,534.5L1274.9,528.5L1275.1,528.5L1276.0,528.5L1276.9,528.5L1277.0,516.5L1278.6,517.5L1278.7,528.5L1278.7,528.5L1278.8,514.5L1280.3,514.5L1280.4,528.5L1280.4,528.5L1280.5,520.3L1282.1,522.3L1282.2,528.5L1282.2,528.5L1283.0,528.5L1283.9,528.5L1284.8,528.5L1285.7,528.5L1286.0,523.5L1286.3,528.5L1286.6,528.5L1286.9,516.5L1287.2,528.5L1287.4,528.5L1288.3,528.5L1288.6,533.5L1288.9,528.5L1289.2,528.5L1289.3,520.5L1290.9,521.5L1291.0,528.5L1291.0,528.5L1291.1,522.5L1292.6,524.5L1292.7,528.5L1292.7,528.5L1293.6,528.5L1294.5,528.5L1295.3,528.5L1296.2,528.5L1297.1,528.5L1297.4,534.5L1297.7,528.5L1298.0,528.5L1298.9,528.5L1299.7,528.5L1300.6,528.5L1301.5,528.5L1302.4,528.5L1302.5,519.5L1304.0,521.5L1304.1,528.5L1304.1,528.5L1305.0,528.5L1305.9,528.5L1306.8,528.5L1307.6,528.5L1307.9,534.5L1308.2,528.5L1308.5,528.5L1308.8,533.5L1309.1,528.5L1309.4,528.5L1310.3,528.5L1310.6,534.5L1310.9,528.5L1311.2,528.5L1312.0,528.5L1312.3,534.5L1312.6,528.5L1312.9,528.5L1313.8,528.5L1314.7,528.5L1315.5,528.5L1316.4,528.5L1316.7,533.5L1317.0,528.5L1317.3,528.5L1318.2,528.5L1319.1,528.5L1319.2,522.5L1320.7,522.5L1320.8,528.5L1320.8,528.5L1321.1,533.5L1321.4,528.5L1321.7,528.5L1321.8,514.5L1323.4,514.5L1323.5,528.5L1323.5,528.5L1324.3,528.5L1324.4,523.5L1326.0,523.5L1326.1,528.5L1326.1,528.5L1327.0,528.5L1327.8,528.5L1328.7,528.5L1329.0,534.5L1329.3,528.5L1329.6,528.5L1330.5,528.5L1331.4,528.5L1332.2,528.5L1333.1,528.5L1333.4,533.5L1333.7,528.5L1334.0,528.5L1334.3,535.5L1334.6,528.5L1334.9,528.5L1335.8,528.5L1336.6,528.5L1336.9,522.5L1337.2,528.5L1337.5,528.5L1338.4,528.5L1339.3,528.5L1340.1,528.5L1341.0,528.5L1341.9,528.5L1342.8,528.5L1343.7,528.5L1344.5,528.5L1344.8,520.5L1345.1,528.5L1345.4,528.5L1345.7,534.5L1346.0,528.5L1346.3,528.5L1346.4,520.5L1348.0,522.5L1348.1,528.5L1348.1,528.5L1348.9,528.5L1349.2,533.5L1349.5,528.5L1349.8,528.5L1350.7,528.5L1351.6,528.5L1352.4,528.5L1353.3,528.5L1353.4,521.5L1355.0,521.5L1355.1,528.5L1355.1,528.5L1356.0,528.5L1356.8,528.5L1356.9,523.5L1358.5,523.5L1358.6,528.5L1358.6,528.5L1359.5,528.5L1359.6,522.5L1361.1,522.5L1361.2,528.5L1361.2,528.5L1362.1,528.5L1362.4,535.5L1362.7,528.5L1363.0,528.5L1363.9,528.5L1364.7,528.5L1365.6,528.5L1365.9,534.5L1366.2,528.5L1366.5,528.5" fill="none" stroke="#0080ff" stroke-width="1" stroke-linejoin="round" shape-rendering="crispEdges"/>
<path d="M303,455V535" stroke="#0080ff" stroke-width="2" fill="none" shape-rendering="crispEdges"/>
<rect x="318.00" y="481.30" width="13.00" height="13.00" fill="#00eeee"/>
<rect x="502.90" y="481.30" width="13.00" height="13.00" fill="#00eeee"/>
<rect x="566.80" y="481.30" width="13.00" height="13.00" fill="#00eeee"/>
<rect x="647.80" y="481.30" width="13.00" height="13.00" fill="#00eeee"/>
<rect x="1142.00" y="481.30" width="13.00" height="13.00" fill="#00eeee"/>
<circle cx="105.40" cy="430.00" r="5.25" fill="none" stroke="#c04000" stroke-width="1.25"/>
<path d="M99.15,430.00h2.0M109.65,430.00h2.0M105.40,423.75v2.0M105.40,434.25v2.0" stroke="#c04000" stroke-width="1.25" fill="none"/>
<circle cx="151.40" cy="430.00" r="5.25" fill="none" stroke="#c04000" stroke-width="1.25"/>
<path d="M145.15,430.00h2.0M155.65,430.00h2.0M151.40,423.75v2.0M151.40,434.25v2.0" stroke="#c04000" stroke-width="1.25" fill="none"/>
<circle cx="208.50" cy="445.20" r="5.25" fill="none" stroke="#c04000" stroke-width="1.25"/>
<path d="M202.25,445.20h2.0M212.75,445.20h2.0M208.50,438.95v2.0M208.50,449.45v2.0" stroke="#c04000" stroke-width="1.25" fill="none"/>
<circle cx="255.00" cy="429.00" r="5.25" fill="none" stroke="#c04000" stroke-width="1.25"/>
<path d="M248.75,429.00h2.0M259.25,429.00h2.0M255.00,422.75v2.0M255.00,433.25v2.0" stroke="#c04000" stroke-width="1.25" fill="none"/>
<circle cx="261.40" cy="455.60" r="5.25" fill="none" stroke="#c04000" stroke-width="1.25"/>
<path d="M255.15,455.60h2.0M265.65,455.60h2.0M261.40,449.35v2.0M261.40,459.85v2.0" stroke="#c04000" stroke-width="1.25" fill="none"/>
<circle cx="307.00" cy="443.00" r="5.25" fill="none" stroke="#c04000" stroke-width="1.25"/>
<path d="M300.75,443.00h2.0M311.25,443.00h2.0M307.00,436.75v2.0M307.00,447.25v2.0" stroke="#c04000" stroke-width="1.25" fill="none"/>
<circle cx="314.00" cy="437.00" r="5.25" fill="none" stroke="#c04000" stroke-width="1.25"/>
<path d="M307.75,437.00h2.0M318.25,437.00h2.0M314.00,430.75v2.0M314.00,441.25v2.0" stroke="#c04000" stroke-width="1.25" fill="none"/>
<circle cx="360.00" cy="441.00" r="5.25" fill="none" stroke="#c04000" stroke-width="1.25"/>
<path d="M353.75,441.00h2.0M364.25,441.00h2.0M360.00,434.75v2.0M360.00,445.25v2.0" stroke="#c04000" stroke-width="1.25" fill="none"/>
<circle cx="366.60" cy="447.60" r="5.25" fill="none" stroke="#c04000" stroke-width="1.25"/>
<path d="M360.35,447.60h2.0M370.85,447.60h2.0M366.60,441.35v2.0M366.60,451.85v2.0" stroke="#c04000" stroke-width="1.25" fill="none"/>
<circle cx="413.40" cy="436.50" r="5.25" fill="none" stroke="#c04000" stroke-width="1.25"/>
<path d="M407.15,436.50h2.0M417.65,436.50h2.0M413.40,430.25v2.0M413.40,440.75v2.0" stroke="#c04000" stroke-width="1.25" fill="none"/>
<circle cx="419.10" cy="482.10" r="5.25" fill="none" stroke="#c04000" stroke-width="1.25"/>
<path d="M412.85,482.10h2.0M423.35,482.10h2.0M419.10,475.85v2.0M419.10,486.35v2.0" stroke="#c04000" stroke-width="1.25" fill="none"/>
<circle cx="466.50" cy="436.50" r="5.25" fill="none" stroke="#c04000" stroke-width="1.25"/>
<path d="M460.25,436.50h2.0M470.75,436.50h2.0M466.50,430.25v2.0M466.50,440.75v2.0" stroke="#c04000" stroke-width="1.25" fill="none"/>
<circle cx="472.50" cy="472.50" r="5.25" fill="none" stroke="#c04000" stroke-width="1.25"/>
<path d="M466.25,472.50h2.0M476.75,472.50h2.0M472.50,466.25v2.0M472.50,476.75v2.0" stroke="#c04000" stroke-width="1.25" fill="none"/>
<circle cx="518.10" cy="413.40" r="5.25" fill="none" stroke="#c04000" stroke-width="1.25"/>
<path d="M511.85,413.40h2.0M522.35,413.40h2.0M518.10,407.15v2.0M518.10,417.65v2.0" stroke="#c04000" stroke-width="1.25" fill="none"/>
<circle cx="524.40" cy="438.60" r="5.25" fill="none" stroke="#c04000" stroke-width="1.25"/>
<path d="M518.15,438.60h2.0M528.65,438.60h2.0M524.40,432.35v2.0M524.40,442.85v2.0" stroke="#c04000" stroke-width="1.25" fill="none"/>
<circle cx="571.50" cy="443.40" r="5.25" fill="none" stroke="#c04000" stroke-width="1.25"/>
<path d="M565.25,443.40h2.0M575.75,443.40h2.0M571.50,437.15v2.0M571.50,447.65v2.0" stroke="#c04000" stroke-width="1.25" fill="none"/>
<circle cx="576.90" cy="435.60" r="5.25" fill="none" stroke="#c04000" stroke-width="1.25"/>
<path d="M570.65,435.60h2.0M581.15,435.60h2.0M576.90,429.35v2.0M576.90,439.85v2.0" stroke="#c04000" stroke-width="1.25" fill="none"/>
<circle cx="624.00" cy="438.30" r="5.25" fill="none" stroke="#c04000" stroke-width="1.25"/>
<path d="M617.75,438.30h2.0M628.25,438.30h2.0M624.00,432.05v2.0M624.00,442.55v2.0" stroke="#c04000" stroke-width="1.25" fill="none"/>
<circle cx="630.30" cy="381.60" r="5.25" fill="none" stroke="#c04000" stroke-width="1.25"/>
<path d="M624.05,381.60h2.0M634.55,381.60h2.0M630.30,375.35v2.0M630.30,385.85v2.0" stroke="#c04000" stroke-width="1.25" fill="none"/>
<circle cx="676.20" cy="418.20" r="5.25" fill="none" stroke="#c04000" stroke-width="1.25"/>
<path d="M669.95,418.20h2.0M680.45,418.20h2.0M676.20,411.95v2.0M676.20,422.45v2.0" stroke="#c04000" stroke-width="1.25" fill="none"/>
<circle cx="683.10" cy="436.20" r="5.25" fill="none" stroke="#c04000" stroke-width="1.25"/>
<path d="M676.85,436.20h2.0M687.35,436.20h2.0M683.10,429.95v2.0M683.10,440.45v2.0" stroke="#c04000" stroke-width="1.25" fill="none"/>
<circle cx="729.30" cy="466.20" r="5.25" fill="none" stroke="#c04000" stroke-width="1.25"/>
<path d="M723.05,466.20h2.0M733.55,466.20h2.0M729.30,459.95v2.0M729.30,470.45v2.0" stroke="#c04000" stroke-width="1.25" fill="none"/>
<circle cx="735.00" cy="450.00" r="5.25" fill="none" stroke="#c04000" stroke-width="1.25"/>
<path d="M728.75,450.00h2.0M739.25,450.00h2.0M735.00,443.75v2.0M735.00,454.25v2.0" stroke="#c04000" stroke-width="1.25" fill="none"/>
<circle cx="782.10" cy="438.30" r="5.25" fill="none" stroke="#c04000" stroke-width="1.25"/>
<path d="M775.85,438.30h2.0M786.35,438.30h2.0M782.10,432.05v2.0M782.10,442.55v2.0" stroke="#c04000" stroke-width="1.25" fill="none"/>
<circle cx="788.10" cy="474.30" r="5.25" fill="none" stroke="#c04000" stroke-width="1.25"/>
<path d="M781.85,474.30h2.0M792.35,474.30h2.0M788.10,468.05v2.0M788.10,478.55v2.0" stroke="#c04000" stroke-width="1.25" fill="none"/>
<circle cx="835.20" cy="430.50" r="5.25" fill="none" stroke="#c04000" stroke-width="1.25"/>
<path d="M828.95,430.50h2.0M839.45,430.50h2.0M835.20,424.25v2.0M835.20,434.75v2.0" stroke="#c04000" stroke-width="1.25" fill="none"/>
<circle cx="841.20" cy="473.40" r="5.25" fill="none" stroke="#c04000" stroke-width="1.25"/>
<path d="M834.95,473.40h2.0M845.45,473.40h2.0M841.20,467.15v2.0M841.20,477.65v2.0" stroke="#c04000" stroke-width="1.25" fill="none"/>
<circle cx="887.40" cy="424.20" r="5.25" fill="none" stroke="#c04000" stroke-width="1.25"/>
<path d="M881.15,424.20h2.0M891.65,424.20h2.0M887.40,417.95v2.0M887.40,428.45v2.0" stroke="#c04000" stroke-width="1.25" fill="none"/>
<circle cx="893.40" cy="479.40" r="5.25" fill="none" stroke="#c04000" stroke-width="1.25"/>
<path d="M887.15,479.40h2.0M897.65,479.40h2.0M893.40,473.15v2.0M893.40,483.65v2.0" stroke="#c04000" stroke-width="1.25" fill="none"/>
<circle cx="940.00" cy="421.30" r="5.25" fill="none" stroke="#c04000" stroke-width="1.25"/>
<path d="M933.75,421.30h2.0M944.25,421.30h2.0M940.00,415.05v2.0M940.00,425.55v2.0" stroke="#c04000" stroke-width="1.25" fill="none"/>
<circle cx="946.70" cy="426.60" r="5.25" fill="none" stroke="#c04000" stroke-width="1.25"/>
<path d="M940.45,426.60h2.0M950.95,426.60h2.0M946.70,420.35v2.0M946.70,430.85v2.0" stroke="#c04000" stroke-width="1.25" fill="none"/>
<circle cx="993.60" cy="420.30" r="5.25" fill="none" stroke="#c04000" stroke-width="1.25"/>
<path d="M987.35,420.30h2.0M997.85,420.30h2.0M993.60,414.05v2.0M993.60,424.55v2.0" stroke="#c04000" stroke-width="1.25" fill="none"/>
<circle cx="999.50" cy="436.30" r="5.25" fill="none" stroke="#c04000" stroke-width="1.25"/>
<path d="M993.25,436.30h2.0M1003.75,436.30h2.0M999.50,430.05v2.0M999.50,440.55v2.0" stroke="#c04000" stroke-width="1.25" fill="none"/>
<circle cx="1045.20" cy="387.30" r="5.25" fill="none" stroke="#c04000" stroke-width="1.25"/>
<path d="M1038.95,387.30h2.0M1049.45,387.30h2.0M1045.20,381.05v2.0M1045.20,391.55v2.0" stroke="#c04000" stroke-width="1.25" fill="none"/>
<circle cx="1052.40" cy="441.30" r="5.25" fill="none" stroke="#c04000" stroke-width="1.25"/>
<path d="M1046.15,441.30h2.0M1056.65,441.30h2.0M1052.40,435.05v2.0M1052.40,445.55v2.0" stroke="#c04000" stroke-width="1.25" fill="none"/>
<circle cx="1098.30" cy="445.20" r="5.25" fill="none" stroke="#c04000" stroke-width="1.25"/>
<path d="M1092.05,445.20h2.0M1102.55,445.20h2.0M1098.30,438.95v2.0M1098.30,449.45v2.0" stroke="#c04000" stroke-width="1.25" fill="none"/>
<circle cx="1104.30" cy="408.30" r="5.25" fill="none" stroke="#c04000" stroke-width="1.25"/>
<path d="M1098.05,408.30h2.0M1108.55,408.30h2.0M1104.30,402.05v2.0M1104.30,412.55v2.0" stroke="#c04000" stroke-width="1.25" fill="none"/>
<circle cx="1151.50" cy="443.10" r="5.25" fill="none" stroke="#c04000" stroke-width="1.25"/>
<path d="M1145.25,443.10h2.0M1155.75,443.10h2.0M1151.50,436.85v2.0M1151.50,447.35v2.0" stroke="#c04000" stroke-width="1.25" fill="none"/>
<circle cx="1157.20" cy="422.40" r="5.25" fill="none" stroke="#c04000" stroke-width="1.25"/>
<path d="M1150.95,422.40h2.0M1161.45,422.40h2.0M1157.20,416.15v2.0M1157.20,426.65v2.0" stroke="#c04000" stroke-width="1.25" fill="none"/>
<circle cx="1203.40" cy="432.30" r="5.25" fill="none" stroke="#c04000" stroke-width="1.25"/>
<path d="M1197.15,432.30h2.0M1207.65,432.30h2.0M1203.40,426.05v2.0M1203.40,436.55v2.0" stroke="#c04000" stroke-width="1.25" fill="none"/>
<circle cx="1210.30" cy="413.40" r="5.25" fill="none" stroke="#c04000" stroke-width="1.25"/>
<path d="M1204.05,413.40h2.0M1214.55,413.40h2.0M1210.30,407.15v2.0M1210.30,417.65v2.0" stroke="#c04000" stroke-width="1.25" fill="none"/>
<circle cx="1256.20" cy="452.40" r="5.25" fill="none" stroke="#c04000" stroke-width="1.25"/>
<path d="M1249.95,452.40h2.0M1260.45,452.40h2.0M1256.20,446.15v2.0M1256.20,456.65v2.0" stroke="#c04000" stroke-width="1.25" fill="none"/>
<circle cx="1262.20" cy="449.10" r="5.25" fill="none" stroke="#c04000" stroke-width="1.25"/>
<path d="M1255.95,449.10h2.0M1266.45,449.10h2.0M1262.20,442.85v2.0M1262.20,453.35v2.0" stroke="#c04000" stroke-width="1.25" fill="none"/>
<circle cx="1309.00" cy="427.20" r="5.25" fill="none" stroke="#c04000" stroke-width="1.25"/>
<path d="M1302.75,427.20h2.0M1313.25,427.20h2.0M1309.00,420.95v2.0M1309.00,431.45v2.0" stroke="#c04000" stroke-width="1.25" fill="none"/>
<circle cx="1315.30" cy="434.10" r="5.25" fill="none" stroke="#c04000" stroke-width="1.25"/>
<path d="M1309.05,434.10h2.0M1319.55,434.10h2.0M1315.30,427.85v2.0M1315.30,438.35v2.0" stroke="#c04000" stroke-width="1.25" fill="none"/>
<circle cx="1362.40" cy="456.60" r="5.25" fill="none" stroke="#c04000" stroke-width="1.25"/>
<path d="M1356.15,456.60h2.0M1366.65,456.60h2.0M1362.40,450.35v2.0M1362.40,460.85v2.0" stroke="#c04000" stroke-width="1.25" fill="none"/>
<circle cx="105.40" cy="523.00" r="5.55" fill="#c8c800"/>
<path d="M105.40,516.55v12.90M99.55,523.00h11.70" stroke="#c8c800" stroke-width="1.2" fill="none"/>
<circle cx="151.40" cy="531.00" r="5.55" fill="#c8c800"/>
<path d="M151.40,524.55v12.90M145.55,531.00h11.70" stroke="#c8c800" stroke-width="1.2" fill="none"/>
<circle cx="208.50" cy="534.40" r="5.55" fill="#c8c800"/>
<path d="M208.50,527.95v12.90M202.65,534.40h11.70" stroke="#c8c800" stroke-width="1.2" fill="none"/>
<circle cx="255.00" cy="530.40" r="5.55" fill="#c8c800"/>
<path d="M255.00,523.95v12.90M249.15,530.40h11.70" stroke="#c8c800" stroke-width="1.2" fill="none"/>
<circle cx="261.40" cy="533.00" r="5.55" fill="#c8c800"/>
<path d="M261.40,526.55v12.90M255.55,533.00h11.70" stroke="#c8c800" stroke-width="1.2" fill="none"/>
<circle cx="307.00" cy="533.00" r="5.55" fill="#c8c800"/>
<path d="M307.00,526.55v12.90M301.15,533.00h11.70" stroke="#c8c800" stroke-width="1.2" fill="none"/>
<circle cx="314.00" cy="531.00" r="5.55" fill="#c8c800"/>
<path d="M314.00,524.55v12.90M308.15,531.00h11.70" stroke="#c8c800" stroke-width="1.2" fill="none"/>
<circle cx="360.00" cy="533.00" r="5.55" fill="#c8c800"/>
<path d="M360.00,526.55v12.90M354.15,533.00h11.70" stroke="#c8c800" stroke-width="1.2" fill="none"/>
<circle cx="366.60" cy="533.50" r="5.55" fill="#c8c800"/>
<path d="M366.60,527.05v12.90M360.75,533.50h11.70" stroke="#c8c800" stroke-width="1.2" fill="none"/>
<circle cx="413.40" cy="532.00" r="5.55" fill="#c8c800"/>
<path d="M413.40,525.55v12.90M407.55,532.00h11.70" stroke="#c8c800" stroke-width="1.2" fill="none"/>
<circle cx="419.10" cy="533.00" r="5.55" fill="#c8c800"/>
<path d="M419.10,526.55v12.90M413.25,533.00h11.70" stroke="#c8c800" stroke-width="1.2" fill="none"/>
<circle cx="466.50" cy="532.00" r="5.55" fill="#c8c800"/>
<path d="M466.50,525.55v12.90M460.65,532.00h11.70" stroke="#c8c800" stroke-width="1.2" fill="none"/>
<circle cx="472.50" cy="531.00" r="5.55" fill="#c8c800"/>
<path d="M472.50,524.55v12.90M466.65,531.00h11.70" stroke="#c8c800" stroke-width="1.2" fill="none"/>
<circle cx="518.10" cy="530.00" r="5.55" fill="#c8c800"/>
<path d="M518.10,523.55v12.90M512.25,530.00h11.70" stroke="#c8c800" stroke-width="1.2" fill="none"/>
<circle cx="524.40" cy="532.00" r="5.55" fill="#c8c800"/>
<path d="M524.40,525.55v12.90M518.55,532.00h11.70" stroke="#c8c800" stroke-width="1.2" fill="none"/>
<circle cx="571.50" cy="514.50" r="5.55" fill="#c8c800"/>
<path d="M571.50,508.05v12.90M565.65,514.50h11.70" stroke="#c8c800" stroke-width="1.2" fill="none"/>
<circle cx="576.90" cy="531.00" r="5.55" fill="#c8c800"/>
<path d="M576.90,524.55v12.90M571.05,531.00h11.70" stroke="#c8c800" stroke-width="1.2" fill="none"/>
<circle cx="624.00" cy="522.00" r="5.55" fill="#c8c800"/>
<path d="M624.00,515.55v12.90M618.15,522.00h11.70" stroke="#c8c800" stroke-width="1.2" fill="none"/>
<circle cx="630.30" cy="532.00" r="5.55" fill="#c8c800"/>
<path d="M630.30,525.55v12.90M624.45,532.00h11.70" stroke="#c8c800" stroke-width="1.2" fill="none"/>
<circle cx="676.20" cy="532.00" r="5.55" fill="#c8c800"/>
<path d="M676.20,525.55v12.90M670.35,532.00h11.70" stroke="#c8c800" stroke-width="1.2" fill="none"/>
<circle cx="683.10" cy="531.00" r="5.55" fill="#c8c800"/>
<path d="M683.10,524.55v12.90M677.25,531.00h11.70" stroke="#c8c800" stroke-width="1.2" fill="none"/>
<circle cx="729.30" cy="532.00" r="5.55" fill="#c8c800"/>
<path d="M729.30,525.55v12.90M723.45,532.00h11.70" stroke="#c8c800" stroke-width="1.2" fill="none"/>
<circle cx="735.00" cy="533.00" r="5.55" fill="#c8c800"/>
<path d="M735.00,526.55v12.90M729.15,533.00h11.70" stroke="#c8c800" stroke-width="1.2" fill="none"/>
<circle cx="782.10" cy="528.00" r="5.55" fill="#c8c800"/>
<path d="M782.10,521.55v12.90M776.25,528.00h11.70" stroke="#c8c800" stroke-width="1.2" fill="none"/>
<circle cx="788.10" cy="531.00" r="5.55" fill="#c8c800"/>
<path d="M788.10,524.55v12.90M782.25,531.00h11.70" stroke="#c8c800" stroke-width="1.2" fill="none"/>
<circle cx="835.20" cy="533.00" r="5.55" fill="#c8c800"/>
<path d="M835.20,526.55v12.90M829.35,533.00h11.70" stroke="#c8c800" stroke-width="1.2" fill="none"/>
<circle cx="841.20" cy="533.00" r="5.55" fill="#c8c800"/>
<path d="M841.20,526.55v12.90M835.35,533.00h11.70" stroke="#c8c800" stroke-width="1.2" fill="none"/>
<circle cx="887.40" cy="533.00" r="5.55" fill="#c8c800"/>
<path d="M887.40,526.55v12.90M881.55,533.00h11.70" stroke="#c8c800" stroke-width="1.2" fill="none"/>
<circle cx="893.40" cy="533.00" r="5.55" fill="#c8c800"/>
<path d="M893.40,526.55v12.90M887.55,533.00h11.70" stroke="#c8c800" stroke-width="1.2" fill="none"/>
<circle cx="939.90" cy="533.00" r="5.55" fill="#c8c800"/>
<path d="M939.90,526.55v12.90M934.05,533.00h11.70" stroke="#c8c800" stroke-width="1.2" fill="none"/>
<circle cx="946.20" cy="533.00" r="5.55" fill="#c8c800"/>
<path d="M946.20,526.55v12.90M940.35,533.00h11.70" stroke="#c8c800" stroke-width="1.2" fill="none"/>
<circle cx="993.00" cy="528.00" r="5.55" fill="#c8c800"/>
<path d="M993.00,521.55v12.90M987.15,528.00h11.70" stroke="#c8c800" stroke-width="1.2" fill="none"/>
<circle cx="999.30" cy="531.00" r="5.55" fill="#c8c800"/>
<path d="M999.30,524.55v12.90M993.45,531.00h11.70" stroke="#c8c800" stroke-width="1.2" fill="none"/>
<circle cx="1045.20" cy="531.00" r="5.55" fill="#c8c800"/>
<path d="M1045.20,524.55v12.90M1039.35,531.00h11.70" stroke="#c8c800" stroke-width="1.2" fill="none"/>
<circle cx="1052.40" cy="533.00" r="5.55" fill="#c8c800"/>
<path d="M1052.40,526.55v12.90M1046.55,533.00h11.70" stroke="#c8c800" stroke-width="1.2" fill="none"/>
<circle cx="1098.30" cy="532.00" r="5.55" fill="#c8c800"/>
<path d="M1098.30,525.55v12.90M1092.45,532.00h11.70" stroke="#c8c800" stroke-width="1.2" fill="none"/>
<circle cx="1104.30" cy="529.00" r="5.55" fill="#c8c800"/>
<path d="M1104.30,522.55v12.90M1098.45,529.00h11.70" stroke="#c8c800" stroke-width="1.2" fill="none"/>
<circle cx="1151.50" cy="533.00" r="5.55" fill="#c8c800"/>
<path d="M1151.50,526.55v12.90M1145.65,533.00h11.70" stroke="#c8c800" stroke-width="1.2" fill="none"/>
<circle cx="1157.20" cy="533.00" r="5.55" fill="#c8c800"/>
<path d="M1157.20,526.55v12.90M1151.35,533.00h11.70" stroke="#c8c800" stroke-width="1.2" fill="none"/>
<circle cx="1203.40" cy="533.00" r="5.55" fill="#c8c800"/>
<path d="M1203.40,526.55v12.90M1197.55,533.00h11.70" stroke="#c8c800" stroke-width="1.2" fill="none"/>
<circle cx="1210.30" cy="530.00" r="5.55" fill="#c8c800"/>
<path d="M1210.30,523.55v12.90M1204.45,530.00h11.70" stroke="#c8c800" stroke-width="1.2" fill="none"/>
<circle cx="1256.20" cy="532.00" r="5.55" fill="#c8c800"/>
<path d="M1256.20,525.55v12.90M1250.35,532.00h11.70" stroke="#c8c800" stroke-width="1.2" fill="none"/>
<circle cx="1262.20" cy="532.00" r="5.55" fill="#c8c800"/>
<path d="M1262.20,525.55v12.90M1256.35,532.00h11.70" stroke="#c8c800" stroke-width="1.2" fill="none"/>
<circle cx="1309.00" cy="533.00" r="5.55" fill="#c8c800"/>
<path d="M1309.00,526.55v12.90M1303.15,533.00h11.70" stroke="#c8c800" stroke-width="1.2" fill="none"/>
<circle cx="1315.30" cy="529.00" r="5.55" fill="#c8c800"/>
<path d="M1315.30,522.55v12.90M1309.45,529.00h11.70" stroke="#c8c800" stroke-width="1.2" fill="none"/>
<circle cx="1362.40" cy="531.00" r="5.55" fill="#c8c800"/>
<path d="M1362.40,524.55v12.90M1356.55,531.00h11.70" stroke="#c8c800" stroke-width="1.2" fill="none"/>
<path d="M230.70,456.32L222.72,468.32L238.68,468.32Z" fill="none" stroke="#4169e1" stroke-width="1"/>
<path d="M437.10,456.32L429.12,468.32L445.08,468.32Z" fill="none" stroke="#4169e1" stroke-width="1"/>
<path d="M511.50,456.32L503.52,468.32L519.48,468.32Z" fill="none" stroke="#4169e1" stroke-width="1"/>
<path d="M611.40,456.32L603.42,468.32L619.38,468.32Z" fill="none" stroke="#4169e1" stroke-width="1"/>
<path d="M634.50,456.32L626.52,468.32L642.48,468.32Z" fill="none" stroke="#4169e1" stroke-width="1"/>
<path d="M660.30,456.32L652.32,468.32L668.28,468.32Z" fill="none" stroke="#4169e1" stroke-width="1"/>
<path d="M926.40,456.32L918.42,468.32L934.38,468.32Z" fill="none" stroke="#4169e1" stroke-width="1"/>
<path d="M1002.30,456.32L994.32,468.32L1010.28,468.32Z" fill="none" stroke="#4169e1" stroke-width="1"/>
<path d="M1212.40,456.32L1204.42,468.32L1220.38,468.32Z" fill="none" stroke="#4169e1" stroke-width="1"/>
<path d="M944.60,402.42L936.62,414.42L952.58,414.42Z" fill="#ffc020" stroke="#ffc020" stroke-width="1"/>
<path d="M997.50,402.42L989.52,414.42L1005.48,414.42Z" fill="#ffc020" stroke="#ffc020" stroke-width="1"/>
<path d="M93,349.9H160L152,362.9H101Z" fill="#306080"/>
<path d="M199.2,349.9H1374.2L1366.5,362.9H207Z" fill="#306080"/>
<path d="M211.9,350.2h0.9v2.6h-0.9ZM131.7,363.09999999999997L132.6,361.2L133.5,363.09999999999997ZM261.1,363.09999999999997L262.0,361.2L262.9,363.09999999999997ZM437.7,363.09999999999997L438.6,361.2L439.5,363.09999999999997ZM506.1,363.09999999999997L507.0,361.2L507.9,363.09999999999997ZM555.1,363.09999999999997L556.0,361.2L556.9,363.09999999999997ZM605.1,363.09999999999997L606.0,361.2L606.9,363.09999999999997ZM639.1,363.09999999999997L640.0,361.2L640.9,363.09999999999997ZM673.1,363.09999999999997L674.0,361.2L674.9,363.09999999999997ZM731.1,363.09999999999997L732.0,361.2L732.9,363.09999999999997ZM759.1,363.09999999999997L760.0,361.2L760.9,363.09999999999997ZM822.0,363.09999999999997L822.9,361.2L823.8,363.09999999999997ZM890.5,363.09999999999997L891.4,361.2L892.3,363.09999999999997ZM1006.1,363.09999999999997L1007.0,361.2L1007.9,363.09999999999997ZM1074.1,363.09999999999997L1075.0,361.2L1075.9,363.09999999999997ZM1126.1,363.09999999999997L1127.0,361.2L1127.9,363.09999999999997ZM1205.6,363.09999999999997L1206.5,361.2L1207.4,363.09999999999997ZM1266.1,363.09999999999997L1267.0,361.2L1267.9,363.09999999999997ZM1341.9,363.09999999999997L1342.8,361.2L1343.7,363.09999999999997Z" fill="#fff"/>
<rect x="101.5" y="57.5" width="1265.0" height="482.0" fill="none" stroke="#000" stroke-width="1"/>
</svg></div></body></html>
